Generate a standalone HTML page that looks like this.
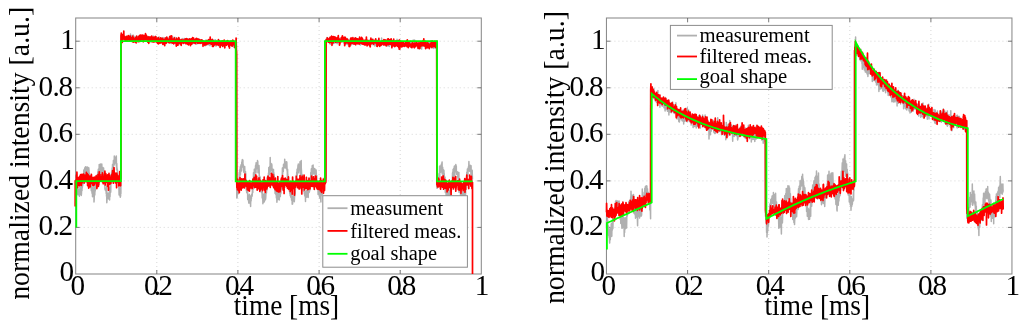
<!DOCTYPE html>
<html><head><meta charset="utf-8"><title>chart</title>
<style>
html,body{margin:0;padding:0;background:#fff;}
body{width:1024px;height:326px;overflow:hidden;font-family:"Liberation Serif",serif;}
svg{display:block;}
svg text{font-family:"Liberation Serif",serif;fill:#000;}
body{-webkit-font-smoothing:antialiased;}
svg{will-change:transform;transform:translateZ(0);}
</style></head><body>
<svg width="1024" height="326" viewBox="0 0 1024 326">
<rect width="1024" height="326" fill="#fff"/>
<g stroke="#d6d6d6" stroke-width="1" stroke-dasharray="1 3" fill="none"><line x1="156.8" y1="18.0" x2="156.8" y2="274.0"/><line x1="237.9" y1="18.0" x2="237.9" y2="274.0"/><line x1="319.1" y1="18.0" x2="319.1" y2="274.0"/><line x1="400.2" y1="18.0" x2="400.2" y2="274.0"/><line x1="75.7" y1="227.4" x2="481.3" y2="227.4"/><line x1="75.7" y1="180.9" x2="481.3" y2="180.9"/><line x1="75.7" y1="134.3" x2="481.3" y2="134.3"/><line x1="75.7" y1="87.8" x2="481.3" y2="87.8"/><line x1="75.7" y1="41.2" x2="481.3" y2="41.2"/></g>
<rect x="75.7" y="18.0" width="405.6" height="256.0" fill="none" stroke="#8a8a8a" stroke-width="1.05"/>
<g stroke="#6a6a6a" stroke-width="0.9"><line x1="156.8" y1="274.0" x2="156.8" y2="270.0"/><line x1="156.8" y1="18.0" x2="156.8" y2="22.0"/><line x1="237.9" y1="274.0" x2="237.9" y2="270.0"/><line x1="237.9" y1="18.0" x2="237.9" y2="22.0"/><line x1="319.1" y1="274.0" x2="319.1" y2="270.0"/><line x1="319.1" y1="18.0" x2="319.1" y2="22.0"/><line x1="400.2" y1="274.0" x2="400.2" y2="270.0"/><line x1="400.2" y1="18.0" x2="400.2" y2="22.0"/><line x1="75.7" y1="227.4" x2="79.7" y2="227.4"/><line x1="481.3" y1="227.4" x2="477.3" y2="227.4"/><line x1="75.7" y1="180.9" x2="79.7" y2="180.9"/><line x1="481.3" y1="180.9" x2="477.3" y2="180.9"/><line x1="75.7" y1="134.3" x2="79.7" y2="134.3"/><line x1="481.3" y1="134.3" x2="477.3" y2="134.3"/><line x1="75.7" y1="87.8" x2="79.7" y2="87.8"/><line x1="481.3" y1="87.8" x2="477.3" y2="87.8"/><line x1="75.7" y1="41.2" x2="79.7" y2="41.2"/><line x1="481.3" y1="41.2" x2="477.3" y2="41.2"/></g>
<path d="M75.7 204.2L75.9 183.7L76.0 179.0L76.2 181.9L76.3 179.8L76.5 182.9L76.6 186.6L76.8 191.1L76.9 186.3L77.1 181.3L77.2 188.4L77.4 192.9L77.5 187.0L77.7 192.7L77.8 194.7L78.0 187.3L78.1 189.9L78.3 194.3L78.4 193.7L78.6 194.5L78.8 189.7L78.9 190.8L79.1 195.3L79.2 192.6L79.4 196.3L79.5 189.9L79.7 190.5L79.8 192.6L80.0 185.2L80.1 193.5L80.3 188.5L80.4 189.1L80.6 194.2L80.7 194.4L80.9 187.5L81.0 194.0L81.2 189.3L81.3 195.4L81.5 193.1L81.7 186.6L81.8 190.6L82.0 190.5L82.1 185.4L82.3 187.6L82.4 186.8L82.6 183.3L82.7 185.3L82.9 183.5L83.0 176.8L83.2 176.9L83.3 180.8L83.5 176.2L83.6 179.3L83.8 169.9L83.9 179.7L84.1 170.7L84.2 171.6L84.4 172.0L84.6 172.3L84.7 168.1L84.9 170.2L85.0 172.1L85.2 172.4L85.3 173.4L85.5 166.7L85.6 174.3L85.8 175.3L85.9 170.7L86.1 177.4L86.2 170.6L86.4 167.3L86.5 167.1L86.7 168.1L86.8 169.5L87.0 167.4L87.1 170.4L87.3 170.7L87.5 172.0L87.6 167.1L87.8 179.3L87.9 170.5L88.1 169.4L88.2 168.9L88.4 171.7L88.5 171.5L88.7 174.9L88.8 167.8L89.0 170.4L89.1 180.5L89.3 174.8L89.4 173.0L89.6 174.9L89.7 178.1L89.9 180.2L90.0 184.9L90.2 178.7L90.4 181.2L90.5 179.5L90.7 182.8L90.8 188.0L91.0 187.7L91.1 185.3L91.3 190.7L91.4 186.0L91.6 181.9L91.7 181.4L91.9 182.1L92.0 193.3L92.2 189.4L92.3 187.2L92.5 196.7L92.6 189.7L92.8 188.2L93.0 193.8L93.1 193.6L93.3 193.1L93.4 196.1L93.6 191.8L93.7 189.7L93.9 187.1L94.0 201.9L94.2 198.6L94.3 193.3L94.5 193.1L94.6 192.9L94.8 195.1L94.9 191.5L95.1 184.3L95.2 191.3L95.4 187.2L95.5 187.2L95.7 182.8L95.9 188.1L96.0 187.0L96.2 182.6L96.3 182.5L96.5 181.4L96.6 175.2L96.8 179.7L96.9 177.7L97.1 186.9L97.2 179.4L97.4 176.1L97.5 176.1L97.7 173.8L97.8 172.2L98.0 171.4L98.1 177.4L98.3 169.2L98.4 173.2L98.6 174.7L98.8 172.0L98.9 172.0L99.1 171.6L99.2 164.4L99.4 167.0L99.5 172.0L99.7 169.0L99.8 167.5L100.0 171.9L100.1 164.2L100.3 170.4L100.4 177.1L100.6 164.0L100.7 169.2L100.9 169.4L101.0 165.3L101.2 171.9L101.3 169.7L101.5 170.6L101.7 168.5L101.8 164.1L102.0 169.9L102.1 177.6L102.3 177.7L102.4 169.1L102.6 168.0L102.7 175.4L102.9 172.9L103.0 167.5L103.2 175.6L103.3 180.5L103.5 177.4L103.6 167.9L103.8 179.8L103.9 178.6L104.1 177.5L104.2 176.9L104.4 181.2L104.6 182.8L104.7 179.6L104.9 188.4L105.0 189.1L105.2 189.6L105.3 188.1L105.5 190.5L105.6 189.8L105.8 190.9L105.9 190.6L106.1 189.1L106.2 193.6L106.4 191.1L106.5 196.3L106.7 185.9L106.8 202.8L107.0 199.9L107.1 192.8L107.3 195.7L107.5 197.2L107.6 194.6L107.8 198.5L107.9 195.9L108.1 193.4L108.2 196.6L108.4 196.6L108.5 194.4L108.7 197.4L108.8 195.7L109.0 199.2L109.1 192.4L109.3 197.6L109.4 189.3L109.6 200.1L109.7 193.2L109.9 187.5L110.0 196.8L110.2 189.5L110.4 188.0L110.5 187.1L110.7 192.3L110.8 189.7L111.0 174.4L111.1 175.3L111.3 179.9L111.4 179.0L111.6 172.0L111.7 175.5L111.9 176.0L112.0 174.4L112.2 168.0L112.3 176.4L112.5 164.6L112.6 170.3L112.8 167.9L112.9 169.9L113.1 171.6L113.3 166.9L113.4 160.5L113.6 163.4L113.7 161.3L113.9 161.5L114.0 164.0L114.2 165.0L114.3 156.1L114.5 157.5L114.6 162.9L114.8 158.7L114.9 158.3L115.1 159.7L115.2 159.7L115.4 157.5L115.5 159.4L115.7 163.2L115.8 160.4L116.0 161.0L116.2 165.1L116.3 155.9L116.5 165.4L116.6 169.7L116.8 163.6L116.9 167.1L117.1 168.3L117.2 171.0L117.4 169.7L117.5 173.4L117.7 177.4L117.8 176.5L118.0 180.0L118.1 174.9L118.3 176.2L118.4 181.4L118.6 185.7L118.7 178.6L118.9 186.8L119.1 194.9L119.2 190.3L119.4 188.4L119.5 187.7L119.7 188.7L119.8 192.7L120.0 189.7L120.1 195.6L120.3 197.2L120.4 193.2L120.6 196.3L120.7 193.4L120.9 193.4L121.0 36.6L121.2 37.4L121.3 38.5L121.5 38.2L121.7 39.4L121.8 37.9L122.0 37.7L122.1 37.8L122.3 38.9L122.4 38.0L122.6 37.1L122.7 37.8L122.9 38.2L123.0 38.7L123.2 38.7L123.3 39.0L123.5 35.5L123.6 37.9L123.8 37.9L123.9 37.9L124.1 37.1L124.2 39.1L124.4 37.4L124.6 38.0L124.7 37.2L124.9 37.9L125.0 37.4L125.2 36.8L125.3 37.8L125.5 39.3L125.6 39.5L125.8 39.2L125.9 37.8L126.1 39.9L126.2 37.9L126.4 37.4L126.5 36.8L126.7 37.8L126.8 40.5L127.0 38.7L127.1 38.2L127.3 36.9L127.5 38.0L127.6 39.5L127.8 38.5L127.9 39.0L128.1 37.0L128.2 39.3L128.4 36.6L128.5 39.1L128.7 36.6L128.8 36.2L129.0 37.5L129.1 39.7L129.3 37.5L129.4 38.4L129.6 38.1L129.7 37.6L129.9 37.3L130.0 38.4L130.2 35.8L130.4 38.2L130.5 34.1L130.7 36.5L130.8 36.5L131.0 38.0L131.1 35.7L131.3 37.6L131.4 37.0L131.6 38.2L131.7 39.3L131.9 36.6L132.0 36.6L132.2 38.7L132.3 37.3L132.5 39.9L132.6 36.9L132.8 37.6L132.9 37.3L133.1 35.0L133.3 39.2L133.4 38.5L133.6 39.6L133.7 38.6L133.9 37.6L134.0 36.2L134.2 38.3L134.3 40.8L134.5 38.8L134.6 37.6L134.8 40.8L134.9 41.2L135.1 39.8L135.2 37.9L135.4 37.1L135.5 39.2L135.7 37.9L135.8 39.9L136.0 36.7L136.2 39.4L136.3 39.5L136.5 39.0L136.6 38.5L136.8 39.9L136.9 39.0L137.1 39.9L137.2 39.4L137.4 40.1L137.5 39.0L137.7 37.6L137.8 38.4L138.0 36.5L138.1 37.0L138.3 40.4L138.4 37.6L138.6 40.5L138.7 37.1L138.9 36.6L139.1 37.9L139.2 37.8L139.4 39.6L139.5 37.4L139.7 37.6L139.8 38.2L140.0 37.7L140.1 37.0L140.3 38.0L140.4 37.9L140.6 39.3L140.7 36.9L140.9 39.6L141.0 38.0L141.2 36.8L141.3 38.9L141.5 39.3L141.6 40.2L141.8 39.6L142.0 36.6L142.1 39.7L142.3 38.4L142.4 38.7L142.6 39.3L142.7 36.4L142.9 39.3L143.0 36.3L143.2 36.5L143.3 37.6L143.5 38.6L143.6 37.6L143.8 38.2L143.9 36.8L144.1 37.6L144.2 39.3L144.4 38.6L144.5 37.9L144.7 38.6L144.9 36.8L145.0 39.4L145.2 38.6L145.3 40.5L145.5 37.0L145.6 39.5L145.8 39.3L145.9 38.0L146.1 39.6L146.2 40.7L146.4 41.4L146.5 37.5L146.7 37.4L146.8 40.6L147.0 39.8L147.1 40.9L147.3 38.7L147.4 37.5L147.6 38.7L147.8 41.3L147.9 39.0L148.1 40.3L148.2 39.3L148.4 39.3L148.5 41.5L148.7 36.6L148.8 41.2L149.0 38.3L149.1 39.7L149.3 39.2L149.4 39.2L149.6 38.6L149.7 36.7L149.9 38.1L150.0 42.3L150.2 39.0L150.3 38.3L150.5 38.2L150.7 39.1L150.8 38.4L151.0 39.8L151.1 38.3L151.3 38.6L151.4 40.3L151.6 41.1L151.7 39.2L151.9 40.5L152.0 39.4L152.2 39.1L152.3 38.7L152.5 39.1L152.6 38.2L152.8 39.7L152.9 38.6L153.1 36.0L153.3 39.6L153.4 39.9L153.6 37.9L153.7 39.7L153.9 40.2L154.0 39.9L154.2 39.8L154.3 39.2L154.5 38.4L154.6 38.9L154.8 40.6L154.9 38.9L155.1 38.8L155.2 38.2L155.4 38.9L155.5 41.2L155.7 39.3L155.8 38.5L156.0 38.6L156.2 40.4L156.3 39.7L156.5 37.0L156.6 39.8L156.8 39.3L156.9 40.3L157.1 38.9L157.2 38.9L157.4 37.7L157.5 39.2L157.7 39.4L157.8 39.4L158.0 37.8L158.1 38.4L158.3 40.7L158.4 41.4L158.6 38.3L158.7 39.5L158.9 39.1L159.1 38.4L159.2 36.9L159.4 37.7L159.5 39.6L159.7 41.3L159.8 40.9L160.0 39.0L160.1 39.2L160.3 38.4L160.4 39.7L160.6 39.2L160.7 40.4L160.9 40.5L161.0 40.3L161.2 37.8L161.3 39.2L161.5 39.0L161.6 43.1L161.8 39.6L162.0 40.5L162.1 38.5L162.3 38.3L162.4 38.7L162.6 40.1L162.7 41.2L162.9 40.0L163.0 37.6L163.2 40.6L163.3 40.4L163.5 38.9L163.6 40.2L163.8 42.3L163.9 38.5L164.1 40.5L164.2 41.3L164.4 42.0L164.5 39.2L164.7 38.0L164.9 39.3L165.0 40.9L165.2 39.6L165.3 40.9L165.5 40.9L165.6 40.0L165.8 40.8L165.9 38.8L166.1 41.4L166.2 39.7L166.4 41.8L166.5 42.4L166.7 38.7L166.8 41.1L167.0 40.4L167.1 40.2L167.3 39.8L167.4 39.5L167.6 40.7L167.8 39.7L167.9 38.9L168.1 41.9L168.2 39.5L168.4 39.4L168.5 39.9L168.7 40.5L168.8 38.1L169.0 39.3L169.1 39.8L169.3 40.1L169.4 39.4L169.6 41.6L169.7 42.0L169.9 41.2L170.0 40.0L170.2 40.9L170.3 39.7L170.5 41.3L170.7 37.9L170.8 39.3L171.0 39.7L171.1 43.6L171.3 38.3L171.4 38.2L171.6 36.6L171.7 40.6L171.9 40.9L172.0 40.6L172.2 38.2L172.3 41.1L172.5 40.4L172.6 41.3L172.8 37.1L172.9 39.8L173.1 40.8L173.2 40.1L173.4 40.5L173.6 42.4L173.7 39.3L173.9 40.1L174.0 41.1L174.2 42.0L174.3 41.0L174.5 41.0L174.6 39.9L174.8 37.2L174.9 39.5L175.1 41.4L175.2 42.5L175.4 41.6L175.5 41.3L175.7 41.9L175.8 39.7L176.0 38.6L176.1 42.6L176.3 39.3L176.5 41.0L176.6 40.3L176.8 43.7L176.9 41.4L177.1 41.7L177.2 41.5L177.4 41.9L177.5 42.8L177.7 41.1L177.8 42.3L178.0 41.5L178.1 39.8L178.3 39.1L178.4 41.2L178.6 40.9L178.7 40.2L178.9 42.8L179.0 41.7L179.2 41.1L179.4 40.8L179.5 39.7L179.7 39.3L179.8 41.8L180.0 42.0L180.1 44.6L180.3 41.4L180.4 41.8L180.6 41.4L180.7 43.1L180.9 41.6L181.0 39.5L181.2 39.9L181.3 41.5L181.5 41.1L181.6 43.4L181.8 39.8L181.9 43.0L182.1 42.4L182.3 42.4L182.4 40.0L182.6 41.4L182.7 40.5L182.9 38.5L183.0 40.1L183.2 42.3L183.3 40.6L183.5 41.5L183.6 41.3L183.8 42.3L183.9 40.0L184.1 41.1L184.2 40.6L184.4 41.8L184.5 38.6L184.7 42.2L184.9 41.5L185.0 42.9L185.2 39.4L185.3 39.2L185.5 41.0L185.6 40.2L185.8 39.8L185.9 41.4L186.1 39.1L186.2 39.7L186.4 41.1L186.5 42.4L186.7 40.3L186.8 39.7L187.0 41.4L187.1 39.7L187.3 40.4L187.4 40.7L187.6 40.8L187.8 40.8L187.9 40.8L188.1 38.8L188.2 40.4L188.4 40.6L188.5 38.9L188.7 41.8L188.8 41.3L189.0 40.0L189.1 40.6L189.3 43.6L189.4 41.1L189.6 41.8L189.7 40.4L189.9 40.6L190.0 41.1L190.2 43.9L190.3 42.9L190.5 41.2L190.7 42.1L190.8 40.1L191.0 40.4L191.1 42.4L191.3 41.8L191.4 41.8L191.6 42.4L191.7 42.9L191.9 39.4L192.0 43.4L192.2 41.8L192.3 43.0L192.5 43.7L192.6 41.0L192.8 42.7L192.9 38.8L193.1 42.3L193.2 39.9L193.4 42.7L193.6 42.6L193.7 42.1L193.9 40.3L194.0 43.5L194.2 43.1L194.3 42.5L194.5 43.1L194.6 42.0L194.8 42.6L194.9 43.3L195.1 42.3L195.2 43.4L195.4 40.8L195.5 42.3L195.7 42.0L195.8 42.4L196.0 39.8L196.1 41.8L196.3 42.5L196.5 43.5L196.6 40.1L196.8 44.3L196.9 40.9L197.1 41.2L197.2 42.6L197.4 41.6L197.5 40.5L197.7 41.2L197.8 40.2L198.0 43.2L198.1 42.3L198.3 42.2L198.4 42.1L198.6 41.5L198.7 38.8L198.9 39.3L199.0 40.7L199.2 41.7L199.4 41.7L199.5 39.4L199.7 39.8L199.8 42.2L200.0 40.6L200.1 41.9L200.3 42.5L200.4 42.2L200.6 40.6L200.7 41.3L200.9 42.9L201.0 40.3L201.2 41.8L201.3 42.5L201.5 41.6L201.6 40.8L201.8 42.9L201.9 43.3L202.1 41.9L202.3 41.9L202.4 40.1L202.6 42.3L202.7 40.8L202.9 42.4L203.0 41.5L203.2 42.4L203.3 42.6L203.5 40.7L203.6 42.8L203.8 42.0L203.9 41.5L204.1 42.2L204.2 43.4L204.4 42.0L204.5 43.6L204.7 42.6L204.8 41.1L205.0 42.8L205.2 45.8L205.3 43.6L205.5 42.7L205.6 43.1L205.8 43.5L205.9 40.0L206.1 41.4L206.2 43.0L206.4 43.9L206.5 42.2L206.7 45.1L206.8 43.6L207.0 43.7L207.1 42.6L207.3 41.9L207.4 43.0L207.6 40.9L207.7 41.9L207.9 43.9L208.1 44.1L208.2 42.0L208.4 44.1L208.5 43.4L208.7 42.5L208.8 43.1L209.0 45.0L209.1 42.3L209.3 43.1L209.4 44.4L209.6 42.8L209.7 43.7L209.9 41.2L210.0 45.7L210.2 44.2L210.3 42.3L210.5 42.8L210.6 42.0L210.8 43.4L211.0 42.6L211.1 41.6L211.3 40.9L211.4 41.9L211.6 42.5L211.7 40.8L211.9 42.7L212.0 42.6L212.2 42.3L212.3 42.3L212.5 42.6L212.6 42.5L212.8 41.5L212.9 42.5L213.1 41.5L213.2 42.0L213.4 40.9L213.6 44.1L213.7 42.7L213.9 39.8L214.0 41.5L214.2 41.5L214.3 43.7L214.5 44.0L214.6 44.6L214.8 44.2L214.9 43.8L215.1 43.2L215.2 43.7L215.4 44.7L215.5 39.8L215.7 42.4L215.8 40.6L216.0 46.2L216.1 42.7L216.3 41.8L216.5 41.2L216.6 41.1L216.8 42.9L216.9 43.9L217.1 41.7L217.2 41.8L217.4 42.2L217.5 41.4L217.7 42.9L217.8 44.1L218.0 43.8L218.1 42.3L218.3 43.3L218.4 43.6L218.6 42.0L218.7 43.3L218.9 46.0L219.0 43.8L219.2 42.1L219.4 43.0L219.5 41.0L219.7 42.0L219.8 45.4L220.0 43.2L220.1 42.6L220.3 42.4L220.4 43.0L220.6 44.4L220.7 44.7L220.9 44.4L221.0 41.4L221.2 43.1L221.3 42.7L221.5 42.8L221.6 44.9L221.8 45.0L221.9 44.7L222.1 42.8L222.3 43.1L222.4 45.1L222.6 42.5L222.7 44.0L222.9 43.7L223.0 43.9L223.2 44.6L223.3 43.6L223.5 42.8L223.6 45.8L223.8 44.3L223.9 44.8L224.1 44.5L224.2 44.4L224.4 41.8L224.5 43.5L224.7 42.3L224.8 41.8L225.0 43.7L225.2 43.4L225.3 41.7L225.5 43.3L225.6 41.5L225.8 41.5L225.9 42.3L226.1 44.8L226.2 45.3L226.4 42.3L226.5 42.3L226.7 43.7L226.8 42.4L227.0 43.3L227.1 42.3L227.3 43.0L227.4 43.5L227.6 43.1L227.7 42.4L227.9 44.5L228.1 41.6L228.2 43.7L228.4 41.5L228.5 41.6L228.7 42.2L228.8 43.1L229.0 41.8L229.1 42.8L229.3 42.6L229.4 42.6L229.6 43.1L229.7 41.5L229.9 42.6L230.0 43.7L230.2 41.5L230.3 42.4L230.5 42.6L230.6 42.2L230.8 45.0L231.0 42.1L231.1 42.6L231.3 43.5L231.4 43.8L231.6 43.7L231.7 43.3L231.9 43.4L232.0 45.0L232.2 42.9L232.3 42.4L232.5 40.7L232.6 45.7L232.8 44.2L232.9 46.1L233.1 42.9L233.2 43.2L233.4 42.6L233.5 46.9L233.7 45.6L233.9 44.2L234.0 42.5L234.2 43.8L234.3 45.1L234.5 45.2L234.6 43.3L234.8 44.4L234.9 46.1L235.1 42.7L235.2 44.5L235.4 43.5L235.5 44.4L235.7 44.4L235.8 53.3L236.0 57.2L236.1 62.7L236.3 50.8L236.4 57.3L236.6 54.5L236.8 198.1L236.9 189.5L237.1 197.4L237.2 195.0L237.4 187.3L237.5 193.6L237.7 190.1L237.8 193.8L238.0 193.7L238.1 192.4L238.3 188.3L238.4 193.6L238.6 192.1L238.7 184.6L238.9 180.6L239.0 183.6L239.2 178.7L239.3 172.2L239.5 179.8L239.7 179.6L239.8 169.7L240.0 175.2L240.1 174.3L240.3 166.8L240.4 174.9L240.6 169.9L240.7 169.8L240.9 165.9L241.0 164.8L241.2 167.2L241.3 166.1L241.5 171.1L241.6 165.6L241.8 162.0L241.9 167.1L242.1 163.9L242.2 160.2L242.4 159.6L242.6 163.6L242.7 164.5L242.9 160.1L243.0 167.0L243.2 164.8L243.3 164.9L243.5 166.4L243.6 169.2L243.8 172.3L243.9 170.0L244.1 167.6L244.2 170.7L244.4 171.7L244.5 170.3L244.7 166.4L244.8 169.7L245.0 177.4L245.2 171.4L245.3 174.6L245.5 171.4L245.6 178.3L245.8 173.8L245.9 185.4L246.1 182.3L246.2 186.2L246.4 190.6L246.5 183.1L246.7 192.6L246.8 191.0L247.0 188.0L247.1 191.0L247.3 189.7L247.4 193.7L247.6 189.8L247.7 199.5L247.9 196.4L248.1 198.6L248.2 195.4L248.4 197.8L248.5 201.1L248.7 201.2L248.8 203.1L249.0 199.1L249.1 197.5L249.3 194.3L249.4 201.9L249.6 198.1L249.7 196.3L249.9 202.2L250.0 200.4L250.2 197.8L250.3 204.1L250.5 202.2L250.6 206.4L250.8 195.8L251.0 197.7L251.1 201.0L251.3 195.2L251.4 198.8L251.6 194.4L251.7 196.8L251.9 193.9L252.0 196.4L252.2 195.5L252.3 194.1L252.5 188.5L252.6 186.6L252.8 192.6L252.9 187.3L253.1 189.4L253.2 184.7L253.4 181.5L253.5 172.8L253.7 177.1L253.9 174.2L254.0 175.5L254.2 175.1L254.3 169.2L254.5 170.5L254.6 176.3L254.8 170.7L254.9 170.7L255.1 168.9L255.2 170.9L255.4 170.7L255.5 166.1L255.7 165.1L255.8 173.1L256.0 172.3L256.1 162.7L256.3 164.2L256.4 169.2L256.6 167.6L256.8 167.6L256.9 168.3L257.1 164.4L257.2 164.2L257.4 164.4L257.5 160.4L257.7 166.8L257.8 161.5L258.0 172.7L258.1 168.3L258.3 168.1L258.4 171.5L258.6 171.7L258.7 171.2L258.9 170.4L259.0 165.5L259.2 170.2L259.3 179.7L259.5 179.1L259.7 182.6L259.8 176.2L260.0 178.6L260.1 181.5L260.3 177.6L260.4 184.5L260.6 188.5L260.7 187.1L260.9 184.9L261.0 191.9L261.2 189.7L261.3 189.2L261.5 187.4L261.6 190.2L261.8 188.6L261.9 192.5L262.1 194.2L262.2 197.9L262.4 191.6L262.6 195.8L262.7 195.3L262.9 203.7L263.0 194.0L263.2 197.6L263.3 199.1L263.5 199.7L263.6 202.3L263.8 200.0L263.9 194.5L264.1 198.0L264.2 202.0L264.4 200.2L264.5 196.3L264.7 193.4L264.8 200.6L265.0 199.6L265.1 198.6L265.3 197.9L265.5 193.8L265.6 199.3L265.8 196.8L265.9 194.1L266.1 190.2L266.2 190.8L266.4 193.1L266.5 192.6L266.7 184.8L266.8 187.8L267.0 182.3L267.1 189.9L267.3 177.3L267.4 182.2L267.6 178.5L267.7 176.6L267.9 179.8L268.0 176.6L268.2 183.2L268.4 176.1L268.5 173.1L268.7 177.5L268.8 167.6L269.0 167.6L269.1 173.9L269.3 174.6L269.4 167.8L269.6 173.5L269.7 166.8L269.9 166.2L270.0 173.7L270.2 157.5L270.3 170.3L270.5 167.1L270.6 171.1L270.8 170.3L270.9 163.2L271.1 164.0L271.3 165.0L271.4 164.7L271.6 166.1L271.7 163.9L271.9 165.3L272.0 169.9L272.2 170.1L272.3 173.1L272.5 171.4L272.6 169.1L272.8 171.0L272.9 175.9L273.1 175.2L273.2 173.7L273.4 174.8L273.5 169.6L273.7 177.6L273.8 172.5L274.0 179.5L274.2 174.5L274.3 176.8L274.5 179.5L274.6 186.4L274.8 187.1L274.9 187.2L275.1 193.4L275.2 187.9L275.4 182.6L275.5 188.5L275.7 194.2L275.8 194.3L276.0 190.0L276.1 189.2L276.3 196.2L276.4 198.0L276.6 196.9L276.8 197.9L276.9 202.3L277.1 198.6L277.2 190.8L277.4 192.3L277.5 198.3L277.7 191.1L277.8 193.4L278.0 196.6L278.1 199.4L278.3 198.8L278.4 197.8L278.6 195.4L278.7 197.8L278.9 192.8L279.0 193.8L279.2 188.1L279.3 199.9L279.5 193.7L279.7 195.6L279.8 195.6L280.0 194.6L280.1 190.5L280.3 196.6L280.4 194.7L280.6 189.3L280.7 186.8L280.9 193.2L281.0 189.4L281.2 189.8L281.3 188.3L281.5 188.0L281.6 181.1L281.8 178.4L281.9 179.1L282.1 183.5L282.2 180.0L282.4 168.0L282.6 174.5L282.7 173.2L282.9 167.5L283.0 170.8L283.2 170.8L283.3 171.4L283.5 164.4L283.6 165.5L283.8 167.1L283.9 165.9L284.1 167.7L284.2 163.4L284.4 167.1L284.5 166.7L284.7 159.3L284.8 161.7L285.0 166.2L285.1 168.0L285.3 165.8L285.5 162.9L285.6 167.3L285.8 162.1L285.9 164.4L286.1 166.1L286.2 161.8L286.4 166.6L286.5 168.9L286.7 165.8L286.8 161.9L287.0 166.9L287.1 171.2L287.3 170.6L287.4 181.8L287.6 169.2L287.7 174.1L287.9 174.8L288.0 179.1L288.2 181.0L288.4 179.4L288.5 177.0L288.7 186.1L288.8 188.6L289.0 182.7L289.1 184.8L289.3 187.6L289.4 191.3L289.6 184.7L289.7 185.6L289.9 194.1L290.0 191.7L290.2 195.8L290.3 194.0L290.5 191.5L290.6 189.2L290.8 197.3L290.9 194.6L291.1 196.8L291.3 195.4L291.4 197.1L291.6 200.2L291.7 194.5L291.9 192.5L292.0 192.5L292.2 204.3L292.3 198.8L292.5 197.7L292.6 204.0L292.8 197.2L292.9 197.1L293.1 200.1L293.2 200.7L293.4 197.2L293.5 199.2L293.7 198.4L293.8 199.5L294.0 193.9L294.2 196.5L294.3 201.8L294.5 198.7L294.6 191.3L294.8 196.2L294.9 192.2L295.1 186.4L295.2 194.0L295.4 184.4L295.5 181.9L295.7 185.4L295.8 184.4L296.0 183.1L296.1 175.8L296.3 176.4L296.4 175.6L296.6 177.1L296.7 172.2L296.9 175.0L297.1 169.2L297.2 175.4L297.4 170.6L297.5 168.8L297.7 172.0L297.8 168.4L298.0 165.3L298.1 166.3L298.3 164.1L298.4 168.6L298.6 165.2L298.7 168.4L298.9 172.9L299.0 169.3L299.2 170.2L299.3 168.2L299.5 164.2L299.6 165.0L299.8 168.1L300.0 161.8L300.1 165.7L300.3 165.1L300.4 165.2L300.6 171.1L300.7 176.5L300.9 167.5L301.0 172.9L301.2 160.4L301.3 168.9L301.5 170.9L301.6 174.0L301.8 174.1L301.9 176.8L302.1 177.4L302.2 177.6L302.4 175.3L302.5 175.2L302.7 175.0L302.9 176.2L303.0 185.3L303.2 190.8L303.3 183.0L303.5 184.2L303.6 189.2L303.8 191.4L303.9 190.8L304.1 191.8L304.2 189.0L304.4 193.9L304.5 192.7L304.7 192.0L304.8 196.1L305.0 195.7L305.1 192.5L305.3 194.1L305.5 201.4L305.6 192.9L305.8 193.6L305.9 190.9L306.1 195.9L306.2 191.1L306.4 195.9L306.5 196.9L306.7 197.2L306.8 190.3L307.0 193.6L307.1 193.7L307.3 190.3L307.4 189.9L307.6 188.9L307.7 191.9L307.9 184.4L308.0 183.5L308.2 197.6L308.4 190.4L308.5 187.7L308.7 189.3L308.8 191.0L309.0 188.7L309.1 192.5L309.3 187.9L309.4 178.8L309.6 188.6L309.7 190.9L309.9 182.5L310.0 184.3L310.2 178.5L310.3 180.4L310.5 182.8L310.6 180.8L310.8 172.4L310.9 177.0L311.1 178.3L311.3 170.4L311.4 168.8L311.6 170.8L311.7 169.8L311.9 170.3L312.0 179.2L312.2 165.8L312.3 169.5L312.5 171.8L312.6 167.5L312.8 172.4L312.9 174.3L313.1 164.9L313.2 174.1L313.4 168.0L313.5 171.8L313.7 169.0L313.8 171.6L314.0 170.8L314.2 168.5L314.3 173.8L314.5 171.3L314.6 171.0L314.8 169.0L314.9 168.8L315.1 174.4L315.2 173.6L315.4 182.9L315.5 171.3L315.7 174.0L315.8 177.6L316.0 173.5L316.1 169.9L316.3 174.7L316.4 182.8L316.6 182.3L316.7 175.5L316.9 179.0L317.1 188.6L317.2 183.0L317.4 181.1L317.5 184.4L317.7 182.6L317.8 189.9L318.0 187.0L318.1 194.4L318.3 187.3L318.4 182.6L318.6 192.6L318.7 191.0L318.9 191.0L319.0 194.9L319.2 194.8L319.3 195.1L319.5 197.0L319.6 195.4L319.8 198.0L320.0 194.9L320.1 198.5L320.3 190.5L320.4 197.1L320.6 196.3L320.7 194.7L320.9 201.9L321.0 192.6L321.2 193.4L321.3 190.9L321.5 193.0L321.6 194.0L321.8 193.6L321.9 195.6L322.1 190.0L322.2 194.7L322.4 188.8L322.5 194.4L322.7 188.7L322.9 188.2L323.0 192.5L323.2 187.1L323.3 188.7L323.5 187.1L323.6 185.6L323.8 188.9L323.9 187.3L324.1 183.5L324.2 177.9L324.4 178.5L324.5 183.1L324.7 179.1L324.8 174.2L325.0 182.8L325.1 180.8L325.3 177.7L325.4 180.3L325.6 181.1L325.8 178.2L325.9 177.7L326.1 41.8L326.2 42.3L326.4 39.3L326.5 38.7L326.7 41.6L326.8 40.5L327.0 37.5L327.1 41.3L327.3 38.8L327.4 39.7L327.6 38.4L327.7 40.3L327.9 40.1L328.0 40.9L328.2 39.4L328.3 41.1L328.5 38.5L328.7 40.2L328.8 38.9L329.0 42.0L329.1 42.4L329.3 40.7L329.4 43.3L329.6 38.3L329.7 37.9L329.9 41.6L330.0 38.6L330.2 44.3L330.3 39.9L330.5 40.8L330.6 40.6L330.8 40.1L330.9 41.5L331.1 38.2L331.2 41.6L331.4 40.5L331.6 39.2L331.7 40.1L331.9 43.2L332.0 41.4L332.2 42.8L332.3 40.5L332.5 42.0L332.6 39.3L332.8 41.5L332.9 43.8L333.1 43.4L333.2 41.2L333.4 42.1L333.5 41.5L333.7 43.3L333.8 40.8L334.0 41.1L334.1 41.8L334.3 42.6L334.5 41.6L334.6 43.1L334.8 40.7L334.9 42.0L335.1 41.0L335.2 39.4L335.4 40.2L335.5 39.7L335.7 42.2L335.8 40.3L336.0 42.4L336.1 40.7L336.3 42.0L336.4 43.0L336.6 41.8L336.7 39.9L336.9 41.1L337.1 42.3L337.2 43.7L337.4 42.8L337.5 41.7L337.7 42.0L337.8 40.4L338.0 41.4L338.1 42.1L338.3 38.1L338.4 39.7L338.6 40.5L338.7 39.3L338.9 41.6L339.0 41.2L339.2 42.7L339.3 39.0L339.5 41.9L339.6 38.4L339.8 42.0L340.0 39.1L340.1 41.8L340.3 41.2L340.4 41.4L340.6 40.8L340.7 39.5L340.9 39.0L341.0 38.7L341.2 40.4L341.3 40.5L341.5 39.1L341.6 38.5L341.8 40.8L341.9 40.7L342.1 39.7L342.2 41.1L342.4 40.9L342.5 39.8L342.7 37.0L342.9 39.0L343.0 40.4L343.2 41.5L343.3 41.9L343.5 39.7L343.6 42.6L343.8 40.2L343.9 42.9L344.1 39.7L344.2 38.6L344.4 40.7L344.5 39.0L344.7 40.9L344.8 40.8L345.0 39.5L345.1 39.1L345.3 41.8L345.4 42.3L345.6 41.0L345.8 43.0L345.9 42.1L346.1 43.9L346.2 41.7L346.4 41.8L346.5 43.0L346.7 42.7L346.8 40.6L347.0 44.1L347.1 38.6L347.3 42.2L347.4 44.5L347.6 43.4L347.7 43.9L347.9 43.8L348.0 40.5L348.2 40.0L348.3 43.7L348.5 43.1L348.7 42.6L348.8 42.0L349.0 39.5L349.1 44.3L349.3 42.4L349.4 42.1L349.6 43.1L349.7 43.4L349.9 41.6L350.0 45.2L350.2 43.0L350.3 40.6L350.5 44.0L350.6 43.4L350.8 41.3L350.9 41.7L351.1 42.3L351.2 44.9L351.4 39.7L351.6 42.8L351.7 40.7L351.9 40.5L352.0 40.1L352.2 39.9L352.3 43.1L352.5 43.0L352.6 42.5L352.8 41.8L352.9 41.0L353.1 41.6L353.2 40.0L353.4 41.4L353.5 44.2L353.7 42.9L353.8 42.0L354.0 41.8L354.1 40.2L354.3 40.3L354.5 39.8L354.6 38.0L354.8 43.8L354.9 43.4L355.1 43.1L355.2 40.6L355.4 41.9L355.5 42.5L355.7 42.9L355.8 41.3L356.0 40.2L356.1 41.5L356.3 40.8L356.4 41.1L356.6 41.5L356.7 40.2L356.9 42.1L357.0 40.5L357.2 39.5L357.4 42.0L357.5 40.6L357.7 39.0L357.8 42.7L358.0 41.5L358.1 41.4L358.3 40.7L358.4 42.1L358.6 39.5L358.7 38.8L358.9 42.6L359.0 42.3L359.2 41.8L359.3 40.2L359.5 40.6L359.6 42.6L359.8 43.0L359.9 42.2L360.1 44.1L360.3 45.1L360.4 40.7L360.6 41.2L360.7 41.1L360.9 42.0L361.0 42.9L361.2 42.2L361.3 41.3L361.5 42.3L361.6 41.8L361.8 44.0L361.9 42.4L362.1 42.3L362.2 42.5L362.4 41.3L362.5 44.2L362.7 41.3L362.8 40.5L363.0 41.6L363.2 43.5L363.3 41.7L363.5 43.1L363.6 41.4L363.8 43.2L363.9 41.3L364.1 42.5L364.2 41.7L364.4 40.8L364.5 43.2L364.7 42.9L364.8 41.4L365.0 41.9L365.1 42.1L365.3 40.0L365.4 43.1L365.6 42.8L365.8 39.5L365.9 41.1L366.1 42.6L366.2 43.0L366.4 42.3L366.5 39.9L366.7 42.8L366.8 43.4L367.0 42.4L367.1 41.5L367.3 41.1L367.4 42.0L367.6 40.8L367.7 43.1L367.9 41.4L368.0 43.0L368.2 42.8L368.3 41.2L368.5 41.2L368.7 42.1L368.8 41.4L369.0 41.9L369.1 42.5L369.3 43.3L369.4 41.9L369.6 41.6L369.7 39.9L369.9 40.0L370.0 43.6L370.2 42.4L370.3 42.1L370.5 41.4L370.6 40.4L370.8 41.0L370.9 41.3L371.1 43.4L371.2 42.3L371.4 41.9L371.6 41.7L371.7 43.0L371.9 41.7L372.0 40.6L372.2 44.1L372.3 41.6L372.5 41.5L372.6 40.7L372.8 39.0L372.9 44.8L373.1 41.5L373.2 41.0L373.4 43.0L373.5 42.0L373.7 43.1L373.8 43.0L374.0 40.9L374.1 42.5L374.3 42.1L374.5 44.7L374.6 42.0L374.8 45.9L374.9 43.5L375.1 42.4L375.2 44.9L375.4 43.0L375.5 42.8L375.7 41.7L375.8 44.6L376.0 43.1L376.1 44.6L376.3 42.7L376.4 43.0L376.6 46.3L376.7 44.6L376.9 39.9L377.0 41.6L377.2 43.0L377.4 43.4L377.5 40.8L377.7 45.6L377.8 42.6L378.0 44.8L378.1 43.5L378.3 43.6L378.4 43.1L378.6 43.4L378.7 42.3L378.9 44.7L379.0 41.6L379.2 44.0L379.3 42.5L379.5 43.4L379.6 41.3L379.8 43.7L379.9 45.2L380.1 42.9L380.3 42.5L380.4 42.5L380.6 43.9L380.7 42.4L380.9 42.1L381.0 42.9L381.2 42.5L381.3 45.6L381.5 44.3L381.6 38.0L381.8 44.0L381.9 42.7L382.1 40.4L382.2 42.3L382.4 43.9L382.5 42.2L382.7 43.6L382.8 43.8L383.0 43.3L383.2 42.2L383.3 40.2L383.5 42.2L383.6 42.5L383.8 40.7L383.9 42.4L384.1 41.9L384.2 42.5L384.4 40.1L384.5 40.7L384.7 41.0L384.8 42.9L385.0 42.6L385.1 42.2L385.3 44.0L385.4 45.2L385.6 42.4L385.7 42.0L385.9 43.6L386.1 42.1L386.2 41.1L386.4 41.3L386.5 43.2L386.7 42.3L386.8 46.3L387.0 40.5L387.1 44.4L387.3 42.5L387.4 41.7L387.6 45.0L387.7 45.7L387.9 42.1L388.0 39.0L388.2 43.0L388.3 44.2L388.5 41.8L388.6 45.9L388.8 44.2L389.0 43.9L389.1 42.4L389.3 44.8L389.4 46.5L389.6 45.3L389.7 44.9L389.9 44.1L390.0 40.2L390.2 41.7L390.3 43.5L390.5 44.1L390.6 42.7L390.8 43.2L390.9 44.4L391.1 41.7L391.2 42.7L391.4 42.7L391.5 43.7L391.7 44.3L391.9 45.6L392.0 44.9L392.2 44.5L392.3 42.9L392.5 44.0L392.6 43.6L392.8 44.9L392.9 45.4L393.1 41.9L393.2 43.1L393.4 45.1L393.5 45.0L393.7 43.0L393.8 42.7L394.0 41.4L394.1 43.9L394.3 43.4L394.4 42.0L394.6 44.3L394.8 44.8L394.9 44.4L395.1 43.6L395.2 42.5L395.4 44.2L395.5 43.8L395.7 43.4L395.8 44.5L396.0 44.2L396.1 41.6L396.3 42.7L396.4 43.3L396.6 42.3L396.7 43.3L396.9 42.9L397.0 39.3L397.2 41.7L397.4 42.8L397.5 41.4L397.7 40.9L397.8 44.4L398.0 43.9L398.1 42.6L398.3 43.0L398.4 42.6L398.6 44.0L398.7 41.6L398.9 43.8L399.0 44.1L399.2 43.0L399.3 40.0L399.5 43.6L399.6 42.2L399.8 42.4L399.9 43.6L400.1 43.5L400.3 45.0L400.4 43.0L400.6 45.3L400.7 40.7L400.9 43.1L401.0 44.9L401.2 43.3L401.3 45.5L401.5 42.2L401.6 44.8L401.8 44.3L401.9 43.4L402.1 42.9L402.2 43.2L402.4 44.3L402.5 43.8L402.7 45.8L402.8 45.8L403.0 43.2L403.2 45.0L403.3 44.5L403.5 43.7L403.6 46.4L403.8 46.0L403.9 44.4L404.1 43.4L404.2 44.5L404.4 42.7L404.5 44.7L404.7 44.6L404.8 43.3L405.0 43.7L405.1 43.7L405.3 43.7L405.4 43.5L405.6 44.4L405.7 45.5L405.9 42.5L406.1 46.2L406.2 44.9L406.4 44.7L406.5 45.7L406.7 41.6L406.8 43.9L407.0 42.8L407.1 45.4L407.3 43.4L407.4 45.9L407.6 43.4L407.7 42.2L407.9 45.7L408.0 42.9L408.2 43.9L408.3 42.4L408.5 44.4L408.6 44.0L408.8 44.0L409.0 44.7L409.1 43.6L409.3 45.4L409.4 44.7L409.6 45.7L409.7 43.1L409.9 43.1L410.0 44.6L410.2 41.0L410.3 45.0L410.5 44.5L410.6 43.1L410.8 45.3L410.9 47.1L411.1 44.0L411.2 41.5L411.4 42.3L411.5 44.2L411.7 42.8L411.9 43.7L412.0 44.4L412.2 46.5L412.3 44.6L412.5 45.7L412.6 43.9L412.8 44.8L412.9 41.8L413.1 43.8L413.2 40.1L413.4 44.3L413.5 44.3L413.7 44.3L413.8 43.0L414.0 46.6L414.1 42.2L414.3 43.1L414.4 46.8L414.6 40.1L414.8 44.6L414.9 44.8L415.1 43.8L415.2 43.2L415.4 44.7L415.5 44.1L415.7 44.5L415.8 45.5L416.0 43.6L416.1 43.1L416.3 45.2L416.4 45.3L416.6 44.1L416.7 42.8L416.9 44.4L417.0 45.2L417.2 45.2L417.3 45.3L417.5 46.1L417.7 43.2L417.8 43.3L418.0 47.5L418.1 47.2L418.3 46.2L418.4 48.6L418.6 45.6L418.7 45.5L418.9 46.0L419.0 46.5L419.2 45.7L419.3 45.8L419.5 47.6L419.6 45.9L419.8 44.2L419.9 46.3L420.1 43.8L420.2 43.6L420.4 45.6L420.6 44.9L420.7 44.3L420.9 44.5L421.0 45.4L421.2 45.8L421.3 45.6L421.5 44.2L421.6 49.1L421.8 46.2L421.9 43.6L422.1 45.1L422.2 43.8L422.4 44.4L422.5 44.0L422.7 44.3L422.8 44.3L423.0 45.3L423.1 44.4L423.3 44.2L423.5 45.4L423.6 44.2L423.8 44.9L423.9 46.1L424.1 44.5L424.2 46.1L424.4 43.0L424.5 44.0L424.7 44.6L424.8 42.7L425.0 43.7L425.1 45.0L425.3 46.1L425.4 43.8L425.6 43.2L425.7 45.8L425.9 45.3L426.0 45.7L426.2 44.2L426.4 42.1L426.5 45.0L426.7 41.8L426.8 44.3L427.0 44.5L427.1 45.0L427.3 44.2L427.4 45.3L427.6 42.4L427.7 44.1L427.9 45.1L428.0 43.8L428.2 45.3L428.3 44.8L428.5 42.0L428.6 45.2L428.8 45.1L429.0 44.6L429.1 43.8L429.3 45.9L429.4 43.8L429.6 41.9L429.7 45.7L429.9 43.9L430.0 47.0L430.2 43.7L430.3 45.0L430.5 44.7L430.6 43.7L430.8 47.3L430.9 47.5L431.1 45.1L431.2 45.5L431.4 44.6L431.5 43.0L431.7 45.3L431.9 44.6L432.0 45.7L432.2 44.8L432.3 46.3L432.5 47.4L432.6 44.8L432.8 44.6L432.9 46.2L433.1 46.0L433.2 44.3L433.4 45.7L433.5 46.6L433.7 46.8L433.8 48.4L434.0 45.4L434.1 46.4L434.3 44.5L434.4 45.2L434.6 46.6L434.8 45.7L434.9 46.5L435.1 45.4L435.2 46.2L435.4 43.6L435.5 48.0L435.7 46.3L435.8 48.2L436.0 43.5L436.1 46.9L436.3 46.8L436.4 43.9L436.6 46.0L436.7 47.3L436.9 187.1L437.0 188.3L437.2 185.1L437.3 188.1L437.5 185.2L437.7 181.8L437.8 186.8L438.0 178.3L438.1 183.4L438.3 178.4L438.4 180.4L438.6 177.3L438.7 183.1L438.9 174.9L439.0 173.6L439.2 178.2L439.3 178.6L439.5 170.6L439.6 166.3L439.8 176.6L439.9 166.0L440.1 172.6L440.2 166.2L440.4 168.0L440.6 167.3L440.7 172.2L440.9 167.1L441.0 165.9L441.2 164.8L441.3 171.3L441.5 164.1L441.6 164.5L441.8 168.5L441.9 163.3L442.1 161.9L442.2 173.9L442.4 168.0L442.5 170.8L442.7 167.2L442.8 171.0L443.0 170.5L443.1 169.6L443.3 173.5L443.5 181.2L443.6 172.0L443.8 172.3L443.9 170.2L444.1 177.0L444.2 173.4L444.4 181.3L444.5 180.9L444.7 182.9L444.8 187.4L445.0 177.1L445.1 179.7L445.3 192.3L445.4 192.5L445.6 187.6L445.7 182.3L445.9 190.2L446.0 192.0L446.2 196.7L446.4 196.8L446.5 191.0L446.7 195.0L446.8 196.0L447.0 197.2L447.1 201.1L447.3 191.1L447.4 199.0L447.6 193.7L447.7 198.5L447.9 201.6L448.0 203.8L448.2 198.2L448.3 196.7L448.5 196.2L448.6 196.1L448.8 195.6L448.9 190.5L449.1 192.1L449.3 195.4L449.4 203.1L449.6 194.4L449.7 191.1L449.9 195.2L450.0 195.2L450.2 197.9L450.3 186.8L450.5 197.6L450.6 192.2L450.8 193.2L450.9 188.3L451.1 188.0L451.2 191.0L451.4 190.1L451.5 185.3L451.7 189.3L451.8 184.8L452.0 181.1L452.2 182.3L452.3 183.8L452.5 173.1L452.6 179.1L452.8 171.9L452.9 177.0L453.1 169.2L453.2 180.5L453.4 182.7L453.5 169.8L453.7 177.3L453.8 168.3L454.0 168.3L454.1 175.4L454.3 166.3L454.4 172.6L454.6 166.8L454.7 177.8L454.9 165.9L455.1 166.3L455.2 167.5L455.4 169.5L455.5 170.1L455.7 165.1L455.8 164.6L456.0 166.1L456.1 171.4L456.3 165.9L456.4 172.1L456.6 173.1L456.7 174.4L456.9 173.5L457.0 173.6L457.2 171.7L457.3 172.1L457.5 174.8L457.7 173.1L457.8 177.5L458.0 172.3L458.1 179.3L458.3 178.5L458.4 173.7L458.6 172.8L458.7 175.4L458.9 172.4L459.0 192.3L459.2 186.2L459.3 182.0L459.5 188.7L459.6 187.6L459.8 186.1L459.9 186.7L460.1 189.1L460.2 190.5L460.4 189.3L460.6 200.7L460.7 192.9L460.9 198.0L461.0 193.9L461.2 196.5L461.3 195.1L461.5 194.3L461.6 197.7L461.8 197.2L461.9 198.6L462.1 200.4L462.2 206.0L462.4 205.0L462.5 198.5L462.7 200.2L462.8 191.8L463.0 205.1L463.1 199.2L463.3 197.6L463.5 195.3L463.6 200.2L463.8 198.5L463.9 194.7L464.1 198.4L464.2 190.5L464.4 199.7L464.5 199.2L464.7 193.2L464.8 191.5L465.0 186.7L465.1 191.5L465.3 191.7L465.4 192.3L465.6 194.9L465.7 183.9L465.9 189.9L466.0 189.0L466.2 182.4L466.4 179.8L466.5 182.9L466.7 179.1L466.8 172.3L467.0 178.0L467.1 174.0L467.3 172.3L467.4 168.9L467.6 174.6L467.7 172.9L467.9 175.9L468.0 169.6L468.2 169.7L468.3 168.2L468.5 166.7L468.6 170.6L468.8 165.9L468.9 161.5L469.1 167.0L469.3 169.1L469.4 171.1L469.6 170.3L469.7 171.3L469.9 168.2L470.0 166.7L470.2 169.4L470.3 165.3L470.5 167.3L470.6 168.8L470.8 167.0L470.9 173.4L471.1 165.8L471.2 174.7L471.4 175.3L471.5 171.7L471.7 183.3L471.8 179.8L472.0 174.9L472.2 170.2L472.3 174.2L472.5 179.3" fill="none" stroke="#b0b0b0" stroke-width="1.5" stroke-linejoin="round"/>
<path d="M75.2 206.5L75.2 204.2L75.2 180.9L76.2 179.7L76.3 183.2L76.5 175.1L76.6 180.2L76.8 178.4L76.9 172.2L77.1 179.0L77.2 184.8L77.4 187.7L77.5 185.4L77.7 178.5L77.8 184.9L78.0 182.0L78.1 181.7L78.3 177.8L78.4 180.0L78.6 180.4L78.8 182.9L78.9 182.8L79.1 185.8L79.2 182.2L79.4 176.7L79.5 182.7L79.7 181.9L79.8 185.2L80.0 178.4L80.1 183.4L80.3 178.9L80.4 175.0L80.6 182.8L80.7 174.6L80.9 178.9L81.0 182.8L81.2 174.3L81.3 185.5L81.5 177.1L81.7 179.6L81.8 179.8L82.0 178.4L82.1 183.0L82.3 179.0L82.4 181.2L82.6 174.5L82.7 174.4L82.9 180.3L83.0 175.4L83.2 181.2L83.3 179.5L83.5 176.3L83.6 174.0L83.8 178.4L83.9 178.9L84.1 183.2L84.2 175.5L84.4 177.0L84.6 178.0L84.7 179.2L84.9 177.4L85.0 175.1L85.2 175.5L85.3 178.0L85.5 178.6L85.6 176.0L85.8 180.0L85.9 181.8L86.1 181.7L86.2 179.8L86.4 172.4L86.5 175.3L86.7 180.5L86.8 175.3L87.0 173.5L87.1 173.6L87.3 180.5L87.5 176.3L87.6 185.6L87.8 180.1L87.9 176.4L88.1 174.7L88.2 178.7L88.4 181.1L88.5 177.3L88.7 188.2L88.8 182.7L89.0 178.1L89.1 179.3L89.3 187.1L89.4 181.9L89.6 176.2L89.7 187.0L89.9 182.8L90.0 178.7L90.2 186.8L90.4 176.3L90.5 182.0L90.7 182.7L90.8 178.5L91.0 178.2L91.1 179.1L91.3 183.5L91.4 174.4L91.6 183.3L91.7 181.2L91.9 182.7L92.0 181.2L92.2 182.0L92.3 178.3L92.5 182.6L92.6 177.5L92.8 185.3L93.0 183.8L93.1 177.4L93.3 183.6L93.4 185.7L93.6 184.1L93.7 182.8L93.9 183.9L94.0 183.4L94.2 184.9L94.3 184.8L94.5 184.6L94.6 178.1L94.8 177.0L94.9 180.1L95.1 178.3L95.2 181.1L95.4 177.7L95.5 181.0L95.7 182.8L95.9 177.2L96.0 179.7L96.2 175.9L96.3 182.8L96.5 178.4L96.6 181.0L96.8 185.7L96.9 188.6L97.1 180.6L97.2 181.6L97.4 181.6L97.5 178.8L97.7 178.3L97.8 180.6L98.0 174.6L98.1 176.9L98.3 177.5L98.4 186.4L98.6 178.0L98.8 184.9L98.9 181.8L99.1 179.8L99.2 171.8L99.4 178.4L99.5 181.9L99.7 175.9L99.8 179.6L100.0 174.6L100.1 177.5L100.3 180.8L100.4 180.9L100.6 180.5L100.7 176.7L100.9 179.0L101.0 177.0L101.2 177.8L101.3 178.6L101.5 178.3L101.7 181.5L101.8 178.5L102.0 174.6L102.1 177.0L102.3 176.6L102.4 172.9L102.6 182.2L102.7 177.6L102.9 178.2L103.0 180.2L103.2 183.8L103.3 181.9L103.5 179.2L103.6 181.0L103.8 183.1L103.9 176.1L104.1 180.1L104.2 181.2L104.4 174.1L104.6 179.2L104.7 179.7L104.9 171.2L105.0 176.7L105.2 179.1L105.3 184.9L105.5 181.0L105.6 178.1L105.8 173.7L105.9 180.6L106.1 180.2L106.2 178.0L106.4 178.7L106.5 179.4L106.7 182.1L106.8 177.8L107.0 177.7L107.1 180.0L107.3 179.8L107.5 174.8L107.6 186.1L107.8 186.3L107.9 178.0L108.1 182.8L108.2 175.9L108.4 184.1L108.5 190.2L108.7 181.8L108.8 184.3L109.0 173.4L109.1 181.6L109.3 180.0L109.4 175.3L109.6 179.1L109.7 177.9L109.9 184.2L110.0 177.7L110.2 178.2L110.4 180.0L110.5 181.6L110.7 177.1L110.8 183.5L111.0 181.0L111.1 179.8L111.3 179.5L111.4 175.4L111.6 178.5L111.7 176.6L111.9 174.2L112.0 180.7L112.2 181.1L112.3 177.0L112.5 177.5L112.6 170.6L112.8 172.6L112.9 178.5L113.1 176.5L113.3 183.1L113.4 183.2L113.6 175.4L113.7 175.5L113.9 176.6L114.0 167.5L114.2 172.8L114.3 175.9L114.5 179.7L114.6 178.6L114.8 177.0L114.9 179.9L115.1 181.2L115.2 173.1L115.4 177.0L115.5 182.8L115.7 180.5L115.8 179.6L116.0 177.2L116.2 178.8L116.3 180.7L116.5 177.0L116.6 187.7L116.8 173.2L116.9 174.8L117.1 174.7L117.2 181.5L117.4 180.1L117.5 178.1L117.7 180.3L117.8 179.8L118.0 177.0L118.1 181.5L118.3 177.9L118.4 182.4L118.6 176.1L118.7 177.7L118.9 185.9L119.1 182.2L119.2 180.0L119.4 182.3L119.5 182.4L119.7 171.5L119.8 175.5L120.0 182.0L120.1 180.3L120.3 181.8L120.4 182.0L120.6 185.8L120.7 175.2L120.9 179.0L121.0 34.8L121.2 37.5L121.3 33.0L121.5 34.8L121.7 35.0L121.8 40.4L122.0 34.3L122.1 38.3L122.3 42.5L122.4 35.7L122.6 36.4L122.7 38.4L122.9 38.4L123.0 37.5L123.2 38.0L123.3 37.1L123.5 38.0L123.6 36.3L123.8 31.2L123.9 39.1L124.1 37.0L124.2 36.8L124.4 36.3L124.6 37.3L124.7 37.9L124.9 37.1L125.0 38.3L125.2 40.6L125.3 37.4L125.5 38.0L125.6 37.7L125.8 38.0L125.9 40.2L126.1 37.7L126.2 38.3L126.4 36.3L126.5 39.0L126.7 41.2L126.8 39.4L127.0 37.8L127.1 40.3L127.3 37.4L127.5 38.4L127.6 37.9L127.8 37.1L127.9 38.9L128.1 37.1L128.2 35.5L128.4 38.3L128.5 39.9L128.7 38.8L128.8 36.3L129.0 36.2L129.1 39.6L129.3 38.0L129.4 36.8L129.6 37.9L129.7 38.2L129.9 40.5L130.0 38.1L130.2 40.9L130.4 36.0L130.5 37.8L130.7 38.5L130.8 38.4L131.0 37.9L131.1 39.2L131.3 38.3L131.4 37.9L131.6 40.6L131.7 38.3L131.9 41.4L132.0 39.6L132.2 38.2L132.3 39.0L132.5 39.6L132.6 41.6L132.8 36.2L132.9 42.0L133.1 37.7L133.3 41.1L133.4 42.1L133.6 39.5L133.7 38.9L133.9 39.3L134.0 38.2L134.2 40.5L134.3 40.8L134.5 40.3L134.6 41.2L134.8 40.7L134.9 41.8L135.1 40.8L135.2 40.6L135.4 39.5L135.5 42.3L135.7 38.8L135.8 37.5L136.0 39.4L136.2 42.9L136.3 38.4L136.5 38.5L136.6 36.1L136.8 41.0L136.9 38.7L137.1 38.7L137.2 41.7L137.4 40.6L137.5 40.1L137.7 39.2L137.8 38.1L138.0 38.4L138.1 40.9L138.3 40.5L138.4 40.1L138.6 36.4L138.7 41.3L138.9 41.8L139.1 37.4L139.2 40.4L139.4 38.4L139.5 40.5L139.7 36.7L139.8 35.4L140.0 39.6L140.1 41.3L140.3 38.1L140.4 36.8L140.6 35.1L140.7 35.8L140.9 38.6L141.0 36.4L141.2 39.9L141.3 37.0L141.5 36.8L141.6 35.4L141.8 35.9L142.0 36.3L142.1 35.3L142.3 37.1L142.4 35.1L142.6 37.0L142.7 35.4L142.9 40.1L143.0 35.9L143.2 35.6L143.3 41.8L143.5 35.7L143.6 36.4L143.8 35.4L143.9 36.5L144.1 37.9L144.2 37.9L144.4 40.0L144.5 39.1L144.7 35.7L144.9 37.7L145.0 38.4L145.2 37.7L145.3 39.2L145.5 33.7L145.6 38.1L145.8 36.1L145.9 37.8L146.1 38.7L146.2 40.0L146.4 35.4L146.5 36.9L146.7 36.7L146.8 36.4L147.0 37.7L147.1 38.8L147.3 38.0L147.4 38.7L147.6 37.1L147.8 42.2L147.9 38.1L148.1 40.4L148.2 37.0L148.4 38.1L148.5 39.7L148.7 37.0L148.8 43.3L149.0 39.5L149.1 37.1L149.3 39.9L149.4 40.9L149.6 39.0L149.7 38.9L149.9 37.6L150.0 37.4L150.2 39.7L150.3 37.7L150.5 37.9L150.7 40.7L150.8 38.8L151.0 37.4L151.1 36.6L151.3 37.7L151.4 37.1L151.6 36.2L151.7 41.7L151.9 39.6L152.0 37.9L152.2 37.3L152.3 38.0L152.5 38.0L152.6 40.1L152.8 41.9L152.9 40.9L153.1 37.8L153.3 37.2L153.4 38.2L153.6 39.8L153.7 39.4L153.9 38.6L154.0 42.1L154.2 40.7L154.3 39.2L154.5 39.8L154.6 39.6L154.8 37.3L154.9 38.0L155.1 36.5L155.2 40.1L155.4 39.6L155.5 40.7L155.7 36.6L155.8 40.3L156.0 41.9L156.2 40.4L156.3 39.8L156.5 39.6L156.6 40.7L156.8 40.5L156.9 38.4L157.1 39.1L157.2 41.7L157.4 42.9L157.5 43.1L157.7 38.6L157.8 38.9L158.0 40.3L158.1 39.0L158.3 44.0L158.4 37.7L158.6 42.0L158.7 39.4L158.9 42.1L159.1 42.2L159.2 41.7L159.4 39.9L159.5 39.7L159.7 40.3L159.8 43.3L160.0 41.0L160.1 41.7L160.3 40.2L160.4 38.6L160.6 43.0L160.7 37.9L160.9 41.0L161.0 42.5L161.2 40.6L161.3 42.6L161.5 41.1L161.6 41.4L161.8 40.4L162.0 39.6L162.1 38.6L162.3 39.8L162.4 40.3L162.6 38.3L162.7 40.2L162.9 44.4L163.0 43.3L163.2 42.2L163.3 39.4L163.5 40.2L163.6 43.8L163.8 39.7L163.9 41.3L164.1 41.7L164.2 40.8L164.4 41.3L164.5 42.9L164.7 45.6L164.9 42.2L165.0 42.6L165.2 40.0L165.3 38.2L165.5 43.1L165.6 41.9L165.8 40.0L165.9 39.3L166.1 39.6L166.2 43.3L166.4 37.5L166.5 39.7L166.7 41.2L166.8 37.0L167.0 37.5L167.1 40.1L167.3 38.7L167.4 40.3L167.6 40.1L167.8 41.1L167.9 39.3L168.1 42.2L168.2 42.4L168.4 41.4L168.5 41.2L168.7 39.3L168.8 41.0L169.0 39.9L169.1 39.3L169.3 42.9L169.4 38.8L169.6 37.4L169.7 36.5L169.9 40.9L170.0 40.5L170.2 39.2L170.3 36.1L170.5 38.8L170.7 41.2L170.8 38.7L171.0 42.7L171.1 39.1L171.3 39.7L171.4 41.8L171.6 35.8L171.7 41.5L171.9 39.4L172.0 39.4L172.2 41.3L172.3 41.5L172.5 42.0L172.6 43.2L172.8 40.6L172.9 39.1L173.1 39.3L173.2 42.5L173.4 43.4L173.6 39.4L173.7 44.0L173.9 40.8L174.0 40.6L174.2 41.5L174.3 37.9L174.5 42.9L174.6 40.9L174.8 40.2L174.9 41.5L175.1 39.9L175.2 40.8L175.4 40.1L175.5 43.0L175.7 41.1L175.8 42.2L176.0 43.1L176.1 40.8L176.3 46.1L176.5 40.5L176.6 38.1L176.8 41.4L176.9 39.6L177.1 43.2L177.2 41.7L177.4 40.3L177.5 39.5L177.7 45.1L177.8 43.3L178.0 45.1L178.1 43.7L178.3 38.8L178.4 40.2L178.6 39.5L178.7 37.7L178.9 37.9L179.0 42.8L179.2 38.8L179.4 40.2L179.5 39.3L179.7 40.3L179.8 42.6L180.0 39.5L180.1 43.7L180.3 41.9L180.4 40.6L180.6 42.0L180.7 41.9L180.9 44.4L181.0 41.5L181.2 45.5L181.3 43.0L181.5 42.4L181.6 41.1L181.8 41.4L181.9 39.3L182.1 40.3L182.3 40.4L182.4 42.1L182.6 41.5L182.7 41.1L182.9 41.9L183.0 41.4L183.2 43.3L183.3 43.2L183.5 41.2L183.6 40.2L183.8 39.9L183.9 42.8L184.1 41.3L184.2 40.3L184.4 43.0L184.5 42.3L184.7 41.2L184.9 40.3L185.0 40.7L185.2 41.2L185.3 38.9L185.5 40.3L185.6 41.4L185.8 40.5L185.9 43.8L186.1 39.5L186.2 43.6L186.4 39.9L186.5 41.0L186.7 38.6L186.8 42.4L187.0 41.8L187.1 39.7L187.3 40.2L187.4 44.1L187.6 39.4L187.8 42.8L187.9 41.6L188.1 43.3L188.2 43.5L188.4 43.2L188.5 44.9L188.7 43.4L188.8 39.6L189.0 43.7L189.1 40.0L189.3 40.3L189.4 41.7L189.6 42.4L189.7 38.8L189.9 42.7L190.0 41.2L190.2 42.5L190.3 39.4L190.5 45.6L190.7 43.0L190.8 43.3L191.0 40.7L191.1 42.7L191.3 38.9L191.4 39.7L191.6 42.6L191.7 44.1L191.9 40.7L192.0 43.5L192.2 43.0L192.3 39.2L192.5 38.3L192.6 37.7L192.8 42.4L192.9 41.3L193.1 42.6L193.2 42.7L193.4 42.3L193.6 38.0L193.7 39.0L193.9 40.3L194.0 42.8L194.2 41.0L194.3 39.7L194.5 41.1L194.6 42.1L194.8 41.9L194.9 42.0L195.1 42.3L195.2 42.0L195.4 43.6L195.5 40.5L195.7 42.7L195.8 39.4L196.0 38.5L196.1 38.8L196.3 41.2L196.5 40.3L196.6 38.3L196.8 41.5L196.9 42.0L197.1 40.2L197.2 42.1L197.4 39.8L197.5 43.1L197.7 39.1L197.8 43.0L198.0 40.6L198.1 39.0L198.3 39.7L198.4 41.9L198.6 41.2L198.7 39.6L198.9 39.9L199.0 43.4L199.2 41.7L199.4 41.6L199.5 39.6L199.7 42.9L199.8 41.9L200.0 40.4L200.1 41.6L200.3 42.1L200.4 42.3L200.6 40.3L200.7 40.4L200.9 43.4L201.0 43.2L201.2 41.5L201.3 42.8L201.5 42.3L201.6 39.9L201.8 42.2L201.9 41.3L202.1 40.4L202.3 42.4L202.4 42.1L202.6 41.5L202.7 40.6L202.9 42.8L203.0 46.3L203.2 43.7L203.3 43.5L203.5 43.3L203.6 44.1L203.8 42.3L203.9 42.7L204.1 41.8L204.2 43.6L204.4 42.9L204.5 42.7L204.7 42.0L204.8 45.3L205.0 44.9L205.2 42.3L205.3 42.4L205.5 44.2L205.6 42.9L205.8 42.9L205.9 43.4L206.1 42.9L206.2 42.6L206.4 44.5L206.5 40.7L206.7 43.7L206.8 44.5L207.0 42.4L207.1 43.4L207.3 42.3L207.4 43.5L207.6 40.7L207.7 42.5L207.9 42.5L208.1 42.8L208.2 43.7L208.4 43.5L208.5 39.7L208.7 39.8L208.8 43.4L209.0 40.7L209.1 41.3L209.3 40.1L209.4 43.1L209.6 40.1L209.7 40.7L209.9 41.0L210.0 41.9L210.2 37.0L210.3 43.0L210.5 43.7L210.6 40.6L210.8 41.5L211.0 41.3L211.1 41.5L211.3 44.1L211.4 43.5L211.6 41.3L211.7 39.9L211.9 42.1L212.0 42.2L212.2 39.4L212.3 42.5L212.5 46.4L212.6 42.5L212.8 43.0L212.9 43.5L213.1 40.7L213.2 41.8L213.4 46.5L213.6 44.5L213.7 44.5L213.9 41.9L214.0 41.8L214.2 43.1L214.3 42.3L214.5 44.6L214.6 42.7L214.8 43.6L214.9 45.0L215.1 42.6L215.2 43.8L215.4 42.5L215.5 43.3L215.7 43.3L215.8 43.1L216.0 43.9L216.1 41.5L216.3 43.9L216.5 42.1L216.6 43.2L216.8 44.9L216.9 43.4L217.1 44.5L217.2 42.6L217.4 44.5L217.5 43.9L217.7 44.5L217.8 42.1L218.0 43.8L218.1 43.8L218.3 45.2L218.4 39.7L218.6 40.9L218.7 40.3L218.9 41.0L219.0 40.4L219.2 42.7L219.4 42.1L219.5 41.4L219.7 41.1L219.8 42.3L220.0 43.3L220.1 47.5L220.3 42.7L220.4 44.2L220.6 44.7L220.7 45.4L220.9 43.9L221.0 42.4L221.2 42.6L221.3 44.8L221.5 44.0L221.6 41.7L221.8 43.7L221.9 43.1L222.1 40.9L222.3 41.5L222.4 44.7L222.6 46.5L222.7 43.6L222.9 42.8L223.0 41.1L223.2 42.0L223.3 42.7L223.5 43.4L223.6 43.9L223.8 44.1L223.9 45.3L224.1 44.1L224.2 40.1L224.4 43.9L224.5 44.3L224.7 47.2L224.8 47.8L225.0 43.3L225.2 43.8L225.3 42.8L225.5 42.8L225.6 43.9L225.8 43.2L225.9 43.6L226.1 43.0L226.2 41.5L226.4 45.3L226.5 41.8L226.7 43.3L226.8 43.6L227.0 41.1L227.1 43.3L227.3 41.4L227.4 43.7L227.6 44.2L227.7 40.5L227.9 41.9L228.1 42.0L228.2 44.9L228.4 42.1L228.5 42.5L228.7 45.0L228.8 46.5L229.0 44.0L229.1 42.1L229.3 44.7L229.4 48.1L229.6 45.4L229.7 45.7L229.9 45.5L230.0 43.8L230.2 42.2L230.3 44.9L230.5 42.0L230.6 43.5L230.8 44.0L231.0 41.1L231.1 45.0L231.3 42.8L231.4 45.1L231.6 44.9L231.7 44.5L231.9 44.8L232.0 46.2L232.2 45.4L232.3 45.9L232.5 43.5L232.6 43.5L232.8 40.1L232.9 44.6L233.1 43.9L233.2 41.2L233.4 44.5L233.5 43.9L233.7 41.2L233.9 44.6L234.0 44.5L234.2 43.1L234.3 42.4L234.5 44.2L234.6 43.5L234.8 47.6L234.9 46.6L235.1 44.1L235.2 46.5L235.4 45.6L235.5 43.0L235.7 45.1L235.8 41.4L236.0 45.4L236.1 38.1L236.3 45.7L236.4 51.9L236.6 51.4L236.8 184.3L236.9 187.6L237.1 184.2L237.2 187.0L237.4 183.6L237.5 189.7L237.7 186.9L237.8 179.4L238.0 185.2L238.1 186.7L238.3 183.6L238.4 186.9L238.6 190.6L238.7 188.7L238.9 190.7L239.0 185.9L239.2 185.1L239.3 192.7L239.5 185.6L239.7 182.5L239.8 189.1L240.0 177.7L240.1 185.1L240.3 180.5L240.4 188.0L240.6 185.7L240.7 182.8L240.9 183.7L241.0 186.0L241.2 190.2L241.3 179.1L241.5 183.5L241.6 178.8L241.8 181.1L241.9 184.0L242.1 182.3L242.2 182.6L242.4 188.0L242.6 179.0L242.7 181.5L242.9 182.1L243.0 179.8L243.2 184.0L243.3 185.2L243.5 183.2L243.6 178.9L243.8 187.4L243.9 179.5L244.1 181.0L244.2 180.7L244.4 183.0L244.5 187.9L244.7 181.2L244.8 182.0L245.0 174.0L245.2 184.2L245.3 179.8L245.5 184.9L245.6 182.4L245.8 180.0L245.9 182.6L246.1 186.1L246.2 180.7L246.4 185.4L246.5 181.6L246.7 185.5L246.8 181.8L247.0 186.2L247.1 185.3L247.3 189.8L247.4 187.8L247.6 185.4L247.7 185.9L247.9 183.3L248.1 183.5L248.2 187.0L248.4 181.8L248.5 189.8L248.7 190.5L248.8 187.6L249.0 188.5L249.1 188.1L249.3 185.9L249.4 191.2L249.6 181.0L249.7 180.5L249.9 186.4L250.0 188.6L250.2 186.3L250.3 186.9L250.5 182.8L250.6 184.6L250.8 186.8L251.0 184.2L251.1 184.7L251.3 186.9L251.4 185.4L251.6 183.6L251.7 183.0L251.9 184.9L252.0 188.7L252.2 182.0L252.3 188.4L252.5 183.6L252.6 186.1L252.8 185.5L252.9 179.0L253.1 185.4L253.2 185.8L253.4 180.2L253.5 185.5L253.7 184.0L253.9 182.6L254.0 180.9L254.2 177.4L254.3 181.8L254.5 187.6L254.6 180.5L254.8 180.4L254.9 187.5L255.1 184.5L255.2 181.4L255.4 183.3L255.5 186.7L255.7 186.7L255.8 174.9L256.0 187.2L256.1 184.8L256.3 181.5L256.4 184.2L256.6 176.2L256.8 183.3L256.9 178.5L257.1 187.0L257.2 190.1L257.4 183.4L257.5 182.8L257.7 184.6L257.8 185.9L258.0 181.1L258.1 184.2L258.3 188.7L258.4 182.3L258.6 186.4L258.7 187.4L258.9 179.2L259.0 177.9L259.2 184.6L259.3 186.5L259.5 184.1L259.7 180.5L259.8 191.3L260.0 188.3L260.1 190.5L260.3 180.4L260.4 185.4L260.6 188.4L260.7 181.1L260.9 182.6L261.0 188.4L261.2 184.2L261.3 182.8L261.5 189.0L261.6 184.1L261.8 187.6L261.9 183.8L262.1 187.4L262.2 187.4L262.4 183.8L262.6 190.7L262.7 188.0L262.9 185.2L263.0 179.9L263.2 187.3L263.3 184.3L263.5 184.0L263.6 186.5L263.8 185.1L263.9 183.2L264.1 184.7L264.2 177.1L264.4 187.2L264.5 190.0L264.7 184.0L264.8 190.6L265.0 183.0L265.1 186.6L265.3 192.5L265.5 185.6L265.6 180.7L265.8 188.4L265.9 187.0L266.1 186.0L266.2 181.5L266.4 187.7L266.5 187.2L266.7 189.0L266.8 186.7L267.0 185.3L267.1 187.9L267.3 181.0L267.4 180.8L267.6 180.6L267.7 177.8L267.9 180.8L268.0 176.2L268.2 181.3L268.4 182.3L268.5 186.1L268.7 178.3L268.8 185.1L269.0 181.2L269.1 185.0L269.3 185.1L269.4 177.7L269.6 184.0L269.7 178.0L269.9 183.7L270.0 180.4L270.2 187.2L270.3 187.3L270.5 177.9L270.6 181.0L270.8 185.1L270.9 185.3L271.1 183.7L271.3 178.8L271.4 173.4L271.6 181.0L271.7 184.2L271.9 181.4L272.0 176.9L272.2 183.3L272.3 183.3L272.5 181.3L272.6 180.8L272.8 174.4L272.9 185.7L273.1 183.4L273.2 180.2L273.4 180.4L273.5 176.4L273.7 187.7L273.8 187.2L274.0 181.5L274.2 183.7L274.3 188.1L274.5 179.6L274.6 185.2L274.8 183.8L274.9 185.8L275.1 189.7L275.2 183.2L275.4 178.0L275.5 186.4L275.7 184.7L275.8 183.2L276.0 189.3L276.1 185.9L276.3 182.5L276.4 190.8L276.6 187.7L276.8 182.2L276.9 190.5L277.1 191.1L277.2 188.5L277.4 185.5L277.5 183.6L277.7 188.4L277.8 176.5L278.0 188.9L278.1 191.8L278.3 186.5L278.4 183.4L278.6 188.4L278.7 186.7L278.9 188.1L279.0 191.9L279.2 186.7L279.3 191.5L279.5 186.7L279.7 186.6L279.8 182.7L280.0 191.8L280.1 187.0L280.3 190.2L280.4 182.7L280.6 188.1L280.7 187.2L280.9 184.6L281.0 184.1L281.2 179.1L281.3 184.7L281.5 178.1L281.6 181.5L281.8 181.2L281.9 183.3L282.1 186.1L282.2 177.3L282.4 183.5L282.6 175.6L282.7 182.5L282.9 184.6L283.0 188.9L283.2 190.2L283.3 187.0L283.5 187.3L283.6 179.6L283.8 185.9L283.9 178.5L284.1 193.4L284.2 181.2L284.4 183.6L284.5 187.4L284.7 183.9L284.8 181.9L285.0 185.4L285.1 184.8L285.3 178.0L285.5 181.3L285.6 182.4L285.8 184.7L285.9 183.7L286.1 179.3L286.2 182.7L286.4 182.5L286.5 183.0L286.7 186.5L286.8 179.5L287.0 186.7L287.1 183.6L287.3 179.9L287.4 187.9L287.6 180.0L287.7 183.1L287.9 181.8L288.0 188.5L288.2 186.9L288.4 176.9L288.5 181.8L288.7 189.3L288.8 183.2L289.0 185.9L289.1 181.8L289.3 185.5L289.4 188.3L289.6 188.9L289.7 188.8L289.9 186.8L290.0 184.2L290.2 185.2L290.3 191.6L290.5 183.1L290.6 181.4L290.8 189.9L290.9 187.5L291.1 184.5L291.3 189.3L291.4 181.9L291.6 184.9L291.7 188.7L291.9 185.4L292.0 186.2L292.2 191.4L292.3 194.1L292.5 184.3L292.6 177.0L292.8 183.7L292.9 180.5L293.1 184.2L293.2 185.5L293.4 182.4L293.5 188.2L293.7 184.0L293.8 185.3L294.0 185.9L294.2 189.1L294.3 183.2L294.5 195.1L294.6 183.7L294.8 186.9L294.9 182.2L295.1 186.8L295.2 187.3L295.4 185.6L295.5 186.3L295.7 182.3L295.8 185.8L296.0 184.5L296.1 180.4L296.3 183.5L296.4 176.3L296.6 184.2L296.7 178.1L296.9 184.3L297.1 182.9L297.2 184.4L297.4 187.6L297.5 181.6L297.7 186.1L297.8 186.1L298.0 186.0L298.1 179.4L298.3 180.3L298.4 187.8L298.6 182.9L298.7 184.9L298.9 181.9L299.0 185.3L299.2 189.1L299.3 183.5L299.5 182.5L299.6 178.8L299.8 188.7L300.0 175.7L300.1 179.3L300.3 183.7L300.4 187.0L300.6 178.7L300.7 181.1L300.9 180.1L301.0 186.9L301.2 184.3L301.3 180.6L301.5 184.7L301.6 177.4L301.8 194.0L301.9 180.9L302.1 183.3L302.2 176.0L302.4 177.4L302.5 179.0L302.7 177.8L302.9 187.3L303.0 182.6L303.2 180.3L303.3 181.0L303.5 178.5L303.6 186.3L303.8 180.8L303.9 179.8L304.1 175.2L304.2 178.1L304.4 190.0L304.5 182.7L304.7 187.2L304.8 185.7L305.0 182.3L305.1 188.7L305.3 184.7L305.5 183.0L305.6 182.0L305.8 183.8L305.9 187.8L306.1 184.7L306.2 186.3L306.4 177.3L306.5 187.0L306.7 188.5L306.8 184.5L307.0 181.9L307.1 186.6L307.3 180.9L307.4 187.9L307.6 183.0L307.7 189.6L307.9 187.7L308.0 184.9L308.2 189.4L308.4 180.3L308.5 182.0L308.7 187.6L308.8 184.7L309.0 178.2L309.1 185.7L309.3 188.0L309.4 188.1L309.6 183.3L309.7 187.6L309.9 183.4L310.0 189.1L310.2 180.8L310.3 182.6L310.5 180.8L310.6 182.6L310.8 183.3L310.9 183.2L311.1 183.7L311.3 186.0L311.4 184.6L311.6 176.1L311.7 186.3L311.9 183.8L312.0 182.6L312.2 184.6L312.3 185.3L312.5 183.8L312.6 183.5L312.8 186.0L312.9 186.5L313.1 185.0L313.2 184.1L313.4 177.3L313.5 176.8L313.7 185.9L313.8 183.1L314.0 179.8L314.2 187.1L314.3 189.4L314.5 179.0L314.6 187.0L314.8 179.8L314.9 179.3L315.1 180.5L315.2 179.7L315.4 185.3L315.5 176.1L315.7 179.0L315.8 180.9L316.0 186.5L316.1 176.3L316.3 186.8L316.4 182.3L316.6 180.9L316.7 187.5L316.9 182.1L317.1 185.5L317.2 189.1L317.4 185.1L317.5 186.6L317.7 186.4L317.8 185.0L318.0 181.9L318.1 184.1L318.3 186.6L318.4 186.2L318.6 184.7L318.7 189.4L318.9 186.2L319.0 189.2L319.2 188.4L319.3 181.2L319.5 184.0L319.6 181.3L319.8 184.5L320.0 186.9L320.1 184.5L320.3 190.8L320.4 183.4L320.6 178.0L320.7 186.2L320.9 180.9L321.0 184.0L321.2 184.7L321.3 182.7L321.5 180.7L321.6 192.3L321.8 183.8L321.9 188.7L322.1 184.2L322.2 187.1L322.4 186.3L322.5 186.4L322.7 184.4L322.9 184.9L323.0 187.1L323.2 187.9L323.3 179.0L323.5 193.2L323.6 183.8L323.8 191.1L323.9 189.2L324.1 188.0L324.2 188.9L324.4 187.7L324.5 190.6L324.7 181.7L324.8 184.3L325.0 179.8L325.1 179.7L325.3 183.6L325.4 180.6L325.6 180.7L325.8 182.5L325.9 177.7L326.1 40.1L326.2 39.7L326.4 42.1L326.5 41.8L326.7 40.5L326.8 41.0L327.0 40.6L327.1 40.8L327.3 37.8L327.4 39.8L327.6 40.6L327.7 40.3L327.9 39.7L328.0 40.3L328.2 41.5L328.3 41.9L328.5 42.2L328.7 40.2L328.8 39.1L329.0 40.7L329.1 38.7L329.3 41.1L329.4 40.5L329.6 40.1L329.7 42.6L329.9 39.7L330.0 37.4L330.2 38.6L330.3 41.3L330.5 37.4L330.6 42.5L330.8 41.3L330.9 41.0L331.1 40.3L331.2 42.0L331.4 37.3L331.6 36.2L331.7 40.1L331.9 37.9L332.0 45.3L332.2 38.1L332.3 41.1L332.5 36.8L332.6 41.0L332.8 42.8L332.9 41.5L333.1 41.5L333.2 40.3L333.4 42.7L333.5 36.5L333.7 38.1L333.8 39.2L334.0 39.8L334.1 37.0L334.3 38.0L334.5 40.6L334.6 40.1L334.8 39.6L334.9 36.8L335.1 41.0L335.2 39.0L335.4 37.6L335.5 42.3L335.7 42.0L335.8 39.3L336.0 38.8L336.1 39.5L336.3 39.4L336.4 39.3L336.6 39.6L336.7 42.0L336.9 38.9L337.1 37.6L337.2 38.1L337.4 39.5L337.5 42.0L337.7 39.1L337.8 38.4L338.0 40.6L338.1 40.8L338.3 35.6L338.4 41.7L338.6 38.6L338.7 39.5L338.9 38.4L339.0 41.2L339.2 42.2L339.3 39.6L339.5 45.1L339.6 42.4L339.8 44.0L340.0 42.9L340.1 41.1L340.3 40.0L340.4 40.8L340.6 40.5L340.7 40.9L340.9 40.6L341.0 39.0L341.2 41.2L341.3 37.7L341.5 40.7L341.6 38.7L341.8 41.8L341.9 40.8L342.1 39.5L342.2 38.3L342.4 35.8L342.5 38.6L342.7 38.4L342.9 37.2L343.0 41.0L343.2 40.2L343.3 39.6L343.5 38.7L343.6 38.0L343.8 40.8L343.9 39.3L344.1 37.6L344.2 40.8L344.4 40.7L344.5 40.0L344.7 45.7L344.8 43.1L345.0 37.2L345.1 41.1L345.3 42.7L345.4 43.8L345.6 41.1L345.8 40.2L345.9 38.4L346.1 42.8L346.2 42.3L346.4 41.9L346.5 42.6L346.7 40.1L346.8 42.5L347.0 42.5L347.1 42.1L347.3 41.6L347.4 39.1L347.6 42.9L347.7 42.8L347.9 40.9L348.0 43.1L348.2 40.3L348.3 40.6L348.5 41.4L348.7 43.0L348.8 44.1L349.0 42.0L349.1 46.6L349.3 42.9L349.4 41.1L349.6 44.1L349.7 40.9L349.9 46.4L350.0 41.8L350.2 40.3L350.3 43.4L350.5 44.5L350.6 38.7L350.8 40.1L350.9 43.5L351.1 37.9L351.2 39.3L351.4 41.2L351.6 40.1L351.7 42.0L351.9 39.3L352.0 40.8L352.2 39.3L352.3 43.6L352.5 42.1L352.6 41.8L352.8 40.7L352.9 37.5L353.1 41.3L353.2 41.6L353.4 41.0L353.5 39.3L353.7 41.5L353.8 41.6L354.0 39.7L354.1 44.2L354.3 43.0L354.5 41.2L354.6 38.9L354.8 39.5L354.9 39.5L355.1 39.8L355.2 40.8L355.4 40.9L355.5 37.9L355.7 44.8L355.8 41.1L356.0 40.2L356.1 41.4L356.3 40.1L356.4 39.9L356.6 42.0L356.7 38.5L356.9 42.5L357.0 41.4L357.2 43.0L357.4 43.7L357.5 43.0L357.7 39.0L357.8 43.8L358.0 39.0L358.1 41.2L358.3 43.6L358.4 42.3L358.6 42.9L358.7 41.6L358.9 43.2L359.0 40.3L359.2 44.2L359.3 43.5L359.5 41.0L359.6 37.2L359.8 42.0L359.9 41.8L360.1 40.8L360.3 42.8L360.4 40.3L360.6 39.1L360.7 40.1L360.9 41.7L361.0 40.9L361.2 39.0L361.3 43.4L361.5 37.4L361.6 41.6L361.8 42.7L361.9 38.6L362.1 41.1L362.2 44.0L362.4 38.3L362.5 43.3L362.7 41.1L362.8 39.7L363.0 42.8L363.2 40.9L363.3 44.5L363.5 40.3L363.6 44.1L363.8 41.8L363.9 41.5L364.1 42.5L364.2 40.6L364.4 42.1L364.5 41.4L364.7 43.6L364.8 40.3L365.0 45.2L365.1 42.9L365.3 42.8L365.4 43.9L365.6 41.7L365.8 44.5L365.9 41.8L366.1 42.1L366.2 42.9L366.4 37.1L366.5 41.7L366.7 40.9L366.8 43.7L367.0 45.0L367.1 46.0L367.3 42.5L367.4 45.5L367.6 43.1L367.7 42.0L367.9 40.3L368.0 40.9L368.2 43.3L368.3 41.9L368.5 44.6L368.7 42.4L368.8 41.7L369.0 43.3L369.1 43.2L369.3 42.1L369.4 42.7L369.6 42.8L369.7 43.4L369.9 46.3L370.0 41.2L370.2 46.9L370.3 45.1L370.5 42.4L370.6 40.7L370.8 40.4L370.9 38.2L371.1 43.9L371.2 39.4L371.4 40.8L371.6 41.6L371.7 39.4L371.9 42.0L372.0 43.4L372.2 41.9L372.3 41.6L372.5 41.7L372.6 41.6L372.8 39.7L372.9 40.9L373.1 43.1L373.2 43.2L373.4 41.1L373.5 42.0L373.7 44.3L373.8 42.0L374.0 42.1L374.1 41.9L374.3 42.4L374.5 42.5L374.6 40.7L374.8 41.2L374.9 41.9L375.1 41.9L375.2 42.1L375.4 42.3L375.5 40.4L375.7 38.8L375.8 41.3L376.0 42.4L376.1 43.4L376.3 41.7L376.4 40.8L376.6 42.7L376.7 42.8L376.9 43.5L377.0 46.3L377.2 43.2L377.4 41.0L377.5 46.3L377.7 41.5L377.8 41.8L378.0 44.6L378.1 42.9L378.3 41.4L378.4 45.0L378.6 42.6L378.7 42.9L378.9 38.4L379.0 44.5L379.2 42.6L379.3 41.6L379.5 44.9L379.6 41.5L379.8 46.5L379.9 44.1L380.1 45.0L380.3 44.8L380.4 41.8L380.6 42.4L380.7 44.0L380.9 45.1L381.0 44.1L381.2 43.0L381.3 43.7L381.5 44.9L381.6 42.7L381.8 43.2L381.9 42.7L382.1 42.1L382.2 40.9L382.4 43.2L382.5 42.2L382.7 43.8L382.8 42.9L383.0 41.7L383.2 44.3L383.3 43.2L383.5 43.4L383.6 44.9L383.8 43.6L383.9 39.7L384.1 44.9L384.2 43.3L384.4 43.3L384.5 43.7L384.7 43.6L384.8 42.0L385.0 41.0L385.1 39.8L385.3 44.6L385.4 41.1L385.6 42.9L385.7 40.2L385.9 43.9L386.1 40.4L386.2 45.8L386.4 43.0L386.5 42.5L386.7 41.0L386.8 43.9L387.0 43.1L387.1 41.6L387.3 42.9L387.4 40.8L387.6 39.0L387.7 43.9L387.9 41.6L388.0 45.0L388.2 42.9L388.3 41.1L388.5 38.9L388.6 44.4L388.8 42.3L389.0 42.4L389.1 40.1L389.3 42.6L389.4 44.2L389.6 39.9L389.7 43.4L389.9 42.1L390.0 42.8L390.2 40.6L390.3 44.5L390.5 41.7L390.6 39.6L390.8 42.6L390.9 39.6L391.1 38.8L391.2 42.2L391.4 43.0L391.5 41.5L391.7 40.8L391.9 47.8L392.0 40.6L392.2 42.9L392.3 42.3L392.5 44.3L392.6 43.6L392.8 45.8L392.9 44.2L393.1 44.3L393.2 42.9L393.4 43.5L393.5 43.6L393.7 39.0L393.8 41.9L394.0 46.0L394.1 42.0L394.3 42.1L394.4 46.6L394.6 42.1L394.8 41.5L394.9 43.2L395.1 45.3L395.2 46.3L395.4 43.4L395.5 41.9L395.7 42.9L395.8 44.8L396.0 42.3L396.1 40.9L396.3 42.5L396.4 45.6L396.6 42.8L396.7 42.7L396.9 44.3L397.0 43.3L397.2 42.8L397.4 43.6L397.5 43.9L397.7 43.4L397.8 46.5L398.0 40.7L398.1 42.2L398.3 43.1L398.4 41.7L398.6 43.5L398.7 46.2L398.9 47.9L399.0 44.7L399.2 49.2L399.3 40.6L399.5 40.0L399.6 42.6L399.8 49.2L399.9 43.9L400.1 47.2L400.3 45.1L400.4 43.1L400.6 44.8L400.7 43.4L400.9 44.8L401.0 41.6L401.2 43.4L401.3 46.4L401.5 46.8L401.6 44.7L401.8 44.1L401.9 43.9L402.1 42.5L402.2 43.7L402.4 46.6L402.5 41.5L402.7 43.9L402.8 44.4L403.0 44.8L403.2 42.4L403.3 43.2L403.5 46.0L403.6 45.9L403.8 44.3L403.9 44.8L404.1 44.4L404.2 46.1L404.4 43.9L404.5 46.4L404.7 45.3L404.8 44.0L405.0 43.5L405.1 45.0L405.3 42.8L405.4 45.8L405.6 42.6L405.7 44.1L405.9 44.1L406.1 44.8L406.2 44.9L406.4 45.1L406.5 44.0L406.7 44.2L406.8 40.8L407.0 46.7L407.1 45.2L407.3 39.8L407.4 45.6L407.6 43.2L407.7 45.0L407.9 43.4L408.0 45.5L408.2 44.6L408.3 47.6L408.5 46.3L408.6 44.2L408.8 44.5L409.0 42.0L409.1 46.4L409.3 43.5L409.4 45.2L409.6 44.3L409.7 43.1L409.9 45.2L410.0 45.7L410.2 45.7L410.3 45.1L410.5 45.2L410.6 45.5L410.8 45.6L410.9 44.7L411.1 47.1L411.2 44.9L411.4 44.1L411.5 44.7L411.7 47.2L411.9 47.7L412.0 44.2L412.2 45.3L412.3 42.8L412.5 45.2L412.6 45.4L412.8 45.4L412.9 43.5L413.1 46.6L413.2 43.6L413.4 45.2L413.5 44.5L413.7 43.6L413.8 44.9L414.0 43.5L414.1 44.0L414.3 47.8L414.4 43.2L414.6 44.2L414.8 43.6L414.9 44.0L415.1 45.2L415.2 45.8L415.4 46.7L415.5 44.5L415.7 46.7L415.8 43.0L416.0 45.8L416.1 45.3L416.3 42.0L416.4 45.0L416.6 45.7L416.7 44.4L416.9 42.8L417.0 43.3L417.2 45.5L417.3 44.7L417.5 43.6L417.7 44.4L417.8 44.7L418.0 47.5L418.1 48.3L418.3 45.8L418.4 43.1L418.6 48.0L418.7 43.1L418.9 45.6L419.0 45.6L419.2 43.2L419.3 46.4L419.5 45.5L419.6 48.7L419.8 47.8L419.9 48.4L420.1 43.3L420.2 45.7L420.4 41.8L420.6 46.3L420.7 46.1L420.9 42.1L421.0 43.0L421.2 43.8L421.3 43.3L421.5 42.8L421.6 44.0L421.8 45.6L421.9 45.0L422.1 44.6L422.2 44.7L422.4 42.7L422.5 45.6L422.7 45.1L422.8 44.6L423.0 45.2L423.1 40.7L423.3 44.8L423.5 42.4L423.6 43.7L423.8 38.8L423.9 42.9L424.1 45.9L424.2 45.3L424.4 44.2L424.5 42.7L424.7 46.0L424.8 45.4L425.0 45.3L425.1 41.4L425.3 43.3L425.4 43.2L425.6 48.7L425.7 45.4L425.9 43.0L426.0 45.9L426.2 47.1L426.4 43.9L426.5 44.1L426.7 44.0L426.8 43.8L427.0 42.7L427.1 47.8L427.3 45.3L427.4 46.5L427.6 43.5L427.7 45.4L427.9 47.6L428.0 43.0L428.2 45.2L428.3 43.5L428.5 47.3L428.6 44.5L428.8 44.5L429.0 47.2L429.1 46.6L429.3 48.6L429.4 45.7L429.6 47.4L429.7 44.9L429.9 45.2L430.0 45.4L430.2 43.9L430.3 43.9L430.5 43.4L430.6 45.1L430.8 44.0L430.9 44.5L431.1 46.3L431.2 41.3L431.4 45.9L431.5 46.7L431.7 44.7L431.9 47.6L432.0 44.9L432.2 46.0L432.3 41.2L432.5 44.4L432.6 45.8L432.8 44.7L432.9 45.5L433.1 44.6L433.2 43.3L433.4 41.8L433.5 44.6L433.7 46.6L433.8 44.2L434.0 44.2L434.1 43.8L434.3 45.3L434.4 42.6L434.6 43.9L434.8 41.3L434.9 44.4L435.1 45.5L435.2 44.1L435.4 47.2L435.5 44.0L435.7 45.5L435.8 47.3L436.0 41.8L436.1 45.2L436.3 47.3L436.4 45.9L436.6 41.4L436.7 47.0L436.9 184.7L437.0 184.9L437.2 180.7L437.3 180.2L437.5 186.6L437.7 184.9L437.8 181.3L438.0 187.2L438.1 186.0L438.3 178.5L438.4 178.2L438.6 184.0L438.7 183.3L438.9 185.8L439.0 179.2L439.2 184.5L439.3 184.4L439.5 184.7L439.6 181.8L439.8 185.0L439.9 186.4L440.1 186.8L440.2 182.8L440.4 187.7L440.6 189.2L440.7 184.3L440.9 183.7L441.0 183.8L441.2 185.3L441.3 183.5L441.5 177.1L441.6 183.2L441.8 179.9L441.9 182.2L442.1 181.6L442.2 181.4L442.4 187.1L442.5 183.3L442.7 180.8L442.8 180.9L443.0 185.9L443.1 175.8L443.3 176.9L443.5 183.4L443.6 189.2L443.8 185.3L443.9 180.3L444.1 184.3L444.2 186.3L444.4 179.3L444.5 181.2L444.7 183.8L444.8 187.9L445.0 182.1L445.1 185.6L445.3 188.4L445.4 182.8L445.6 183.1L445.7 180.2L445.9 181.7L446.0 183.7L446.2 181.9L446.4 188.2L446.5 181.2L446.7 184.3L446.8 186.3L447.0 189.4L447.1 191.9L447.3 190.7L447.4 188.7L447.6 185.8L447.7 184.1L447.9 187.2L448.0 183.6L448.2 190.1L448.3 186.3L448.5 188.3L448.6 182.6L448.8 187.8L448.9 185.4L449.1 180.9L449.3 180.1L449.4 187.5L449.6 185.5L449.7 183.9L449.9 182.0L450.0 181.9L450.2 187.3L450.3 182.3L450.5 183.1L450.6 182.4L450.8 186.7L450.9 189.1L451.1 194.8L451.2 184.9L451.4 187.5L451.5 181.9L451.7 187.8L451.8 183.8L452.0 183.1L452.2 180.7L452.3 184.2L452.5 181.6L452.6 180.2L452.8 186.0L452.9 177.4L453.1 185.5L453.2 187.6L453.4 181.7L453.5 188.9L453.7 185.1L453.8 182.8L454.0 187.4L454.1 178.1L454.3 183.5L454.4 179.9L454.6 185.0L454.7 180.0L454.9 186.6L455.1 179.5L455.2 183.7L455.4 181.4L455.5 185.1L455.7 176.5L455.8 191.2L456.0 182.4L456.1 182.2L456.3 187.9L456.4 182.3L456.6 181.6L456.7 183.7L456.9 185.1L457.0 182.7L457.2 184.7L457.3 183.3L457.5 183.5L457.7 181.6L457.8 180.9L458.0 183.3L458.1 180.9L458.3 189.7L458.4 184.8L458.6 185.4L458.7 184.3L458.9 185.9L459.0 184.3L459.2 186.7L459.3 190.2L459.5 185.9L459.6 179.2L459.8 185.4L459.9 187.2L460.1 189.1L460.2 184.8L460.4 181.6L460.6 189.0L460.7 183.8L460.9 184.6L461.0 193.3L461.2 187.0L461.3 188.4L461.5 187.0L461.6 183.2L461.8 184.2L461.9 184.6L462.1 186.5L462.2 184.3L462.4 184.0L462.5 186.7L462.7 189.0L462.8 186.8L463.0 184.2L463.1 190.6L463.3 186.1L463.5 187.9L463.6 188.4L463.8 182.1L463.9 186.3L464.1 187.2L464.2 187.3L464.4 189.2L464.5 181.9L464.7 179.5L464.8 178.5L465.0 192.2L465.1 185.6L465.3 183.2L465.4 183.7L465.6 189.6L465.7 182.1L465.9 180.9L466.0 184.5L466.2 182.3L466.4 182.5L466.5 180.3L466.7 176.1L466.8 175.1L467.0 181.3L467.1 184.9L467.3 179.1L467.4 182.4L467.6 184.1L467.7 183.1L467.9 182.4L468.0 182.2L468.2 182.0L468.3 184.6L468.5 182.3L468.6 188.0L468.8 188.5L468.9 180.3L469.1 179.2L469.3 182.9L469.4 180.3L469.6 178.7L469.7 175.1L469.9 183.8L470.0 181.1L470.2 183.6L470.3 182.2L470.5 181.7L470.6 178.7L470.8 185.1L470.9 186.2L471.1 181.0L471.2 184.5L471.4 176.4L471.5 182.4L471.7 182.2L471.8 185.7L472.0 188.6L472.2 183.8L472.3 182.5L472.5 182.6L472.5 274.0" fill="none" stroke="#ff0000" stroke-width="1.7" stroke-linejoin="round"/>
<path d="M76.3 227.4L76.3 181.1L120.9 181.1L120.9 41.2L235.7 41.2L235.7 181.3L324.9 181.3L324.9 41.2L437.1 41.2L437.1 181.3L472.5 181.3" fill="none" stroke="#00ff00" stroke-width="1.8" stroke-linejoin="miter"/>
<text transform="translate(0 294.9) scale(1 1.04)" x="143.9 153.8 158.3" y="0" font-size="29.2">0.2</text>
<text transform="translate(0 294.9) scale(1 1.04)" x="225.0 234.9 239.4" y="0" font-size="29.2">0.4</text>
<text transform="translate(0 294.9) scale(1 1.04)" x="306.2 316.1 320.6" y="0" font-size="29.2">0.6</text>
<text transform="translate(0 294.9) scale(1 1.04)" x="387.3 397.2 401.7" y="0" font-size="29.2">0.8</text>
<text transform="translate(0 294.9) scale(1 1.04)" x="70.6" y="0" font-size="29.2">0</text>
<text transform="translate(0 294.9) scale(1 1.04)" x="474.7" y="0" font-size="29.2">1</text>
<text transform="translate(0 281.3) scale(1 0.985)" x="59.6" y="0" font-size="29.2">0</text>
<text transform="translate(0 235.3) scale(1 0.985)" x="38.6 52.6 58.4" y="0" font-size="29.2">0.2</text>
<text transform="translate(0 188.8) scale(1 0.985)" x="38.6 52.6 58.4" y="0" font-size="29.2">0.4</text>
<text transform="translate(0 142.2) scale(1 0.985)" x="38.6 52.6 58.4" y="0" font-size="29.2">0.6</text>
<text transform="translate(0 95.7) scale(1 0.985)" x="38.6 52.6 58.4" y="0" font-size="29.2">0.8</text>
<text transform="translate(0 49.1) scale(1 0.985)" x="60.3" y="0" font-size="29.2">1</text>
<text transform="translate(0 314.8) scale(1 1.055)" x="233.7" y="0" font-size="27.5" textLength="105.5" lengthAdjust="spacingAndGlyphs">time [ms]</text>
<text transform="translate(28.5,299.8) rotate(-90) scale(1 1.055)" font-size="27.8" textLength="293" lengthAdjust="spacing">normalized intensity [a.u.]</text>
<rect x="322.8" y="195.7" width="144.6" height="71.5" fill="#fff" stroke="#8c8c8c" stroke-width="1"/>
<line x1="327.5" y1="208.2" x2="347.5" y2="208.2" stroke="#b0b0b0" stroke-width="1.8"/>
<text transform="translate(0 214.5) scale(1 1.055)" x="350.2" y="0" font-size="20.45">measument</text>
<line x1="327.5" y1="230.9" x2="347.5" y2="230.9" stroke="#ff0000" stroke-width="1.8"/>
<text transform="translate(0 238.2) scale(1 1.055)" x="350.2" y="0" font-size="20.45">filtered meas.</text>
<line x1="327.5" y1="253.8" x2="347.5" y2="253.8" stroke="#00ff00" stroke-width="1.8"/>
<text transform="translate(0 260.2) scale(1 1.055)" x="350.2" y="0" font-size="20.45">goal shape</text>
<g stroke="#d6d6d6" stroke-width="1" stroke-dasharray="1 3" fill="none"><line x1="687.6" y1="18.0" x2="687.6" y2="274.0"/><line x1="768.7" y1="18.0" x2="768.7" y2="274.0"/><line x1="849.8" y1="18.0" x2="849.8" y2="274.0"/><line x1="930.9" y1="18.0" x2="930.9" y2="274.0"/><line x1="606.45" y1="227.4" x2="1012.0" y2="227.4"/><line x1="606.45" y1="180.9" x2="1012.0" y2="180.9"/><line x1="606.45" y1="134.3" x2="1012.0" y2="134.3"/><line x1="606.45" y1="87.8" x2="1012.0" y2="87.8"/><line x1="606.45" y1="41.2" x2="1012.0" y2="41.2"/></g>
<rect x="606.45" y="18.0" width="405.5" height="256.0" fill="none" stroke="#8a8a8a" stroke-width="1.05"/>
<g stroke="#6a6a6a" stroke-width="0.9"><line x1="687.6" y1="274.0" x2="687.6" y2="270.0"/><line x1="687.6" y1="18.0" x2="687.6" y2="22.0"/><line x1="768.7" y1="274.0" x2="768.7" y2="270.0"/><line x1="768.7" y1="18.0" x2="768.7" y2="22.0"/><line x1="849.8" y1="274.0" x2="849.8" y2="270.0"/><line x1="849.8" y1="18.0" x2="849.8" y2="22.0"/><line x1="930.9" y1="274.0" x2="930.9" y2="270.0"/><line x1="930.9" y1="18.0" x2="930.9" y2="22.0"/><line x1="606.45" y1="227.4" x2="610.45" y2="227.4"/><line x1="1012.0" y1="227.4" x2="1008.0" y2="227.4"/><line x1="606.45" y1="180.9" x2="610.45" y2="180.9"/><line x1="1012.0" y1="180.9" x2="1008.0" y2="180.9"/><line x1="606.45" y1="134.3" x2="610.45" y2="134.3"/><line x1="1012.0" y1="134.3" x2="1008.0" y2="134.3"/><line x1="606.45" y1="87.8" x2="610.45" y2="87.8"/><line x1="1012.0" y1="87.8" x2="1008.0" y2="87.8"/><line x1="606.45" y1="41.2" x2="610.45" y2="41.2"/><line x1="1012.0" y1="41.2" x2="1008.0" y2="41.2"/></g>
<path d="M606.5 228.2L606.6 220.9L606.8 226.3L606.9 221.8L607.1 227.0L607.2 214.6L607.4 221.8L607.5 227.9L607.7 220.1L607.8 226.7L608.0 234.1L608.1 234.1L608.3 235.5L608.4 225.7L608.6 232.1L608.7 234.1L608.9 228.7L609.0 231.0L609.2 238.1L609.4 230.2L609.5 240.1L609.7 243.1L609.8 229.8L610.0 236.8L610.1 231.7L610.3 239.7L610.4 233.0L610.6 227.6L610.7 229.0L610.9 236.8L611.0 233.9L611.2 224.0L611.3 228.7L611.5 231.5L611.6 223.2L611.8 236.2L611.9 229.4L612.1 222.9L612.3 222.6L612.4 229.9L612.6 222.0L612.7 223.5L612.9 228.5L613.0 224.2L613.2 217.1L613.3 221.3L613.5 220.0L613.6 220.3L613.8 217.1L613.9 219.7L614.1 212.0L614.2 213.0L614.4 209.8L614.5 213.2L614.7 216.3L614.8 207.4L615.0 211.0L615.2 206.1L615.3 210.1L615.5 204.7L615.6 201.3L615.8 204.4L615.9 207.9L616.1 200.6L616.2 202.3L616.4 205.8L616.5 204.4L616.7 211.4L616.8 210.6L617.0 203.3L617.1 209.9L617.3 210.4L617.4 201.9L617.6 200.9L617.7 203.8L617.9 211.1L618.1 205.8L618.2 205.5L618.4 209.6L618.5 204.2L618.7 206.4L618.8 201.8L619.0 206.0L619.1 200.9L619.3 210.4L619.4 206.5L619.6 205.7L619.7 204.0L619.9 210.4L620.0 211.3L620.2 219.4L620.3 209.0L620.5 207.5L620.6 206.6L620.8 223.6L621.0 214.9L621.1 216.5L621.3 213.7L621.4 214.6L621.6 218.4L621.7 223.0L621.9 228.3L622.0 215.9L622.2 225.5L622.3 228.1L622.5 224.1L622.6 215.3L622.8 213.9L622.9 216.7L623.1 219.5L623.2 226.7L623.4 227.5L623.5 225.6L623.7 227.0L623.9 219.1L624.0 217.7L624.2 236.4L624.3 225.7L624.5 225.5L624.6 232.4L624.8 223.9L624.9 228.3L625.1 222.6L625.2 228.9L625.4 217.9L625.5 228.6L625.7 226.0L625.8 227.0L626.0 217.8L626.1 220.0L626.3 218.6L626.4 218.8L626.6 227.9L626.8 217.5L626.9 210.3L627.1 211.9L627.2 216.1L627.4 215.3L627.5 212.7L627.7 207.0L627.8 211.9L628.0 212.6L628.1 209.2L628.3 206.4L628.4 207.1L628.6 213.2L628.7 210.8L628.9 201.5L629.0 209.9L629.2 202.2L629.3 205.4L629.5 202.6L629.7 200.7L629.8 201.1L630.0 207.3L630.1 202.7L630.3 199.6L630.4 200.7L630.6 201.6L630.7 196.8L630.9 199.3L631.0 191.2L631.2 196.7L631.3 203.6L631.5 199.3L631.6 200.5L631.8 207.2L631.9 200.1L632.1 201.2L632.2 195.2L632.4 196.3L632.6 196.6L632.7 196.3L632.9 203.9L633.0 197.8L633.2 201.3L633.3 210.3L633.5 194.6L633.6 200.5L633.8 196.1L633.9 204.1L634.1 213.5L634.2 210.5L634.4 204.5L634.5 201.3L634.7 202.9L634.8 201.6L635.0 212.2L635.1 214.9L635.3 207.8L635.5 218.2L635.6 209.8L635.8 212.0L635.9 213.7L636.1 208.6L636.2 213.8L636.4 212.2L636.5 213.5L636.7 216.9L636.8 215.4L637.0 213.7L637.1 217.5L637.3 207.3L637.4 219.7L637.6 225.8L637.7 219.2L637.9 214.0L638.0 216.8L638.2 208.5L638.4 213.7L638.5 213.7L638.7 216.3L638.8 215.7L639.0 215.5L639.1 215.6L639.3 215.6L639.4 215.3L639.6 218.1L639.7 211.6L639.9 214.0L640.0 212.6L640.2 213.3L640.3 212.9L640.5 208.1L640.6 213.3L640.8 208.0L640.9 212.0L641.1 216.2L641.3 205.8L641.4 210.3L641.6 215.3L641.7 204.2L641.9 205.1L642.0 201.7L642.2 206.7L642.3 189.0L642.5 202.1L642.6 197.3L642.8 200.7L642.9 199.5L643.1 200.4L643.2 199.4L643.4 196.7L643.5 197.2L643.7 204.1L643.8 195.8L644.0 197.5L644.2 192.3L644.3 199.9L644.5 199.5L644.6 201.3L644.8 188.3L644.9 197.7L645.1 198.3L645.2 192.3L645.4 186.5L645.5 194.3L645.7 190.4L645.8 194.4L646.0 186.5L646.1 193.2L646.3 185.7L646.4 194.0L646.6 188.3L646.7 187.0L646.9 186.0L647.1 195.3L647.2 196.9L647.4 196.5L647.5 188.7L647.7 196.4L647.8 200.8L648.0 196.5L648.1 198.3L648.3 201.9L648.4 192.5L648.6 195.7L648.7 196.2L648.9 195.7L649.0 202.4L649.2 203.8L649.3 196.7L649.5 205.0L649.6 199.3L649.8 209.9L650.0 199.6L650.1 202.7L650.3 207.0L650.4 212.0L650.6 218.7L650.7 104.7L650.9 108.1L651.0 106.0L651.2 110.4L651.3 103.9L651.5 108.5L651.6 105.2L651.8 96.6L651.9 88.8L652.1 90.6L652.2 86.7L652.4 97.5L652.5 90.8L652.7 90.7L652.9 94.1L653.0 93.0L653.2 91.4L653.3 96.7L653.5 95.2L653.6 91.9L653.8 98.6L653.9 88.6L654.1 96.3L654.2 95.9L654.4 98.9L654.5 92.6L654.7 98.7L654.8 95.2L655.0 97.6L655.1 97.8L655.3 101.0L655.4 100.4L655.6 101.0L655.8 99.2L655.9 98.7L656.1 101.3L656.2 99.7L656.4 101.6L656.5 102.5L656.7 95.9L656.8 99.9L657.0 98.7L657.1 94.1L657.3 96.6L657.4 100.8L657.6 94.9L657.7 96.9L657.9 90.4L658.0 98.1L658.2 99.6L658.3 99.7L658.5 98.7L658.7 101.4L658.8 99.4L659.0 102.3L659.1 102.4L659.3 99.8L659.4 102.6L659.6 100.2L659.7 100.4L659.9 107.3L660.0 104.0L660.2 98.1L660.3 101.8L660.5 99.1L660.6 102.5L660.8 101.8L660.9 102.7L661.1 102.7L661.2 104.2L661.4 99.3L661.6 104.9L661.7 101.6L661.9 102.6L662.0 99.4L662.2 106.3L662.3 99.9L662.5 102.9L662.6 103.1L662.8 102.4L662.9 103.7L663.1 100.5L663.2 99.6L663.4 101.7L663.5 99.5L663.7 101.3L663.8 100.2L664.0 107.8L664.1 105.7L664.3 104.1L664.5 103.7L664.6 105.7L664.8 102.9L664.9 104.8L665.1 111.0L665.2 105.4L665.4 97.6L665.5 108.5L665.7 107.4L665.8 109.1L666.0 105.2L666.1 102.1L666.3 100.5L666.4 106.8L666.6 107.7L666.7 108.3L666.9 109.7L667.0 105.0L667.2 108.8L667.4 108.2L667.5 111.3L667.7 102.0L667.8 104.3L668.0 100.3L668.1 105.7L668.3 105.0L668.4 107.4L668.6 109.3L668.7 107.5L668.9 114.9L669.0 108.3L669.2 110.6L669.3 107.9L669.5 107.3L669.6 111.9L669.8 108.0L669.9 108.1L670.1 111.5L670.3 106.8L670.4 112.3L670.6 109.8L670.7 108.1L670.9 112.3L671.0 107.3L671.2 112.8L671.3 108.8L671.5 109.1L671.6 108.6L671.8 105.0L671.9 110.7L672.1 111.5L672.2 102.7L672.4 107.6L672.5 109.5L672.7 102.1L672.8 106.7L673.0 105.3L673.2 104.1L673.3 107.1L673.5 111.4L673.6 112.8L673.8 106.3L673.9 108.7L674.1 110.8L674.2 111.4L674.4 113.5L674.5 111.6L674.7 107.8L674.8 109.2L675.0 106.4L675.1 113.2L675.3 108.2L675.4 105.3L675.6 111.6L675.7 107.4L675.9 102.8L676.1 114.0L676.2 112.4L676.4 109.6L676.5 110.1L676.7 110.1L676.8 112.1L677.0 115.1L677.1 119.1L677.3 109.4L677.4 116.2L677.6 115.6L677.7 115.9L677.9 115.4L678.0 111.5L678.2 111.5L678.3 114.9L678.5 113.8L678.6 113.6L678.8 121.6L679.0 110.6L679.1 110.1L679.3 119.2L679.4 122.1L679.6 111.8L679.7 112.5L679.9 113.7L680.0 117.7L680.2 110.6L680.3 116.6L680.5 113.5L680.6 114.0L680.8 116.3L680.9 112.8L681.1 119.7L681.2 112.6L681.4 115.0L681.5 117.5L681.7 114.6L681.9 116.5L682.0 116.4L682.2 118.2L682.3 121.0L682.5 112.4L682.6 115.0L682.8 110.3L682.9 117.9L683.1 114.2L683.2 112.4L683.4 116.3L683.5 117.2L683.7 124.0L683.8 117.2L684.0 110.2L684.1 119.0L684.3 121.6L684.4 117.2L684.6 119.4L684.8 114.1L684.9 115.6L685.1 111.0L685.2 119.9L685.4 111.0L685.5 120.7L685.7 120.6L685.8 112.0L686.0 116.6L686.1 112.4L686.3 114.4L686.4 121.5L686.6 119.5L686.7 117.0L686.9 113.3L687.0 117.2L687.2 115.6L687.3 107.7L687.5 114.5L687.7 115.2L687.8 111.7L688.0 120.9L688.1 115.6L688.3 112.9L688.4 114.9L688.6 119.5L688.7 110.1L688.9 118.5L689.0 117.5L689.2 118.7L689.3 115.9L689.5 112.1L689.6 120.6L689.8 117.9L689.9 121.6L690.1 118.4L690.2 122.0L690.4 119.0L690.6 115.2L690.7 123.3L690.9 116.5L691.0 119.3L691.2 125.1L691.3 117.2L691.5 115.8L691.6 119.6L691.8 116.5L691.9 115.8L692.1 119.0L692.2 120.9L692.4 120.2L692.5 115.7L692.7 117.8L692.8 118.5L693.0 119.1L693.1 127.6L693.3 122.3L693.5 118.9L693.6 118.3L693.8 117.3L693.9 124.7L694.1 124.6L694.2 121.3L694.4 124.6L694.5 126.5L694.7 125.0L694.8 122.8L695.0 119.7L695.1 121.1L695.3 124.8L695.4 125.6L695.6 125.9L695.7 122.3L695.9 121.2L696.0 119.4L696.2 128.0L696.4 123.5L696.5 125.5L696.7 119.5L696.8 123.7L697.0 122.0L697.1 122.0L697.3 124.5L697.4 122.6L697.6 126.4L697.7 123.7L697.9 123.1L698.0 121.3L698.2 119.6L698.3 122.5L698.5 121.7L698.6 116.0L698.8 126.0L698.9 121.6L699.1 120.1L699.3 115.2L699.4 123.3L699.6 123.1L699.7 122.6L699.9 125.0L700.0 122.8L700.2 119.4L700.3 122.8L700.5 128.0L700.6 117.6L700.8 123.2L700.9 119.7L701.1 121.8L701.2 117.6L701.4 121.2L701.5 120.5L701.7 121.5L701.8 118.4L702.0 124.3L702.2 122.0L702.3 119.0L702.5 122.2L702.6 115.0L702.8 122.1L702.9 122.4L703.1 121.3L703.2 118.1L703.4 122.9L703.5 121.3L703.7 119.5L703.8 120.5L704.0 124.9L704.1 126.1L704.3 123.2L704.4 120.9L704.6 126.3L704.7 121.6L704.9 125.2L705.1 114.9L705.2 124.9L705.4 126.3L705.5 123.3L705.7 125.4L705.8 125.8L706.0 129.0L706.1 125.2L706.3 119.8L706.4 125.8L706.6 129.8L706.7 125.4L706.9 128.1L707.0 128.3L707.2 128.4L707.3 125.9L707.5 127.0L707.6 125.6L707.8 124.8L708.0 121.1L708.1 121.3L708.3 128.5L708.4 127.7L708.6 129.4L708.7 125.5L708.9 126.0L709.0 138.9L709.2 130.9L709.3 131.6L709.5 127.4L709.6 132.1L709.8 124.9L709.9 131.5L710.1 128.8L710.2 132.2L710.4 134.8L710.5 127.9L710.7 120.8L710.9 120.8L711.0 129.4L711.2 131.3L711.3 129.1L711.5 128.6L711.6 125.7L711.8 123.3L711.9 126.3L712.1 124.8L712.2 128.6L712.4 128.5L712.5 124.6L712.7 123.9L712.8 126.1L713.0 126.5L713.1 126.5L713.3 128.2L713.5 120.5L713.6 126.6L713.8 132.1L713.9 124.2L714.1 125.7L714.2 125.5L714.4 124.8L714.5 133.2L714.7 128.6L714.8 128.0L715.0 122.0L715.1 123.8L715.3 128.4L715.4 133.3L715.6 127.8L715.7 125.8L715.9 123.0L716.0 124.9L716.2 122.7L716.4 123.9L716.5 128.3L716.7 125.4L716.8 126.1L717.0 127.3L717.1 125.9L717.3 125.1L717.4 128.3L717.6 127.0L717.7 117.7L717.9 123.6L718.0 131.2L718.2 129.1L718.3 125.1L718.5 129.1L718.6 131.9L718.8 126.1L718.9 130.1L719.1 124.5L719.3 130.6L719.4 131.3L719.6 126.0L719.7 128.5L719.9 130.7L720.0 127.0L720.2 128.0L720.3 127.2L720.5 123.1L720.6 131.6L720.8 127.2L720.9 124.8L721.1 131.9L721.2 127.6L721.4 128.9L721.5 134.8L721.7 134.8L721.8 126.4L722.0 127.3L722.2 130.3L722.3 131.7L722.5 132.3L722.6 128.3L722.8 133.4L722.9 125.7L723.1 125.9L723.2 131.7L723.4 133.2L723.5 126.3L723.7 124.5L723.8 129.8L724.0 132.1L724.1 122.1L724.3 130.1L724.4 135.2L724.6 129.6L724.7 133.3L724.9 133.5L725.1 135.2L725.2 129.9L725.4 130.1L725.5 127.7L725.7 130.2L725.8 139.7L726.0 129.0L726.1 136.1L726.3 122.6L726.4 133.1L726.6 133.1L726.7 131.5L726.9 134.5L727.0 134.9L727.2 126.4L727.3 128.7L727.5 133.7L727.6 130.3L727.8 131.5L728.0 135.9L728.1 125.1L728.3 124.2L728.4 129.4L728.6 133.9L728.7 125.8L728.9 125.3L729.0 133.7L729.2 127.2L729.3 129.6L729.5 126.6L729.6 128.1L729.8 120.5L729.9 126.8L730.1 128.2L730.2 131.5L730.4 131.5L730.5 124.6L730.7 130.0L730.9 130.7L731.0 128.0L731.2 129.1L731.3 127.5L731.5 129.6L731.6 124.9L731.8 132.2L731.9 128.8L732.1 127.4L732.2 132.5L732.4 127.2L732.5 133.6L732.7 141.3L732.8 126.5L733.0 130.2L733.1 126.3L733.3 132.1L733.4 132.1L733.6 135.8L733.8 128.1L733.9 127.4L734.1 129.2L734.2 136.5L734.4 126.1L734.5 131.5L734.7 134.2L734.8 134.5L735.0 133.3L735.1 129.6L735.3 135.0L735.4 125.3L735.6 135.4L735.7 131.6L735.9 134.9L736.0 134.0L736.2 133.3L736.3 130.4L736.5 133.5L736.7 131.2L736.8 134.9L737.0 132.7L737.1 136.4L737.3 136.1L737.4 136.2L737.6 139.9L737.7 133.2L737.9 139.2L738.0 136.2L738.2 132.1L738.3 134.4L738.5 130.6L738.6 131.7L738.8 129.6L738.9 136.5L739.1 128.3L739.2 133.6L739.4 133.4L739.6 132.4L739.7 132.7L739.9 129.5L740.0 135.2L740.2 130.2L740.3 134.3L740.5 130.2L740.6 126.8L740.8 128.3L740.9 126.1L741.1 127.8L741.2 131.9L741.4 131.4L741.5 131.7L741.7 127.5L741.8 131.6L742.0 131.2L742.1 126.4L742.3 132.5L742.5 132.4L742.6 129.7L742.8 134.2L742.9 132.4L743.1 133.7L743.2 135.7L743.4 133.8L743.5 136.7L743.7 127.0L743.8 130.6L744.0 133.1L744.1 129.5L744.3 130.0L744.4 134.6L744.6 133.0L744.7 133.8L744.9 132.2L745.0 134.0L745.2 130.6L745.4 138.4L745.5 138.5L745.7 133.1L745.8 128.0L746.0 131.8L746.1 130.8L746.3 130.5L746.4 132.8L746.6 130.6L746.7 134.3L746.9 130.0L747.0 133.6L747.2 128.8L747.3 136.3L747.5 131.6L747.6 135.8L747.8 132.0L747.9 131.9L748.1 135.1L748.3 132.4L748.4 125.3L748.6 135.6L748.7 128.8L748.9 137.6L749.0 133.9L749.2 133.3L749.3 128.0L749.5 138.7L749.6 138.5L749.8 133.1L749.9 131.8L750.1 134.4L750.2 135.0L750.4 136.9L750.5 132.7L750.7 137.1L750.8 132.7L751.0 133.8L751.2 135.1L751.3 142.0L751.5 136.3L751.6 137.2L751.8 129.2L751.9 136.8L752.1 139.2L752.2 131.6L752.4 129.4L752.5 133.0L752.7 136.9L752.8 139.5L753.0 137.2L753.1 138.8L753.3 137.1L753.4 133.6L753.6 139.3L753.7 134.9L753.9 132.1L754.1 132.9L754.2 133.9L754.4 137.5L754.5 135.7L754.7 140.0L754.8 141.4L755.0 136.5L755.1 134.4L755.3 134.8L755.4 139.1L755.6 137.4L755.7 138.1L755.9 127.0L756.0 131.2L756.2 138.9L756.3 132.3L756.5 137.1L756.6 132.2L756.8 138.4L757.0 135.0L757.1 136.7L757.3 133.8L757.4 133.3L757.6 125.8L757.7 132.9L757.9 134.6L758.0 134.4L758.2 134.2L758.3 135.1L758.5 134.5L758.6 136.5L758.8 131.3L758.9 137.7L759.1 129.3L759.2 129.1L759.4 131.3L759.5 128.5L759.7 135.5L759.9 133.8L760.0 131.3L760.2 132.3L760.3 127.2L760.5 130.8L760.6 135.0L760.8 131.5L760.9 135.2L761.1 136.1L761.2 136.8L761.4 138.6L761.5 130.7L761.7 140.1L761.8 133.3L762.0 134.1L762.1 134.0L762.3 134.9L762.4 133.5L762.6 135.4L762.8 137.8L762.9 133.7L763.1 132.8L763.2 143.3L763.4 140.7L763.5 137.5L763.7 135.6L763.8 138.2L764.0 129.3L764.1 135.1L764.3 131.3L764.4 134.2L764.6 140.9L764.7 140.3L764.9 137.6L765.0 135.5L765.2 132.7L765.3 134.7L765.5 216.2L765.7 215.8L765.8 215.1L766.0 218.1L766.1 223.0L766.3 218.6L766.4 216.9L766.6 232.4L766.7 231.8L766.9 229.0L767.0 236.9L767.2 228.8L767.3 232.6L767.5 232.4L767.6 222.9L767.8 230.7L767.9 222.1L768.1 227.2L768.2 218.5L768.4 225.7L768.6 222.6L768.7 216.7L768.9 219.0L769.0 217.0L769.2 214.8L769.3 217.2L769.5 215.7L769.6 211.4L769.8 213.3L769.9 204.0L770.1 205.0L770.2 214.6L770.4 207.2L770.5 210.0L770.7 212.2L770.8 199.6L771.0 205.4L771.1 204.9L771.3 199.4L771.5 200.0L771.6 198.5L771.8 202.2L771.9 199.3L772.1 196.0L772.2 196.7L772.4 201.6L772.5 196.7L772.7 203.4L772.8 200.8L773.0 195.5L773.1 199.5L773.3 203.3L773.4 192.5L773.6 197.1L773.7 195.9L773.9 206.7L774.0 204.4L774.2 203.4L774.4 203.3L774.5 195.5L774.7 201.4L774.8 194.4L775.0 204.0L775.1 202.2L775.3 206.8L775.4 207.3L775.6 193.2L775.7 199.1L775.9 207.3L776.0 207.8L776.2 201.9L776.3 204.2L776.5 202.0L776.6 212.4L776.8 213.8L776.9 214.0L777.1 215.2L777.3 213.8L777.4 213.5L777.6 216.8L777.7 217.4L777.9 210.6L778.0 215.4L778.2 218.6L778.3 218.2L778.5 218.8L778.6 218.3L778.8 228.2L778.9 218.0L779.1 224.9L779.2 219.8L779.4 222.0L779.5 216.1L779.7 227.5L779.8 219.5L780.0 214.0L780.2 223.7L780.3 224.2L780.5 217.8L780.6 226.5L780.8 226.6L780.9 217.6L781.1 217.7L781.2 227.4L781.4 233.9L781.5 222.4L781.7 221.3L781.8 223.2L782.0 214.5L782.1 213.9L782.3 214.5L782.4 222.9L782.6 217.2L782.7 210.5L782.9 209.1L783.1 211.8L783.2 211.7L783.4 204.1L783.5 208.1L783.7 201.2L783.8 207.9L784.0 210.6L784.1 207.4L784.3 202.2L784.4 206.1L784.6 203.1L784.7 195.7L784.9 205.9L785.0 200.3L785.2 202.1L785.3 205.8L785.5 200.5L785.6 195.0L785.8 193.5L786.0 196.7L786.1 199.4L786.3 188.5L786.4 198.9L786.6 194.7L786.7 199.2L786.9 200.0L787.0 192.0L787.2 192.6L787.3 188.8L787.5 196.2L787.6 196.1L787.8 191.9L787.9 185.8L788.1 186.5L788.2 198.2L788.4 192.8L788.5 187.7L788.7 189.6L788.9 197.5L789.0 186.0L789.2 195.9L789.3 194.6L789.5 193.3L789.6 188.0L789.8 196.1L789.9 193.0L790.1 200.7L790.2 193.6L790.4 193.9L790.5 207.9L790.7 198.5L790.8 206.0L791.0 202.2L791.1 211.2L791.3 205.2L791.4 203.2L791.6 205.7L791.8 207.8L791.9 210.0L792.1 208.6L792.2 214.3L792.4 214.7L792.5 204.0L792.7 216.7L792.8 219.5L793.0 212.9L793.1 212.6L793.3 214.2L793.4 212.1L793.6 213.3L793.7 211.3L793.9 222.5L794.0 213.2L794.2 216.3L794.3 216.5L794.5 224.6L794.7 219.8L794.8 215.0L795.0 212.2L795.1 218.3L795.3 218.1L795.4 214.4L795.6 216.0L795.7 212.4L795.9 212.9L796.0 212.9L796.2 212.1L796.3 207.8L796.5 215.2L796.6 216.8L796.8 212.5L796.9 200.1L797.1 205.8L797.2 200.4L797.4 198.5L797.6 199.0L797.7 205.5L797.9 204.7L798.0 205.3L798.2 209.4L798.3 195.3L798.5 189.2L798.6 188.5L798.8 192.0L798.9 189.2L799.1 190.0L799.2 186.3L799.4 189.8L799.5 195.0L799.7 190.6L799.8 189.4L800.0 185.9L800.1 180.7L800.3 181.8L800.5 189.2L800.6 181.4L800.8 185.9L800.9 184.2L801.1 183.6L801.2 182.3L801.4 185.9L801.5 179.6L801.7 182.5L801.8 176.6L802.0 180.9L802.1 185.4L802.3 179.7L802.4 184.9L802.6 174.2L802.7 185.6L802.9 178.0L803.0 193.2L803.2 179.7L803.4 187.4L803.5 181.3L803.7 187.4L803.8 187.1L804.0 185.7L804.1 193.5L804.3 188.7L804.4 192.7L804.6 191.9L804.7 192.1L804.9 187.8L805.0 191.6L805.2 197.8L805.3 200.0L805.5 198.0L805.6 201.7L805.8 201.7L805.9 200.4L806.1 201.9L806.3 204.3L806.4 199.3L806.6 211.5L806.7 206.4L806.9 206.8L807.0 206.5L807.2 204.3L807.3 216.3L807.5 206.9L807.6 211.8L807.8 214.9L807.9 212.8L808.1 212.7L808.2 208.4L808.4 215.6L808.5 219.1L808.7 219.5L808.8 218.5L809.0 212.4L809.2 210.7L809.3 211.0L809.5 209.7L809.6 219.3L809.8 212.7L809.9 210.6L810.1 207.8L810.2 211.9L810.4 210.3L810.5 199.1L810.7 216.2L810.8 202.7L811.0 205.1L811.1 204.1L811.3 200.9L811.4 194.1L811.6 200.1L811.7 206.2L811.9 194.7L812.1 197.4L812.2 196.3L812.4 196.6L812.5 188.5L812.7 185.0L812.8 189.5L813.0 196.5L813.1 196.9L813.3 191.0L813.4 190.2L813.6 191.1L813.7 186.4L813.9 181.6L814.0 180.8L814.2 183.5L814.3 188.1L814.5 189.0L814.6 182.8L814.8 187.5L815.0 177.5L815.1 184.0L815.3 178.1L815.4 179.4L815.6 176.2L815.7 184.0L815.9 183.4L816.0 176.4L816.2 177.7L816.3 181.2L816.5 171.0L816.6 176.6L816.8 180.2L816.9 188.2L817.1 189.2L817.2 190.3L817.4 176.4L817.5 178.3L817.7 199.1L817.9 183.4L818.0 184.8L818.2 182.1L818.3 180.7L818.5 173.1L818.6 184.6L818.8 183.6L818.9 185.4L819.1 184.2L819.2 196.7L819.4 189.9L819.5 196.4L819.7 189.6L819.8 195.2L820.0 198.1L820.1 189.8L820.3 197.2L820.5 196.6L820.6 197.9L820.8 197.0L820.9 194.6L821.1 199.5L821.2 201.0L821.4 201.2L821.5 204.7L821.7 200.1L821.8 192.1L822.0 200.1L822.1 199.6L822.3 195.3L822.4 201.4L822.6 201.8L822.7 196.3L822.9 203.1L823.0 201.0L823.2 203.1L823.4 197.7L823.5 203.6L823.7 203.1L823.8 198.4L824.0 198.2L824.1 197.6L824.3 193.8L824.4 201.4L824.6 198.6L824.7 206.5L824.9 200.1L825.0 197.9L825.2 198.4L825.3 196.0L825.5 195.2L825.6 196.2L825.8 197.3L825.9 190.0L826.1 195.1L826.3 194.4L826.4 190.3L826.6 192.8L826.7 188.3L826.9 192.1L827.0 184.8L827.2 189.4L827.3 183.4L827.5 187.5L827.6 175.3L827.8 184.6L827.9 176.4L828.1 182.7L828.2 183.6L828.4 174.4L828.5 174.5L828.7 180.6L828.8 182.1L829.0 171.3L829.2 180.5L829.3 180.2L829.5 188.6L829.6 175.8L829.8 175.3L829.9 180.7L830.1 181.1L830.2 186.2L830.4 176.6L830.5 185.5L830.7 184.9L830.8 181.2L831.0 173.5L831.1 181.9L831.3 178.6L831.4 173.1L831.6 175.0L831.7 178.0L831.9 185.7L832.1 179.6L832.2 174.8L832.4 173.3L832.5 182.6L832.7 180.2L832.8 172.8L833.0 178.4L833.1 183.5L833.3 183.2L833.4 183.1L833.6 186.8L833.7 189.1L833.9 190.0L834.0 192.4L834.2 195.6L834.3 190.1L834.5 183.5L834.6 193.1L834.8 189.4L835.0 194.9L835.1 198.7L835.3 195.5L835.4 195.5L835.6 200.0L835.7 196.6L835.9 203.8L836.0 204.6L836.2 204.7L836.3 197.0L836.5 202.0L836.6 202.3L836.8 194.6L836.9 209.5L837.1 210.9L837.2 194.9L837.4 204.4L837.5 202.6L837.7 199.0L837.9 199.1L838.0 200.4L838.2 194.4L838.3 205.2L838.5 196.8L838.6 191.9L838.8 199.5L838.9 201.0L839.1 184.8L839.2 197.6L839.4 194.9L839.5 190.5L839.7 186.4L839.8 186.4L840.0 195.8L840.1 189.5L840.3 189.7L840.4 185.3L840.6 185.2L840.8 190.0L840.9 179.9L841.1 185.9L841.2 177.4L841.4 171.3L841.5 179.7L841.7 179.5L841.8 173.8L842.0 174.5L842.1 168.0L842.3 162.8L842.4 178.6L842.6 180.3L842.7 170.3L842.9 174.9L843.0 159.0L843.2 176.2L843.3 160.7L843.5 164.5L843.7 165.0L843.8 171.7L844.0 170.1L844.1 161.8L844.3 160.0L844.4 158.3L844.6 156.5L844.7 163.4L844.9 154.7L845.0 164.6L845.2 165.9L845.3 176.3L845.5 166.5L845.6 160.8L845.8 169.8L845.9 166.5L846.1 167.7L846.2 166.7L846.4 165.7L846.6 163.9L846.7 174.4L846.9 177.6L847.0 175.1L847.2 169.2L847.3 170.8L847.5 187.7L847.6 172.9L847.8 176.7L847.9 186.6L848.1 182.7L848.2 194.9L848.4 182.0L848.5 184.8L848.7 181.6L848.8 183.0L849.0 187.4L849.1 186.3L849.3 202.0L849.5 194.6L849.6 198.2L849.8 194.2L849.9 195.5L850.1 200.5L850.2 204.6L850.4 197.1L850.5 204.9L850.7 205.9L850.8 201.5L851.0 210.2L851.1 207.1L851.3 196.6L851.4 206.9L851.6 200.3L851.7 206.4L851.9 204.3L852.0 201.5L852.2 204.6L852.4 203.8L852.5 200.1L852.7 198.7L852.8 198.7L853.0 200.0L853.1 201.1L853.3 196.9L853.4 192.2L853.6 200.3L853.7 189.2L853.9 191.3L854.0 183.8L854.2 187.7L854.3 182.6L854.5 178.3L854.6 56.7L854.8 46.3L854.9 60.3L855.1 44.5L855.3 46.3L855.4 49.4L855.6 37.0L855.7 51.4L855.9 49.1L856.0 54.8L856.2 50.5L856.3 53.5L856.5 51.1L856.6 55.2L856.8 47.8L856.9 52.4L857.1 53.9L857.2 47.7L857.4 52.4L857.5 46.3L857.7 45.7L857.8 54.0L858.0 52.2L858.2 53.2L858.3 55.1L858.5 54.4L858.6 55.1L858.8 56.7L858.9 56.2L859.1 50.7L859.2 53.9L859.4 56.1L859.5 55.8L859.7 52.7L859.8 59.7L860.0 57.4L860.1 52.3L860.3 54.6L860.4 59.8L860.6 53.5L860.7 60.0L860.9 60.7L861.1 49.6L861.2 57.3L861.4 57.3L861.5 54.6L861.7 61.3L861.8 58.9L862.0 64.0L862.1 59.4L862.3 69.2L862.4 57.4L862.6 65.1L862.7 55.1L862.9 66.3L863.0 67.3L863.2 59.5L863.3 64.7L863.5 66.1L863.6 64.1L863.8 67.6L864.0 63.6L864.1 68.1L864.3 69.9L864.4 62.3L864.6 58.5L864.7 68.2L864.9 65.2L865.0 64.9L865.2 62.0L865.3 72.1L865.5 64.8L865.6 66.8L865.8 66.4L865.9 65.7L866.1 68.1L866.2 68.4L866.4 69.9L866.5 72.6L866.7 68.6L866.9 73.3L867.0 70.7L867.2 68.0L867.3 74.3L867.5 72.8L867.6 65.4L867.8 69.7L867.9 76.4L868.1 69.4L868.2 71.5L868.4 67.4L868.5 70.0L868.7 73.1L868.8 69.9L869.0 71.0L869.1 72.3L869.3 73.6L869.4 68.2L869.6 72.5L869.8 72.1L869.9 73.6L870.1 72.3L870.2 73.2L870.4 71.9L870.5 74.1L870.7 72.6L870.8 70.9L871.0 65.9L871.1 73.0L871.3 72.1L871.4 70.3L871.6 70.2L871.7 73.6L871.9 74.4L872.0 70.4L872.2 67.3L872.3 81.4L872.5 69.5L872.7 77.9L872.8 74.7L873.0 73.0L873.1 74.5L873.3 70.0L873.4 76.4L873.6 75.3L873.7 80.4L873.9 74.3L874.0 71.7L874.2 80.4L874.3 74.0L874.5 75.5L874.6 76.4L874.8 79.3L874.9 75.3L875.1 72.9L875.2 77.1L875.4 79.3L875.6 81.6L875.7 82.1L875.9 78.0L876.0 79.6L876.2 78.8L876.3 79.1L876.5 85.1L876.6 76.9L876.8 81.5L876.9 80.3L877.1 78.4L877.2 80.4L877.4 81.8L877.5 77.3L877.7 83.5L877.8 84.8L878.0 81.7L878.1 83.1L878.3 85.0L878.5 78.9L878.6 83.7L878.8 87.3L878.9 91.5L879.1 86.6L879.2 88.9L879.4 89.1L879.5 81.1L879.7 86.4L879.8 85.3L880.0 88.3L880.1 88.9L880.3 87.2L880.4 87.1L880.6 85.0L880.7 80.4L880.9 88.4L881.0 88.6L881.2 84.6L881.4 81.5L881.5 85.7L881.7 84.8L881.8 86.1L882.0 86.2L882.1 87.7L882.3 88.2L882.4 88.4L882.6 83.3L882.7 91.1L882.9 85.6L883.0 84.1L883.2 87.4L883.3 85.1L883.5 91.2L883.6 87.1L883.8 85.4L883.9 82.7L884.1 85.5L884.3 84.7L884.4 87.5L884.6 85.6L884.7 89.8L884.9 90.1L885.0 88.9L885.2 86.8L885.3 88.2L885.5 83.0L885.6 92.8L885.8 85.7L885.9 89.7L886.1 90.5L886.2 86.3L886.4 85.7L886.5 87.3L886.7 84.5L886.8 89.5L887.0 89.6L887.2 83.0L887.3 88.5L887.5 89.2L887.6 86.7L887.8 87.5L887.9 93.1L888.1 93.3L888.2 95.5L888.4 92.9L888.5 90.4L888.7 87.3L888.8 88.3L889.0 91.8L889.1 90.0L889.3 94.6L889.4 86.4L889.6 91.6L889.7 94.0L889.9 92.9L890.1 94.6L890.2 90.8L890.4 90.9L890.5 94.0L890.7 92.7L890.8 97.1L891.0 92.7L891.1 95.7L891.3 96.7L891.4 88.7L891.6 96.9L891.7 97.9L891.9 101.7L892.0 98.8L892.2 96.4L892.3 99.6L892.5 97.8L892.6 93.7L892.8 90.8L893.0 100.4L893.1 93.9L893.3 93.3L893.4 102.1L893.6 96.0L893.7 96.2L893.9 97.8L894.0 95.5L894.2 97.7L894.3 97.9L894.5 98.9L894.6 97.3L894.8 100.8L894.9 101.9L895.1 95.8L895.2 98.5L895.4 90.5L895.5 92.5L895.7 98.4L895.9 100.7L896.0 98.3L896.2 98.6L896.3 98.7L896.5 100.4L896.6 92.0L896.8 95.0L896.9 93.8L897.1 106.1L897.2 95.5L897.4 101.4L897.5 94.9L897.7 99.5L897.8 99.5L898.0 98.4L898.1 90.3L898.3 103.2L898.4 99.1L898.6 99.2L898.8 95.0L898.9 93.2L899.1 95.9L899.2 97.3L899.4 99.4L899.5 96.7L899.7 100.1L899.8 99.9L900.0 92.8L900.1 99.7L900.3 94.1L900.4 98.1L900.6 104.1L900.7 95.9L900.9 99.9L901.0 98.2L901.2 95.2L901.3 96.3L901.5 101.0L901.7 95.7L901.8 95.6L902.0 101.7L902.1 100.5L902.3 101.6L902.4 102.6L902.6 98.9L902.7 103.3L902.9 103.7L903.0 95.8L903.2 102.0L903.3 101.1L903.5 99.8L903.6 108.7L903.8 104.7L903.9 99.7L904.1 106.8L904.2 104.3L904.4 102.6L904.6 103.9L904.7 100.5L904.9 101.6L905.0 98.0L905.2 102.7L905.3 101.5L905.5 108.7L905.6 105.6L905.8 98.0L905.9 105.7L906.1 106.7L906.2 98.0L906.4 104.6L906.5 106.3L906.7 101.8L906.8 109.9L907.0 106.6L907.1 107.8L907.3 102.9L907.5 106.4L907.6 105.1L907.8 105.9L907.9 108.1L908.1 103.2L908.2 105.1L908.4 98.8L908.5 106.0L908.7 106.8L908.8 105.8L909.0 109.3L909.1 110.9L909.3 103.8L909.4 107.4L909.6 105.9L909.7 105.0L909.9 106.6L910.0 113.1L910.2 107.1L910.4 103.6L910.5 104.4L910.7 108.1L910.8 104.6L911.0 110.2L911.1 102.5L911.3 112.3L911.4 110.4L911.6 108.2L911.7 100.5L911.9 104.2L912.0 108.2L912.2 110.3L912.3 106.8L912.5 99.7L912.6 106.7L912.8 100.2L912.9 106.8L913.1 103.6L913.3 111.0L913.4 106.7L913.6 103.9L913.7 103.0L913.9 103.0L914.0 99.2L914.2 105.2L914.3 104.0L914.5 108.0L914.6 109.1L914.8 106.0L914.9 107.3L915.1 108.2L915.2 105.7L915.4 108.5L915.5 105.1L915.7 105.8L915.8 108.4L916.0 103.1L916.2 109.4L916.3 105.0L916.5 107.7L916.6 107.5L916.8 104.1L916.9 107.5L917.1 106.0L917.2 107.7L917.4 111.9L917.5 109.0L917.7 108.7L917.8 104.3L918.0 106.9L918.1 106.7L918.3 111.4L918.4 113.4L918.6 116.0L918.7 105.6L918.9 108.8L919.1 110.3L919.2 109.6L919.4 107.7L919.5 109.3L919.7 104.9L919.8 110.0L920.0 113.2L920.1 111.9L920.3 109.8L920.4 106.8L920.6 117.2L920.7 112.6L920.9 109.9L921.0 109.0L921.2 113.0L921.3 107.8L921.5 113.7L921.6 108.3L921.8 111.9L922.0 103.8L922.1 116.7L922.3 114.9L922.4 116.1L922.6 113.3L922.7 107.1L922.9 115.6L923.0 103.1L923.2 109.7L923.3 108.8L923.5 118.0L923.6 113.6L923.8 108.1L923.9 109.8L924.1 114.7L924.2 113.4L924.4 115.1L924.5 110.1L924.7 114.0L924.9 114.4L925.0 109.6L925.2 112.4L925.3 111.7L925.5 116.0L925.6 110.7L925.8 108.1L925.9 113.9L926.1 115.8L926.2 109.6L926.4 111.6L926.5 113.9L926.7 111.1L926.8 109.4L927.0 113.6L927.1 108.1L927.3 119.2L927.5 109.6L927.6 112.4L927.8 110.3L927.9 109.0L928.1 116.2L928.2 109.2L928.4 115.4L928.5 112.9L928.7 104.2L928.8 110.7L929.0 118.9L929.1 109.3L929.3 116.0L929.4 114.4L929.6 110.0L929.7 115.0L929.9 113.1L930.0 111.6L930.2 114.3L930.4 112.1L930.5 113.7L930.7 111.7L930.8 110.6L931.0 115.6L931.1 115.8L931.3 109.4L931.4 110.1L931.6 114.9L931.7 113.8L931.9 113.9L932.0 115.0L932.2 113.2L932.3 115.4L932.5 116.9L932.6 113.6L932.8 116.6L932.9 114.6L933.1 114.3L933.3 118.1L933.4 116.2L933.6 118.1L933.7 120.4L933.9 116.8L934.0 109.5L934.2 113.9L934.3 112.7L934.5 112.1L934.6 121.1L934.8 123.0L934.9 113.7L935.1 116.1L935.2 110.1L935.4 115.7L935.5 117.3L935.7 116.3L935.8 123.6L936.0 116.4L936.2 122.5L936.3 119.2L936.5 120.3L936.6 115.6L936.8 120.0L936.9 113.6L937.1 118.0L937.2 118.6L937.4 111.1L937.5 118.5L937.7 118.7L937.8 115.0L938.0 118.1L938.1 117.9L938.3 115.0L938.4 117.5L938.6 115.6L938.7 117.7L938.9 117.4L939.1 121.5L939.2 121.0L939.4 115.4L939.5 121.2L939.7 116.4L939.8 117.0L940.0 113.4L940.1 114.2L940.3 115.7L940.4 113.7L940.6 117.2L940.7 115.3L940.9 116.6L941.0 116.1L941.2 113.3L941.3 122.3L941.5 117.9L941.6 117.7L941.8 118.8L942.0 116.8L942.1 111.2L942.3 118.2L942.4 113.3L942.6 114.5L942.7 117.0L942.9 116.9L943.0 114.6L943.2 121.0L943.3 109.0L943.5 116.9L943.6 118.6L943.8 116.4L943.9 119.8L944.1 119.7L944.2 117.6L944.4 116.9L944.5 123.1L944.7 110.9L944.9 112.1L945.0 116.2L945.2 114.2L945.3 117.3L945.5 114.4L945.6 119.7L945.8 117.7L945.9 118.2L946.1 112.7L946.2 123.3L946.4 116.2L946.5 118.9L946.7 113.3L946.8 125.0L947.0 114.9L947.1 121.4L947.3 111.1L947.4 126.3L947.6 115.0L947.8 119.9L947.9 125.1L948.1 123.4L948.2 118.8L948.4 121.4L948.5 116.2L948.7 121.7L948.8 121.5L949.0 114.8L949.1 123.5L949.3 121.1L949.4 120.1L949.6 123.8L949.7 123.4L949.9 124.7L950.0 123.6L950.2 116.8L950.3 127.1L950.5 121.3L950.7 127.8L950.8 110.7L951.0 120.0L951.1 123.1L951.3 121.3L951.4 119.6L951.6 122.4L951.7 121.8L951.9 130.8L952.0 119.5L952.2 116.3L952.3 119.7L952.5 119.6L952.6 123.4L952.8 119.8L952.9 117.0L953.1 120.1L953.2 124.1L953.4 123.5L953.6 121.5L953.7 127.7L953.9 119.3L954.0 117.2L954.2 122.2L954.3 120.8L954.5 120.3L954.6 122.0L954.8 116.2L954.9 124.9L955.1 120.6L955.2 120.0L955.4 120.3L955.5 123.3L955.7 123.7L955.8 118.7L956.0 118.9L956.1 118.4L956.3 122.6L956.5 123.0L956.6 115.6L956.8 122.8L956.9 127.4L957.1 121.6L957.2 128.0L957.4 120.4L957.5 115.3L957.7 122.6L957.8 121.1L958.0 118.0L958.1 122.7L958.3 124.3L958.4 124.9L958.6 124.6L958.7 120.9L958.9 125.9L959.0 116.6L959.2 121.2L959.4 116.6L959.5 124.5L959.7 123.3L959.8 121.3L960.0 119.0L960.1 120.8L960.3 120.4L960.4 119.2L960.6 119.5L960.7 121.8L960.9 120.9L961.0 122.5L961.2 123.7L961.3 126.2L961.5 127.2L961.6 119.0L961.8 121.2L961.9 123.8L962.1 119.8L962.3 124.1L962.4 119.9L962.6 123.3L962.7 124.3L962.9 125.0L963.0 129.0L963.2 128.8L963.3 124.4L963.5 125.2L963.6 123.8L963.8 127.5L963.9 128.7L964.1 126.7L964.2 124.5L964.4 128.4L964.5 125.5L964.7 128.1L964.8 124.3L965.0 125.4L965.2 129.9L965.3 129.0L965.5 126.0L965.6 129.4L965.8 127.4L965.9 127.2L966.1 127.6L966.2 132.1L966.4 125.3L966.5 121.2L966.7 127.4L966.8 218.2L967.0 213.2L967.1 214.2L967.3 212.5L967.4 209.0L967.6 221.1L967.7 210.9L967.9 214.6L968.1 219.7L968.2 208.5L968.4 207.3L968.5 207.9L968.7 211.1L968.8 209.6L969.0 209.1L969.1 204.0L969.3 203.5L969.4 199.2L969.6 200.7L969.7 197.2L969.9 204.2L970.0 207.3L970.2 203.8L970.3 192.4L970.5 197.9L970.6 204.5L970.8 197.9L971.0 202.4L971.1 197.5L971.3 201.2L971.4 195.8L971.6 194.6L971.7 196.0L971.9 196.4L972.0 196.3L972.2 195.0L972.3 184.1L972.5 195.7L972.6 205.3L972.8 203.7L972.9 202.1L973.1 203.9L973.2 193.2L973.4 198.1L973.5 203.0L973.7 192.1L973.9 191.1L974.0 201.9L974.2 202.1L974.3 200.7L974.5 199.8L974.6 194.0L974.8 200.2L974.9 203.8L975.1 205.5L975.2 203.7L975.4 208.7L975.5 213.6L975.7 206.3L975.8 202.1L976.0 212.2L976.1 206.1L976.3 206.3L976.4 220.4L976.6 214.4L976.8 220.7L976.9 214.1L977.1 219.0L977.2 217.9L977.4 211.0L977.5 222.0L977.7 223.1L977.8 219.1L978.0 220.5L978.1 227.9L978.3 222.5L978.4 221.6L978.6 229.9L978.7 225.5L978.9 235.5L979.0 218.3L979.2 222.4L979.3 217.1L979.5 218.3L979.7 227.2L979.8 212.0L980.0 218.7L980.1 222.8L980.3 220.3L980.4 217.4L980.6 217.7L980.7 218.5L980.9 213.6L981.0 214.5L981.2 212.8L981.3 216.2L981.5 210.7L981.6 220.3L981.8 209.2L981.9 212.9L982.1 212.3L982.2 212.0L982.4 205.4L982.6 204.5L982.7 206.3L982.9 209.1L983.0 212.1L983.2 198.0L983.3 203.2L983.5 198.8L983.6 193.2L983.8 207.4L983.9 197.2L984.1 200.4L984.2 201.3L984.4 194.5L984.5 196.1L984.7 193.3L984.8 202.7L985.0 201.4L985.1 198.4L985.3 194.8L985.5 191.5L985.6 197.5L985.8 195.4L985.9 197.9L986.1 189.0L986.2 192.3L986.4 191.3L986.5 190.4L986.7 198.0L986.8 197.3L987.0 198.7L987.1 194.1L987.3 188.4L987.4 194.7L987.6 195.0L987.7 186.4L987.9 197.4L988.0 192.5L988.2 192.2L988.4 192.4L988.5 197.8L988.7 200.9L988.8 199.2L989.0 198.7L989.1 208.5L989.3 195.2L989.4 194.0L989.6 194.6L989.7 196.3L989.9 199.9L990.0 201.9L990.2 204.5L990.3 208.6L990.5 201.9L990.6 216.0L990.8 205.6L990.9 200.1L991.1 207.7L991.3 221.4L991.4 208.4L991.6 213.3L991.7 209.0L991.9 207.7L992.0 209.7L992.2 213.4L992.3 211.8L992.5 218.3L992.6 214.8L992.8 211.0L992.9 211.7L993.1 209.2L993.2 210.7L993.4 210.4L993.5 211.9L993.7 223.8L993.8 203.0L994.0 210.8L994.2 215.2L994.3 217.1L994.5 203.9L994.6 211.7L994.8 206.7L994.9 205.1L995.1 211.7L995.2 205.1L995.4 207.2L995.5 202.8L995.7 200.5L995.8 208.3L996.0 196.6L996.1 197.8L996.3 206.3L996.4 194.0L996.6 199.9L996.7 204.6L996.9 204.0L997.1 196.8L997.2 194.4L997.4 205.3L997.5 192.8L997.7 195.4L997.8 193.9L998.0 191.2L998.1 193.5L998.3 192.2L998.4 194.8L998.6 187.5L998.7 190.3L998.9 193.1L999.0 189.4L999.2 193.2L999.3 187.1L999.5 186.0L999.6 189.7L999.8 197.4L1000.0 188.2L1000.1 183.9L1000.3 176.6L1000.4 180.9L1000.6 192.9L1000.7 191.7L1000.9 188.5L1001.0 184.8L1001.2 184.1L1001.3 185.9L1001.5 186.3L1001.6 193.3L1001.8 184.2L1001.9 189.4L1002.1 193.0L1002.2 194.3L1002.4 190.2L1002.5 187.3L1002.7 192.7L1002.9 184.0L1003.0 188.8L1003.2 191.9" fill="none" stroke="#b0b0b0" stroke-width="1.5" stroke-linejoin="round"/>
<path d="M606.5 212.3L606.6 203.3L606.8 210.4L606.9 216.0L607.1 214.4L607.2 213.9L607.4 214.4L607.5 212.3L607.7 213.6L607.8 216.5L608.0 210.5L608.1 212.8L608.3 214.3L608.4 212.1L608.6 213.8L608.7 215.4L608.9 213.0L609.0 217.5L609.2 210.6L609.4 215.9L609.5 212.8L609.7 215.9L609.8 208.8L610.0 213.8L610.1 212.3L610.3 213.3L610.4 213.2L610.6 211.6L610.7 207.6L610.9 212.0L611.0 215.8L611.2 217.1L611.3 212.2L611.5 204.7L611.6 211.5L611.8 209.6L611.9 212.6L612.1 211.5L612.3 217.8L612.4 212.1L612.6 208.2L612.7 210.3L612.9 215.5L613.0 209.3L613.2 210.0L613.3 209.8L613.5 216.3L613.6 213.7L613.8 209.6L613.9 214.1L614.1 212.1L614.2 211.6L614.4 220.9L614.5 216.2L614.7 210.4L614.8 213.7L615.0 208.9L615.2 216.9L615.3 203.5L615.5 208.1L615.6 208.4L615.8 213.0L615.9 211.2L616.1 215.3L616.2 208.5L616.4 206.4L616.5 212.3L616.7 202.6L616.8 212.6L617.0 210.5L617.1 207.7L617.3 209.5L617.4 212.8L617.6 211.8L617.7 207.9L617.9 209.2L618.1 210.9L618.2 209.2L618.4 210.2L618.5 213.2L618.7 208.2L618.8 206.8L619.0 215.5L619.1 203.7L619.3 212.5L619.4 213.6L619.6 204.6L619.7 212.2L619.9 211.6L620.0 215.6L620.2 213.9L620.3 208.0L620.5 211.2L620.6 213.3L620.8 216.0L621.0 213.4L621.1 213.5L621.3 205.2L621.4 212.1L621.6 209.6L621.7 211.2L621.9 203.9L622.0 212.3L622.2 215.8L622.3 212.6L622.5 208.6L622.6 215.2L622.8 209.9L622.9 202.2L623.1 203.5L623.2 211.7L623.4 207.9L623.5 214.5L623.7 208.4L623.9 210.4L624.0 210.9L624.2 210.4L624.3 204.8L624.5 205.2L624.6 210.5L624.8 205.5L624.9 206.9L625.1 209.6L625.2 206.1L625.4 209.1L625.5 211.6L625.7 210.3L625.8 207.6L626.0 202.7L626.1 208.8L626.3 210.7L626.4 208.9L626.6 210.8L626.8 213.4L626.9 205.4L627.1 204.5L627.2 210.4L627.4 209.4L627.5 205.9L627.7 209.4L627.8 205.4L628.0 211.0L628.1 205.0L628.3 210.0L628.4 205.0L628.6 206.3L628.7 207.1L628.9 207.2L629.0 207.9L629.2 204.0L629.3 208.2L629.5 202.5L629.7 211.0L629.8 207.3L630.0 206.5L630.1 206.6L630.3 200.3L630.4 204.8L630.6 201.7L630.7 203.9L630.9 201.3L631.0 209.0L631.2 208.9L631.3 201.5L631.5 207.3L631.6 206.9L631.8 206.5L631.9 205.0L632.1 201.8L632.2 210.5L632.4 207.5L632.6 200.1L632.7 208.3L632.9 206.7L633.0 203.2L633.2 211.6L633.3 202.7L633.5 209.4L633.6 196.5L633.8 202.5L633.9 204.8L634.1 207.1L634.2 206.8L634.4 205.0L634.5 205.9L634.7 204.6L634.8 204.9L635.0 202.8L635.1 199.9L635.3 202.7L635.5 206.8L635.6 208.9L635.8 199.9L635.9 205.8L636.1 206.5L636.2 207.9L636.4 207.6L636.5 202.1L636.7 203.9L636.8 207.9L637.0 202.9L637.1 208.5L637.3 199.5L637.4 210.4L637.6 202.8L637.7 197.7L637.9 205.9L638.0 208.9L638.2 205.1L638.4 205.9L638.5 200.5L638.7 204.1L638.8 200.9L639.0 208.2L639.1 203.3L639.3 205.5L639.4 204.9L639.6 195.7L639.7 209.9L639.9 207.9L640.0 206.7L640.2 201.3L640.3 201.8L640.5 208.6L640.6 200.1L640.8 202.4L640.9 207.1L641.1 204.6L641.3 197.8L641.4 204.6L641.6 201.7L641.7 205.2L641.9 211.2L642.0 205.2L642.2 208.7L642.3 198.1L642.5 204.0L642.6 206.5L642.8 203.4L642.9 197.8L643.1 198.8L643.2 202.2L643.4 200.5L643.5 205.5L643.7 206.5L643.8 201.2L644.0 197.5L644.2 196.4L644.3 202.0L644.5 197.4L644.6 200.6L644.8 198.8L644.9 201.6L645.1 201.7L645.2 200.0L645.4 207.5L645.5 205.9L645.7 200.3L645.8 199.4L646.0 200.1L646.1 202.5L646.3 195.0L646.4 201.0L646.6 198.3L646.7 198.9L646.9 193.3L647.1 194.5L647.2 198.5L647.4 198.5L647.5 196.8L647.7 197.5L647.8 196.2L648.0 198.6L648.1 194.3L648.3 202.6L648.4 196.3L648.6 198.6L648.7 198.1L648.9 198.7L649.0 193.7L649.2 198.1L649.3 200.6L649.5 198.0L649.6 199.7L649.8 201.5L650.0 201.9L650.1 194.2L650.3 203.0L650.4 196.9L650.6 193.6L650.7 90.3L650.9 83.8L651.0 90.7L651.2 87.4L651.3 93.2L651.5 91.1L651.6 93.8L651.8 90.6L651.9 91.8L652.1 90.5L652.2 87.2L652.4 90.8L652.5 91.4L652.7 96.9L652.9 93.5L653.0 89.4L653.2 94.0L653.3 89.9L653.5 94.8L653.6 95.1L653.8 91.2L653.9 96.0L654.1 93.0L654.2 97.5L654.4 94.6L654.5 92.1L654.7 97.4L654.8 94.3L655.0 95.9L655.1 97.0L655.3 93.5L655.4 95.1L655.6 100.3L655.8 96.3L655.9 96.2L656.1 98.0L656.2 98.8L656.4 95.2L656.5 98.4L656.7 92.3L656.8 95.5L657.0 94.0L657.1 100.0L657.3 100.3L657.4 94.4L657.6 97.2L657.7 105.4L657.9 97.1L658.0 95.9L658.2 101.0L658.3 99.3L658.5 94.8L658.7 94.9L658.8 97.7L659.0 102.5L659.1 99.2L659.3 101.7L659.4 102.4L659.6 102.9L659.7 101.1L659.9 95.0L660.0 102.0L660.2 101.6L660.3 99.8L660.5 98.1L660.6 98.7L660.8 102.9L660.9 100.0L661.1 99.6L661.2 98.1L661.4 100.5L661.6 100.2L661.7 100.2L661.9 100.2L662.0 103.6L662.2 104.6L662.3 100.3L662.5 98.4L662.6 100.8L662.8 98.5L662.9 102.2L663.1 101.8L663.2 102.6L663.4 102.1L663.5 97.1L663.7 99.3L663.8 103.3L664.0 102.2L664.1 101.6L664.3 99.6L664.5 98.6L664.6 99.3L664.8 101.8L664.9 101.2L665.1 105.1L665.2 104.3L665.4 103.9L665.5 100.1L665.7 98.3L665.8 98.6L666.0 100.8L666.1 104.2L666.3 104.9L666.4 101.5L666.6 102.6L666.7 102.7L666.9 103.7L667.0 103.3L667.2 101.1L667.4 103.3L667.5 100.5L667.7 108.8L667.8 106.2L668.0 102.8L668.1 104.2L668.3 105.4L668.4 104.3L668.6 106.1L668.7 100.2L668.9 101.9L669.0 103.8L669.2 106.8L669.3 104.6L669.5 106.0L669.6 108.3L669.8 103.0L669.9 108.6L670.1 106.3L670.3 104.5L670.4 106.3L670.6 108.8L670.7 104.0L670.9 108.2L671.0 106.5L671.2 107.9L671.3 108.7L671.5 111.7L671.6 109.0L671.8 103.3L671.9 109.3L672.1 102.5L672.2 103.9L672.4 108.4L672.5 110.3L672.7 106.7L672.8 104.7L673.0 107.2L673.2 110.1L673.3 108.5L673.5 109.8L673.6 107.7L673.8 107.4L673.9 108.9L674.1 112.0L674.2 110.1L674.4 111.1L674.5 112.5L674.7 110.7L674.8 106.4L675.0 108.0L675.1 111.3L675.3 104.8L675.4 106.1L675.6 106.1L675.7 110.9L675.9 110.3L676.1 111.9L676.2 117.0L676.4 117.8L676.5 106.5L676.7 116.0L676.8 108.3L677.0 113.2L677.1 114.0L677.3 109.9L677.4 111.7L677.6 109.6L677.7 115.6L677.9 110.5L678.0 109.6L678.2 112.0L678.3 113.5L678.5 111.4L678.6 114.8L678.8 109.5L679.0 110.4L679.1 112.5L679.3 114.3L679.4 111.2L679.6 110.3L679.7 110.8L679.9 115.0L680.0 114.4L680.2 117.0L680.3 111.1L680.5 111.4L680.6 107.9L680.8 115.7L680.9 112.1L681.1 118.0L681.2 111.3L681.4 111.7L681.5 112.4L681.7 112.2L681.9 111.4L682.0 115.0L682.2 114.2L682.3 114.3L682.5 117.2L682.6 113.1L682.8 113.3L682.9 113.5L683.1 116.6L683.2 116.4L683.4 118.0L683.5 111.3L683.7 116.1L683.8 114.8L684.0 117.2L684.1 112.5L684.3 114.6L684.4 112.2L684.6 109.1L684.8 113.1L684.9 113.5L685.1 112.9L685.2 113.6L685.4 112.6L685.5 114.3L685.7 108.7L685.8 118.8L686.0 113.6L686.1 111.2L686.3 112.8L686.4 115.2L686.6 120.4L686.7 120.0L686.9 121.0L687.0 116.9L687.2 113.9L687.3 118.0L687.5 113.6L687.7 112.8L687.8 117.0L688.0 116.0L688.1 119.2L688.3 111.2L688.4 119.1L688.6 118.2L688.7 119.3L688.9 114.2L689.0 116.7L689.2 113.7L689.3 117.8L689.5 119.4L689.6 118.8L689.8 112.7L689.9 117.3L690.1 112.1L690.2 120.5L690.4 121.5L690.6 119.8L690.7 120.5L690.9 118.8L691.0 118.8L691.2 118.8L691.3 122.6L691.5 116.9L691.6 116.1L691.8 120.4L691.9 122.9L692.1 117.0L692.2 114.0L692.4 117.4L692.5 117.0L692.7 121.6L692.8 115.9L693.0 118.2L693.1 114.6L693.3 119.1L693.5 119.1L693.6 115.4L693.8 119.0L693.9 124.3L694.1 116.1L694.2 114.9L694.4 118.2L694.5 116.9L694.7 120.0L694.8 117.9L695.0 114.2L695.1 124.1L695.3 119.1L695.4 120.0L695.6 122.2L695.7 115.8L695.9 120.2L696.0 118.1L696.2 114.5L696.4 119.4L696.5 118.0L696.7 121.4L696.8 121.1L697.0 122.9L697.1 118.1L697.3 120.6L697.4 119.3L697.6 117.5L697.7 117.2L697.9 119.7L698.0 121.8L698.2 125.5L698.3 117.5L698.5 126.7L698.6 122.7L698.8 125.7L698.9 128.0L699.1 123.6L699.3 121.8L699.4 125.0L699.6 118.1L699.7 115.3L699.9 117.4L700.0 121.8L700.2 119.4L700.3 116.9L700.5 119.7L700.6 123.4L700.8 118.8L700.9 120.9L701.1 120.3L701.2 124.0L701.4 122.4L701.5 122.5L701.7 124.2L701.8 119.8L702.0 120.1L702.2 124.3L702.3 117.4L702.5 118.9L702.6 116.7L702.8 125.7L702.9 126.6L703.1 122.7L703.2 121.1L703.4 121.2L703.5 122.2L703.7 118.3L703.8 120.5L704.0 121.0L704.1 122.7L704.3 124.6L704.4 125.2L704.6 121.1L704.7 125.1L704.9 121.6L705.1 127.4L705.2 124.8L705.4 122.0L705.5 116.9L705.7 122.7L705.8 122.2L706.0 126.1L706.1 127.0L706.3 123.0L706.4 124.0L706.6 118.2L706.7 130.2L706.9 129.4L707.0 117.0L707.2 126.4L707.3 122.9L707.5 120.2L707.6 129.6L707.8 122.7L708.0 126.6L708.1 125.9L708.3 122.4L708.4 122.6L708.6 128.0L708.7 128.2L708.9 127.2L709.0 122.5L709.2 125.4L709.3 124.8L709.5 123.4L709.6 125.5L709.8 125.7L709.9 124.9L710.1 127.3L710.2 125.4L710.4 124.3L710.5 127.3L710.7 122.9L710.9 119.4L711.0 123.9L711.2 127.8L711.3 127.4L711.5 128.1L711.6 124.2L711.8 126.1L711.9 119.8L712.1 124.0L712.2 121.9L712.4 126.5L712.5 128.6L712.7 127.4L712.8 126.8L713.0 126.9L713.1 124.9L713.3 128.2L713.5 125.0L713.6 123.5L713.8 127.2L713.9 127.2L714.1 121.8L714.2 124.3L714.4 123.2L714.5 130.2L714.7 123.0L714.8 125.8L715.0 127.8L715.1 121.0L715.3 118.1L715.4 129.5L715.6 126.7L715.7 125.1L715.9 129.5L716.0 131.5L716.2 125.7L716.4 124.0L716.5 124.5L716.7 130.3L716.8 128.7L717.0 127.7L717.1 128.1L717.3 132.6L717.4 121.3L717.6 124.9L717.7 128.3L717.9 130.1L718.0 126.8L718.2 130.2L718.3 125.5L718.5 130.5L718.6 123.4L718.8 122.7L718.9 128.1L719.1 125.0L719.3 128.3L719.4 130.7L719.6 119.8L719.7 124.8L719.9 126.7L720.0 124.8L720.2 127.5L720.3 126.8L720.5 125.9L720.6 127.0L720.8 127.1L720.9 129.6L721.1 126.4L721.2 122.9L721.4 125.4L721.5 130.5L721.7 125.8L721.8 128.3L722.0 125.5L722.2 134.2L722.3 128.2L722.5 128.4L722.6 127.9L722.8 128.2L722.9 126.0L723.1 126.3L723.2 130.0L723.4 128.8L723.5 115.3L723.7 126.5L723.8 131.2L724.0 129.6L724.1 128.7L724.3 126.9L724.4 132.4L724.6 134.4L724.7 132.1L724.9 128.4L725.1 134.1L725.2 127.8L725.4 127.3L725.5 131.9L725.7 128.9L725.8 128.4L726.0 127.5L726.1 132.1L726.3 128.1L726.4 132.4L726.6 128.4L726.7 127.0L726.9 137.7L727.0 130.5L727.2 132.8L727.3 133.2L727.5 128.3L727.6 128.5L727.8 128.2L728.0 129.3L728.1 132.1L728.3 132.7L728.4 128.1L728.6 130.0L728.7 126.6L728.9 126.6L729.0 131.5L729.2 128.6L729.3 124.1L729.5 125.1L729.6 127.9L729.8 134.9L729.9 124.9L730.1 128.3L730.2 131.5L730.4 122.5L730.5 130.8L730.7 128.8L730.9 132.1L731.0 128.8L731.2 131.5L731.3 131.9L731.5 127.8L731.6 130.8L731.8 129.3L731.9 133.3L732.1 130.4L732.2 130.4L732.4 132.5L732.5 128.4L732.7 128.7L732.8 129.4L733.0 128.0L733.1 128.7L733.3 126.4L733.4 130.9L733.6 132.5L733.8 125.6L733.9 126.1L734.1 128.2L734.2 126.1L734.4 131.7L734.5 127.8L734.7 134.2L734.8 129.3L735.0 128.5L735.1 131.9L735.3 128.5L735.4 131.6L735.6 127.2L735.7 132.8L735.9 126.1L736.0 129.8L736.2 130.0L736.3 132.3L736.5 134.4L736.7 131.3L736.8 132.2L737.0 133.3L737.1 126.7L737.3 124.5L737.4 131.2L737.6 129.3L737.7 132.2L737.9 129.1L738.0 129.4L738.2 130.8L738.3 132.6L738.5 130.7L738.6 132.9L738.8 132.6L738.9 132.2L739.1 132.7L739.2 129.7L739.4 131.6L739.6 130.2L739.7 134.5L739.9 128.7L740.0 136.3L740.2 132.6L740.3 128.0L740.5 130.6L740.6 133.8L740.8 135.7L740.9 130.4L741.1 130.0L741.2 133.8L741.4 129.8L741.5 126.6L741.7 128.6L741.8 132.2L742.0 126.5L742.1 122.9L742.3 127.9L742.5 130.8L742.6 130.1L742.8 131.7L742.9 131.6L743.1 134.6L743.2 135.5L743.4 133.1L743.5 129.2L743.7 125.1L743.8 128.1L744.0 131.2L744.1 132.3L744.3 129.6L744.4 136.0L744.6 136.6L744.7 133.3L744.9 131.9L745.0 133.4L745.2 134.8L745.4 135.8L745.5 132.0L745.7 129.3L745.8 133.5L746.0 132.6L746.1 130.7L746.3 137.4L746.4 128.8L746.6 135.8L746.7 132.9L746.9 138.6L747.0 131.6L747.2 131.2L747.3 141.3L747.5 132.4L747.6 128.4L747.8 136.4L747.9 131.6L748.1 134.5L748.3 132.8L748.4 131.4L748.6 127.3L748.7 131.4L748.9 133.0L749.0 132.4L749.2 137.0L749.3 129.7L749.5 137.6L749.6 135.0L749.8 134.5L749.9 132.3L750.1 134.8L750.2 124.9L750.4 132.2L750.5 127.6L750.7 134.8L750.8 130.4L751.0 128.1L751.2 134.2L751.3 131.6L751.5 130.5L751.6 127.0L751.8 133.6L751.9 133.0L752.1 135.8L752.2 135.5L752.4 132.2L752.5 131.2L752.7 134.9L752.8 127.0L753.0 126.9L753.1 133.5L753.3 134.7L753.4 125.5L753.6 129.4L753.7 131.5L753.9 130.7L754.1 130.5L754.2 132.0L754.4 130.5L754.5 133.3L754.7 128.7L754.8 132.7L755.0 127.7L755.1 132.8L755.3 129.2L755.4 130.9L755.6 133.4L755.7 131.5L755.9 133.3L756.0 133.4L756.2 130.1L756.3 128.4L756.5 135.9L756.6 131.1L756.8 135.7L757.0 125.3L757.1 132.9L757.3 131.7L757.4 131.9L757.6 131.9L757.7 137.5L757.9 132.8L758.0 129.6L758.2 133.0L758.3 134.9L758.5 126.7L758.6 129.9L758.8 133.4L758.9 131.6L759.1 130.2L759.2 137.2L759.4 131.5L759.5 129.9L759.7 127.6L759.9 128.5L760.0 135.3L760.2 135.4L760.3 133.3L760.5 133.2L760.6 131.7L760.8 137.0L760.9 134.0L761.1 132.9L761.2 133.5L761.4 126.0L761.5 130.9L761.7 133.0L761.8 130.6L762.0 131.4L762.1 133.2L762.3 133.2L762.4 138.9L762.6 128.1L762.8 135.6L762.9 135.1L763.1 132.2L763.2 128.5L763.4 132.9L763.5 135.5L763.7 132.5L763.8 135.8L764.0 135.5L764.1 131.3L764.3 135.9L764.4 131.4L764.6 130.6L764.7 133.3L764.9 135.0L765.0 131.7L765.2 136.9L765.3 132.3L765.5 210.2L765.7 212.7L765.8 212.6L766.0 215.5L766.1 216.3L766.3 212.4L766.4 216.3L766.6 223.8L766.7 220.5L766.9 218.5L767.0 214.6L767.2 218.3L767.3 220.5L767.5 216.6L767.6 217.9L767.8 215.4L767.9 219.6L768.1 218.0L768.2 214.9L768.4 217.0L768.6 222.3L768.7 220.5L768.9 213.6L769.0 216.6L769.2 213.7L769.3 217.3L769.5 216.6L769.6 210.5L769.8 210.3L769.9 215.9L770.1 213.2L770.2 211.3L770.4 212.6L770.5 207.8L770.7 205.9L770.8 212.8L771.0 214.8L771.1 212.4L771.3 212.4L771.5 211.6L771.6 209.3L771.8 212.2L771.9 211.5L772.1 213.3L772.2 212.5L772.4 208.9L772.5 207.7L772.7 213.6L772.8 205.8L773.0 210.8L773.1 209.0L773.3 212.0L773.4 211.7L773.6 211.9L773.7 210.3L773.9 212.6L774.0 210.2L774.2 210.3L774.4 213.3L774.5 211.9L774.7 213.4L774.8 209.3L775.0 208.6L775.1 207.4L775.3 211.9L775.4 209.8L775.6 209.2L775.7 207.8L775.9 209.8L776.0 215.1L776.2 208.9L776.3 205.2L776.5 209.3L776.6 210.2L776.8 215.1L776.9 218.5L777.1 211.3L777.3 213.1L777.4 208.1L777.6 207.8L777.7 207.4L777.9 214.0L778.0 211.5L778.2 214.4L778.3 212.8L778.5 206.8L778.6 216.5L778.8 207.4L778.9 204.8L779.1 207.2L779.2 204.9L779.4 211.7L779.5 210.2L779.7 208.1L779.8 214.1L780.0 210.3L780.2 214.8L780.3 213.8L780.5 213.2L780.6 211.1L780.8 213.3L780.9 211.3L781.1 212.9L781.2 213.5L781.4 207.8L781.5 210.5L781.7 209.1L781.8 211.8L782.0 200.7L782.1 211.4L782.3 209.9L782.4 209.0L782.6 199.0L782.7 205.3L782.9 208.6L783.1 205.7L783.2 213.1L783.4 204.6L783.5 208.2L783.7 201.5L783.8 207.7L784.0 211.3L784.1 207.7L784.3 209.4L784.4 212.3L784.6 200.8L784.7 207.8L784.9 207.1L785.0 203.1L785.2 208.4L785.3 207.4L785.5 202.5L785.6 210.0L785.8 208.2L786.0 207.8L786.1 210.4L786.3 207.1L786.4 201.1L786.6 213.4L786.7 205.1L786.9 203.7L787.0 203.0L787.2 208.9L787.3 209.4L787.5 204.8L787.6 205.3L787.8 209.7L787.9 204.6L788.1 212.2L788.2 202.4L788.4 205.6L788.5 204.5L788.7 206.7L788.9 206.1L789.0 209.5L789.2 198.8L789.3 208.0L789.5 204.9L789.6 207.3L789.8 206.7L789.9 202.4L790.1 204.4L790.2 206.9L790.4 207.7L790.5 209.9L790.7 205.9L790.8 216.5L791.0 206.3L791.1 207.1L791.3 210.2L791.4 203.5L791.6 210.1L791.8 205.5L791.9 209.3L792.1 206.0L792.2 203.4L792.4 211.2L792.5 211.7L792.7 205.6L792.8 209.1L793.0 204.4L793.1 204.9L793.3 211.6L793.4 196.5L793.6 207.8L793.7 207.5L793.9 213.1L794.0 206.1L794.2 203.2L794.3 205.0L794.5 205.1L794.7 212.9L794.8 199.9L795.0 210.2L795.1 209.7L795.3 198.4L795.4 204.7L795.6 208.5L795.7 208.3L795.9 199.6L796.0 202.5L796.2 199.9L796.3 208.1L796.5 206.7L796.6 207.1L796.8 202.4L796.9 200.8L797.1 199.4L797.2 203.7L797.4 206.0L797.6 206.9L797.7 197.0L797.9 206.9L798.0 207.0L798.2 204.7L798.3 194.1L798.5 205.7L798.6 207.3L798.8 197.6L798.9 205.3L799.1 198.5L799.2 199.8L799.4 204.3L799.5 199.5L799.7 197.0L799.8 200.8L800.0 206.5L800.1 194.7L800.3 200.4L800.5 204.3L800.6 197.5L800.8 200.4L800.9 202.2L801.1 201.8L801.2 198.6L801.4 200.3L801.5 201.7L801.7 196.9L801.8 199.3L802.0 195.4L802.1 205.7L802.3 201.5L802.4 203.9L802.6 191.6L802.7 199.0L802.9 197.7L803.0 195.9L803.2 205.2L803.4 196.7L803.5 194.6L803.7 203.2L803.8 201.2L804.0 200.7L804.1 194.5L804.3 198.3L804.4 197.7L804.6 199.4L804.7 194.8L804.9 202.6L805.0 201.7L805.2 199.2L805.3 200.3L805.5 195.9L805.6 205.5L805.8 202.2L805.9 194.7L806.1 199.8L806.3 202.7L806.4 199.4L806.6 199.1L806.7 195.8L806.9 202.1L807.0 198.6L807.2 202.8L807.3 201.8L807.5 200.4L807.6 204.9L807.8 198.3L807.9 203.3L808.1 201.3L808.2 198.4L808.4 198.6L808.5 192.6L808.7 197.2L808.8 201.6L809.0 196.0L809.2 202.5L809.3 199.5L809.5 193.8L809.6 202.5L809.8 194.8L809.9 201.3L810.1 197.4L810.2 197.3L810.4 197.7L810.5 195.1L810.7 195.9L810.8 197.1L811.0 195.3L811.1 193.4L811.3 196.6L811.4 196.0L811.6 200.7L811.7 190.1L811.9 196.3L812.1 197.1L812.2 202.1L812.4 199.1L812.5 193.1L812.7 194.1L812.8 194.9L813.0 199.3L813.1 201.1L813.3 197.4L813.4 198.0L813.6 192.5L813.7 191.5L813.9 198.2L814.0 193.7L814.2 201.9L814.3 190.0L814.5 195.7L814.6 191.2L814.8 187.3L815.0 189.0L815.1 195.8L815.3 189.8L815.4 191.7L815.6 186.4L815.7 191.6L815.9 187.9L816.0 197.6L816.2 193.1L816.3 184.6L816.5 187.7L816.6 194.8L816.8 189.3L816.9 187.0L817.1 185.2L817.2 198.3L817.4 192.4L817.5 193.7L817.7 196.3L817.9 189.5L818.0 191.3L818.2 194.9L818.3 188.6L818.5 197.8L818.6 188.5L818.8 194.5L818.9 192.5L819.1 196.8L819.2 191.3L819.4 194.1L819.5 192.7L819.7 198.5L819.8 194.7L820.0 190.0L820.1 196.6L820.3 189.2L820.5 188.3L820.6 194.0L820.8 194.1L820.9 200.3L821.1 194.6L821.2 192.9L821.4 196.9L821.5 196.3L821.7 190.0L821.8 197.8L822.0 196.2L822.1 195.2L822.3 199.2L822.4 199.2L822.6 193.1L822.7 194.6L822.9 196.2L823.0 200.6L823.2 184.7L823.4 195.1L823.5 184.4L823.7 197.8L823.8 194.4L824.0 195.9L824.1 190.2L824.3 191.0L824.4 193.8L824.6 193.7L824.7 194.1L824.9 191.6L825.0 192.2L825.2 192.5L825.3 188.7L825.5 191.0L825.6 188.0L825.8 190.8L825.9 190.8L826.1 190.4L826.3 193.9L826.4 197.6L826.6 197.9L826.7 192.0L826.9 186.8L827.0 192.2L827.2 191.5L827.3 194.0L827.5 192.8L827.6 188.4L827.8 194.3L827.9 186.9L828.1 190.7L828.2 181.3L828.4 189.4L828.5 187.0L828.7 192.9L828.8 187.4L829.0 182.3L829.2 187.5L829.3 188.9L829.5 191.3L829.6 196.3L829.8 192.9L829.9 190.4L830.1 190.9L830.2 187.7L830.4 190.3L830.5 187.8L830.7 195.0L830.8 193.6L831.0 192.0L831.1 186.2L831.3 197.0L831.4 189.7L831.6 191.1L831.7 192.4L831.9 192.9L832.1 189.3L832.2 187.9L832.4 186.7L832.5 193.3L832.7 186.9L832.8 186.0L833.0 188.9L833.1 193.8L833.3 186.5L833.4 185.7L833.6 193.4L833.7 188.7L833.9 195.8L834.0 183.9L834.2 190.5L834.3 196.5L834.5 193.5L834.6 193.1L834.8 192.7L835.0 189.0L835.1 184.9L835.3 192.4L835.4 188.2L835.6 186.7L835.7 185.5L835.9 189.6L836.0 191.9L836.2 194.3L836.3 188.4L836.5 191.3L836.6 186.4L836.8 187.4L836.9 192.8L837.1 187.4L837.2 185.8L837.4 192.1L837.5 189.7L837.7 191.5L837.9 188.4L838.0 188.3L838.2 187.4L838.3 185.0L838.5 186.5L838.6 189.8L838.8 189.6L838.9 190.0L839.1 188.0L839.2 176.9L839.4 189.8L839.5 190.2L839.7 187.8L839.8 185.6L840.0 181.5L840.1 189.7L840.3 193.3L840.4 185.6L840.6 186.1L840.8 184.0L840.9 184.8L841.1 180.8L841.2 185.6L841.4 186.7L841.5 182.9L841.7 185.9L841.8 181.5L842.0 184.6L842.1 181.1L842.3 187.3L842.4 184.7L842.6 186.8L842.7 181.4L842.9 171.3L843.0 179.9L843.2 181.5L843.3 181.8L843.5 190.6L843.7 183.0L843.8 177.7L844.0 184.8L844.1 182.7L844.3 188.7L844.4 181.5L844.6 186.9L844.7 181.3L844.9 182.3L845.0 183.1L845.2 183.9L845.3 179.1L845.5 186.7L845.6 185.5L845.8 181.4L845.9 181.3L846.1 181.6L846.2 178.6L846.4 186.8L846.6 181.3L846.7 191.6L846.9 185.0L847.0 174.3L847.2 190.8L847.3 182.1L847.5 180.8L847.6 187.9L847.8 179.2L847.9 179.0L848.1 192.9L848.2 188.2L848.4 182.3L848.5 184.9L848.7 183.5L848.8 189.2L849.0 192.7L849.1 190.8L849.3 183.4L849.5 183.7L849.6 184.7L849.8 177.9L849.9 191.4L850.1 185.9L850.2 192.6L850.4 186.0L850.5 186.0L850.7 183.8L850.8 187.2L851.0 194.0L851.1 186.2L851.3 185.8L851.4 188.3L851.6 188.2L851.7 179.8L851.9 183.7L852.0 188.7L852.2 182.7L852.4 188.1L852.5 188.2L852.7 188.2L852.8 184.7L853.0 183.7L853.1 189.3L853.3 186.3L853.4 186.9L853.6 181.4L853.7 186.6L853.9 184.3L854.0 181.9L854.2 185.2L854.3 186.5L854.5 184.4L854.6 50.3L854.8 51.0L854.9 47.3L855.1 48.7L855.3 48.0L855.4 41.5L855.6 47.6L855.7 49.4L855.9 50.1L856.0 51.5L856.2 49.3L856.3 53.5L856.5 49.8L856.6 50.4L856.8 47.9L856.9 50.5L857.1 46.3L857.2 52.9L857.4 49.8L857.5 52.7L857.7 53.4L857.8 49.5L858.0 50.3L858.2 50.9L858.3 47.7L858.5 56.3L858.6 50.9L858.8 49.9L858.9 54.0L859.1 52.6L859.2 51.5L859.4 55.5L859.5 52.6L859.7 49.2L859.8 51.0L860.0 50.5L860.1 56.8L860.3 51.1L860.4 59.0L860.6 56.6L860.7 56.2L860.9 54.5L861.1 54.6L861.2 57.8L861.4 54.3L861.5 58.9L861.7 58.7L861.8 54.6L862.0 54.4L862.1 57.2L862.3 58.6L862.4 52.4L862.6 54.4L862.7 58.8L862.9 55.1L863.0 54.0L863.2 55.0L863.3 56.6L863.5 60.6L863.6 59.5L863.8 59.5L864.0 59.5L864.1 58.6L864.3 59.6L864.4 59.3L864.6 61.1L864.7 57.8L864.9 62.0L865.0 61.9L865.2 64.5L865.3 59.1L865.5 61.5L865.6 65.5L865.8 58.0L865.9 61.7L866.1 61.9L866.2 61.5L866.4 59.0L866.5 66.5L866.7 65.2L866.9 63.7L867.0 65.8L867.2 64.0L867.3 62.2L867.5 53.2L867.6 63.4L867.8 69.7L867.9 65.7L868.1 63.8L868.2 67.5L868.4 65.9L868.5 61.7L868.7 69.0L868.8 66.7L869.0 65.5L869.1 66.7L869.3 67.3L869.4 68.8L869.6 64.7L869.8 66.4L869.9 65.4L870.1 66.7L870.2 69.2L870.4 68.2L870.5 70.3L870.7 67.4L870.8 74.0L871.0 69.1L871.1 66.0L871.3 66.4L871.4 64.1L871.6 69.9L871.7 70.2L871.9 72.4L872.0 71.1L872.2 75.9L872.3 73.7L872.5 72.6L872.7 71.1L872.8 72.1L873.0 74.1L873.1 74.5L873.3 74.5L873.4 71.1L873.6 74.8L873.7 73.0L873.9 71.0L874.0 69.1L874.2 75.4L874.3 75.2L874.5 75.1L874.6 73.1L874.8 79.6L874.9 72.4L875.1 71.9L875.2 75.0L875.4 78.3L875.6 75.7L875.7 72.0L875.9 71.3L876.0 76.6L876.2 71.5L876.3 72.3L876.5 75.4L876.6 75.2L876.8 75.5L876.9 74.6L877.1 73.3L877.2 76.0L877.4 79.0L877.5 76.6L877.7 72.9L877.8 80.6L878.0 82.1L878.1 75.3L878.3 76.3L878.5 73.5L878.6 81.3L878.8 76.8L878.9 82.0L879.1 72.7L879.2 76.0L879.4 78.9L879.5 76.1L879.7 80.7L879.8 77.3L880.0 72.9L880.1 76.9L880.3 81.9L880.4 79.9L880.6 85.9L880.7 78.5L880.9 81.9L881.0 82.3L881.2 81.4L881.4 78.0L881.5 86.7L881.7 80.7L881.8 84.3L882.0 82.9L882.1 78.4L882.3 80.2L882.4 83.8L882.6 77.2L882.7 78.3L882.9 83.1L883.0 80.4L883.2 81.8L883.3 83.6L883.5 80.8L883.6 80.5L883.8 82.4L883.9 82.4L884.1 81.5L884.3 82.8L884.4 79.6L884.6 85.3L884.7 80.8L884.9 86.7L885.0 79.8L885.2 85.8L885.3 83.8L885.5 84.6L885.6 81.3L885.8 85.1L885.9 84.1L886.1 82.9L886.2 88.4L886.4 83.5L886.5 80.2L886.7 86.2L886.8 84.0L887.0 88.0L887.2 88.6L887.3 86.8L887.5 81.9L887.6 86.3L887.8 90.4L887.9 86.1L888.1 84.2L888.2 91.2L888.4 84.9L888.5 85.3L888.7 88.0L888.8 89.8L889.0 84.1L889.1 84.7L889.3 84.7L889.4 91.9L889.6 89.0L889.7 86.9L889.9 91.6L890.1 85.8L890.2 95.3L890.4 87.2L890.5 91.0L890.7 91.2L890.8 88.0L891.0 91.6L891.1 93.7L891.3 89.0L891.4 89.1L891.6 94.5L891.7 88.6L891.9 83.3L892.0 89.0L892.2 93.4L892.3 90.3L892.5 91.5L892.6 91.0L892.8 92.0L893.0 97.3L893.1 87.5L893.3 89.5L893.4 86.8L893.6 90.4L893.7 90.7L893.9 91.3L894.0 92.0L894.2 93.4L894.3 89.9L894.5 96.7L894.6 92.2L894.8 94.5L894.9 92.0L895.1 94.7L895.2 93.6L895.4 92.8L895.5 94.6L895.7 87.8L895.9 95.9L896.0 93.8L896.2 96.3L896.3 91.5L896.5 98.7L896.6 98.7L896.8 94.4L896.9 95.2L897.1 96.1L897.2 92.2L897.4 99.0L897.5 100.8L897.7 96.7L897.8 98.0L898.0 94.1L898.1 91.1L898.3 95.3L898.4 94.3L898.6 96.5L898.8 92.1L898.9 94.6L899.1 92.2L899.2 102.3L899.4 95.8L899.5 95.9L899.7 93.1L899.8 97.3L900.0 98.7L900.1 96.9L900.3 95.2L900.4 92.8L900.6 102.6L900.7 96.0L900.9 93.0L901.0 97.8L901.2 96.2L901.3 98.5L901.5 95.9L901.7 98.8L901.8 99.6L902.0 100.4L902.1 99.3L902.3 99.2L902.4 100.6L902.6 100.8L902.7 102.1L902.9 99.4L903.0 99.1L903.2 100.4L903.3 98.9L903.5 103.0L903.6 96.8L903.8 102.8L903.9 98.6L904.1 101.7L904.2 99.0L904.4 97.3L904.6 93.3L904.7 100.8L904.9 100.0L905.0 101.1L905.2 99.0L905.3 100.4L905.5 96.8L905.6 100.5L905.8 97.5L905.9 97.0L906.1 103.1L906.2 99.2L906.4 99.1L906.5 100.2L906.7 99.7L906.8 99.8L907.0 107.5L907.1 101.0L907.3 98.5L907.5 101.1L907.6 101.8L907.8 102.5L907.9 101.7L908.1 98.7L908.2 98.6L908.4 96.6L908.5 104.9L908.7 102.7L908.8 105.1L909.0 104.6L909.1 104.8L909.3 103.9L909.4 97.7L909.6 102.4L909.7 103.5L909.9 104.3L910.0 105.6L910.2 102.0L910.4 108.4L910.5 105.3L910.7 104.0L910.8 101.4L911.0 103.1L911.1 103.5L911.3 104.2L911.4 101.7L911.6 100.5L911.7 103.7L911.9 105.0L912.0 110.9L912.2 103.9L912.3 105.0L912.5 99.8L912.6 105.2L912.8 109.6L912.9 106.4L913.1 100.6L913.3 106.1L913.4 103.1L913.6 100.9L913.7 103.5L913.9 101.8L914.0 104.5L914.2 107.1L914.3 105.7L914.5 107.4L914.6 104.6L914.8 105.9L914.9 105.7L915.1 107.9L915.2 107.7L915.4 104.6L915.5 105.6L915.7 100.6L915.8 103.0L916.0 106.3L916.2 104.4L916.3 107.1L916.5 107.5L916.6 104.1L916.8 113.2L916.9 108.7L917.1 108.7L917.2 107.3L917.4 110.7L917.5 114.3L917.7 107.4L917.8 109.4L918.0 108.9L918.1 107.8L918.3 107.2L918.4 107.8L918.6 109.2L918.7 109.3L918.9 101.4L919.1 113.0L919.2 108.4L919.4 106.7L919.5 106.6L919.7 108.5L919.8 108.3L920.0 108.0L920.1 107.5L920.3 107.8L920.4 106.7L920.6 108.9L920.7 112.9L920.9 112.1L921.0 107.9L921.2 111.9L921.3 111.4L921.5 112.4L921.6 112.5L921.8 108.2L922.0 104.0L922.1 109.5L922.3 107.3L922.4 105.3L922.6 110.7L922.7 107.7L922.9 114.1L923.0 109.7L923.2 110.1L923.3 108.5L923.5 110.0L923.6 109.6L923.8 106.2L923.9 107.0L924.1 107.1L924.2 117.9L924.4 111.3L924.5 111.1L924.7 116.4L924.9 108.5L925.0 112.3L925.2 106.1L925.3 110.4L925.5 108.8L925.6 111.4L925.8 110.9L925.9 108.8L926.1 112.6L926.2 114.4L926.4 110.8L926.5 109.9L926.7 113.7L926.8 110.6L927.0 110.8L927.1 110.9L927.3 114.6L927.5 108.7L927.6 113.5L927.8 111.1L927.9 112.4L928.1 105.1L928.2 110.0L928.4 109.1L928.5 106.7L928.7 113.1L928.8 108.9L929.0 115.0L929.1 114.1L929.3 107.5L929.4 112.6L929.6 113.0L929.7 109.4L929.9 108.8L930.0 114.8L930.2 111.6L930.4 111.3L930.5 115.6L930.7 111.4L930.8 113.4L931.0 112.3L931.1 110.8L931.3 108.9L931.4 112.3L931.6 109.9L931.7 108.8L931.9 107.7L932.0 112.3L932.2 115.4L932.3 112.7L932.5 115.9L932.6 119.5L932.8 112.8L932.9 113.9L933.1 117.5L933.3 115.5L933.4 113.9L933.6 112.9L933.7 113.4L933.9 117.4L934.0 114.0L934.2 113.7L934.3 118.1L934.5 113.3L934.6 119.9L934.8 115.4L934.9 114.6L935.1 113.9L935.2 113.7L935.4 113.6L935.5 114.1L935.7 118.7L935.8 118.1L936.0 120.5L936.2 117.3L936.3 115.2L936.5 118.8L936.6 113.0L936.8 115.0L936.9 114.8L937.1 124.3L937.2 113.6L937.4 113.5L937.5 118.4L937.7 115.8L937.8 117.8L938.0 114.7L938.1 118.9L938.3 116.1L938.4 116.4L938.6 120.6L938.7 115.3L938.9 116.0L939.1 118.4L939.2 121.2L939.4 117.6L939.5 119.9L939.7 117.1L939.8 115.4L940.0 121.1L940.1 118.6L940.3 110.8L940.4 114.6L940.6 117.9L940.7 118.3L940.9 114.3L941.0 116.6L941.2 117.4L941.3 117.6L941.5 118.8L941.6 118.1L941.8 116.6L942.0 117.4L942.1 114.7L942.3 118.7L942.4 113.3L942.6 115.4L942.7 116.4L942.9 119.5L943.0 112.8L943.2 118.1L943.3 118.3L943.5 109.5L943.6 121.1L943.8 119.6L943.9 116.0L944.1 117.6L944.2 114.6L944.4 114.5L944.5 115.4L944.7 114.1L944.9 118.1L945.0 119.2L945.2 116.0L945.3 115.7L945.5 119.5L945.6 113.7L945.8 115.6L945.9 123.9L946.1 119.0L946.2 120.4L946.4 113.1L946.5 120.2L946.7 119.3L946.8 120.0L947.0 123.3L947.1 121.2L947.3 116.7L947.4 115.4L947.6 121.1L947.8 116.7L947.9 123.5L948.1 116.2L948.2 118.6L948.4 121.1L948.5 117.0L948.7 121.1L948.8 116.6L949.0 119.6L949.1 121.4L949.3 123.8L949.4 122.8L949.6 117.0L949.7 121.4L949.9 121.1L950.0 119.5L950.2 117.5L950.3 119.3L950.5 124.5L950.7 124.8L950.8 120.1L951.0 118.0L951.1 122.6L951.3 118.2L951.4 130.0L951.6 125.0L951.7 125.0L951.9 116.6L952.0 118.8L952.2 119.2L952.3 122.1L952.5 118.8L952.6 118.3L952.8 117.5L952.9 117.7L953.1 126.8L953.2 122.2L953.4 118.0L953.6 122.9L953.7 115.3L953.9 120.7L954.0 120.2L954.2 122.9L954.3 118.8L954.5 113.6L954.6 120.4L954.8 122.3L954.9 123.7L955.1 124.5L955.2 118.4L955.4 119.8L955.5 123.0L955.7 117.5L955.8 121.3L956.0 122.9L956.1 123.1L956.3 119.9L956.5 121.3L956.6 118.6L956.8 119.4L956.9 118.8L957.1 118.6L957.2 117.6L957.4 118.6L957.5 123.2L957.7 124.4L957.8 122.3L958.0 117.4L958.1 121.2L958.3 124.9L958.4 120.3L958.6 118.9L958.7 125.0L958.9 127.2L959.0 120.4L959.2 120.8L959.4 121.5L959.5 121.0L959.7 118.3L959.8 120.6L960.0 122.7L960.1 124.8L960.3 121.2L960.4 123.7L960.6 120.6L960.7 122.9L960.9 118.7L961.0 127.3L961.2 123.8L961.3 120.2L961.5 122.4L961.6 126.1L961.8 123.2L961.9 122.2L962.1 122.1L962.3 126.0L962.4 122.2L962.6 122.2L962.7 119.6L962.9 125.0L963.0 121.5L963.2 129.1L963.3 116.6L963.5 123.3L963.6 114.7L963.8 120.5L963.9 122.0L964.1 127.0L964.2 122.4L964.4 124.3L964.5 122.7L964.7 120.4L964.8 115.7L965.0 124.2L965.2 118.6L965.3 117.4L965.5 118.8L965.6 131.6L965.8 120.9L965.9 127.0L966.1 124.7L966.2 122.8L966.4 126.4L966.5 124.6L966.7 120.6L966.8 208.7L967.0 211.4L967.1 213.4L967.3 207.5L967.4 207.6L967.6 211.1L967.7 208.9L967.9 222.1L968.1 222.5L968.2 220.3L968.4 220.8L968.5 221.2L968.7 218.4L968.8 223.0L969.0 220.6L969.1 219.5L969.3 220.1L969.4 213.0L969.6 220.2L969.7 221.3L969.9 220.5L970.0 211.4L970.2 215.1L970.3 217.8L970.5 220.7L970.6 211.7L970.8 212.0L971.0 213.7L971.1 221.2L971.3 215.8L971.4 215.2L971.6 220.3L971.7 212.7L971.9 216.6L972.0 218.6L972.2 216.9L972.3 216.9L972.5 219.3L972.6 217.8L972.8 220.2L972.9 218.3L973.1 218.9L973.2 214.4L973.4 216.0L973.5 216.3L973.7 210.3L973.9 218.1L974.0 212.2L974.2 215.2L974.3 218.1L974.5 220.5L974.6 221.6L974.8 213.5L974.9 220.4L975.1 212.7L975.2 217.7L975.4 220.5L975.5 217.3L975.7 215.3L975.8 222.4L976.0 220.0L976.1 215.0L976.3 217.1L976.4 218.1L976.6 223.4L976.8 217.4L976.9 219.3L977.1 216.5L977.2 217.1L977.4 216.5L977.5 219.9L977.7 219.1L977.8 215.8L978.0 225.3L978.1 216.8L978.3 214.4L978.4 220.0L978.6 217.8L978.7 219.7L978.9 215.1L979.0 214.1L979.2 220.5L979.3 221.6L979.5 220.7L979.7 219.9L979.8 213.0L980.0 215.0L980.1 223.1L980.3 215.5L980.4 220.3L980.6 212.4L980.7 210.5L980.9 218.3L981.0 212.9L981.2 210.4L981.3 219.1L981.5 216.9L981.6 218.0L981.8 216.5L981.9 214.0L982.1 208.7L982.2 208.4L982.4 209.8L982.6 214.7L982.7 212.9L982.9 220.5L983.0 209.4L983.2 213.1L983.3 208.3L983.5 206.9L983.6 208.6L983.8 212.9L983.9 207.6L984.1 215.5L984.2 206.8L984.4 208.2L984.5 209.8L984.7 207.6L984.8 208.4L985.0 211.8L985.1 211.5L985.3 204.1L985.5 210.6L985.6 206.2L985.8 211.8L985.9 211.5L986.1 203.1L986.2 209.2L986.4 210.2L986.5 224.9L986.7 208.7L986.8 206.3L987.0 206.6L987.1 210.1L987.3 204.8L987.4 203.3L987.6 208.4L987.7 212.0L987.9 212.7L988.0 206.5L988.2 211.5L988.4 205.0L988.5 217.8L988.7 209.1L988.8 205.4L989.0 210.9L989.1 205.6L989.3 213.3L989.4 204.4L989.6 204.4L989.7 208.4L989.9 209.5L990.0 207.2L990.2 211.7L990.3 214.1L990.5 204.8L990.6 207.5L990.8 207.3L990.9 206.4L991.1 212.4L991.3 207.1L991.4 212.4L991.6 211.9L991.7 210.5L991.9 207.6L992.0 208.0L992.2 210.5L992.3 210.3L992.5 211.5L992.6 209.8L992.8 207.8L992.9 207.5L993.1 205.2L993.2 208.6L993.4 206.9L993.5 211.9L993.7 210.3L993.8 212.3L994.0 208.3L994.2 205.2L994.3 213.2L994.5 206.4L994.6 206.2L994.8 205.1L994.9 212.3L995.1 209.0L995.2 209.7L995.4 209.9L995.5 209.4L995.7 210.1L995.8 216.5L996.0 210.7L996.1 205.3L996.3 203.3L996.4 209.8L996.6 211.5L996.7 205.6L996.9 206.1L997.1 208.3L997.2 211.7L997.4 210.0L997.5 205.9L997.7 204.4L997.8 207.5L998.0 202.4L998.1 196.5L998.3 203.6L998.4 206.0L998.6 210.9L998.7 203.4L998.9 203.2L999.0 206.8L999.2 207.6L999.3 206.7L999.5 208.4L999.6 199.5L999.8 203.0L1000.0 206.0L1000.1 206.0L1000.3 203.3L1000.4 204.3L1000.6 203.8L1000.7 205.0L1000.9 208.6L1001.0 202.3L1001.2 206.7L1001.3 202.8L1001.5 201.7L1001.6 213.2L1001.8 204.3L1001.9 208.1L1002.1 206.4L1002.2 205.1L1002.4 206.9L1002.5 209.1L1002.7 199.1L1002.9 204.4L1003.0 197.9L1003.2 209.4" fill="none" stroke="#ff0000" stroke-width="1.7" stroke-linejoin="round"/>
<path d="M606.9 249.6L606.9 223.1L608.0 222.5L609.2 222.0L610.3 221.5L611.5 221.0L612.6 220.4L613.7 219.9L614.9 219.4L616.0 218.9L617.2 218.3L618.3 217.8L619.5 217.3L620.6 216.7L621.8 216.2L622.9 215.7L624.1 215.2L625.2 214.6L626.4 214.1L627.5 213.6L628.7 213.1L629.8 212.5L631.0 212.0L632.1 211.5L633.3 211.0L634.4 210.4L635.6 209.9L636.7 209.4L637.9 208.8L639.0 208.3L640.2 207.8L641.3 207.3L642.5 206.7L643.6 206.2L644.8 205.7L645.9 205.2L647.1 204.6L648.2 204.1L649.4 203.6L650.5 203.1L651.7 202.5L651.7 93.6L654.6 96.1L657.6 98.4L660.5 100.7L663.4 102.8L666.4 104.9L669.3 106.8L672.3 108.7L675.2 110.5L678.2 112.2L681.1 113.8L684.0 115.4L687.0 116.8L689.9 118.3L692.9 119.6L695.8 120.9L698.8 122.1L701.7 123.3L704.6 124.4L707.6 125.5L710.5 126.5L713.5 127.5L716.4 128.4L719.4 129.3L722.3 130.1L725.2 130.9L728.2 131.7L731.1 132.4L734.1 133.1L737.0 133.8L740.0 134.4L742.9 135.0L745.8 135.6L748.8 136.2L751.7 136.7L754.7 137.2L757.6 137.7L760.6 138.2L763.5 138.6L766.4 139.0L766.4 218.8L768.7 217.6L771.0 216.3L773.3 215.1L775.6 213.9L777.9 212.7L780.2 211.6L782.5 210.4L784.7 209.3L787.0 208.2L789.3 207.1L791.6 206.0L793.9 204.9L796.2 203.9L798.5 202.8L800.8 201.8L803.0 200.8L805.3 199.8L807.6 198.8L809.9 197.9L812.2 196.9L814.5 196.0L816.8 195.1L819.1 194.2L821.3 193.3L823.6 192.4L825.9 191.5L828.2 190.7L830.5 189.8L832.8 189.0L835.1 188.2L837.4 187.4L839.6 186.6L841.9 185.8L844.2 185.0L846.5 184.3L848.8 183.5L851.1 182.8L853.4 182.1L855.7 181.3L855.7 42.2L858.5 47.2L861.4 51.9L864.3 56.4L867.2 60.6L870.0 64.7L872.9 68.5L875.8 72.2L878.7 75.6L881.5 78.9L884.4 82.1L887.3 85.1L890.2 87.9L893.0 90.6L895.9 93.1L898.8 95.6L901.7 97.9L904.5 100.1L907.4 102.2L910.3 104.1L913.2 106.0L916.0 107.8L918.9 109.5L921.8 111.1L924.7 112.7L927.5 114.1L930.4 115.5L933.3 116.8L936.2 118.1L939.0 119.3L941.9 120.4L944.8 121.5L947.7 122.5L950.5 123.5L953.4 124.4L956.3 125.3L959.2 126.1L962.0 126.9L964.9 127.6L967.8 128.3L967.8 216.0L968.7 215.6L969.6 215.2L970.5 214.7L971.4 214.3L972.3 213.9L973.2 213.4L974.1 213.0L975.0 212.5L976.0 212.1L976.9 211.7L977.8 211.2L978.7 210.8L979.6 210.4L980.5 209.9L981.4 209.5L982.3 209.1L983.2 208.6L984.1 208.2L985.0 207.8L985.9 207.3L986.8 206.9L987.7 206.4L988.7 206.0L989.6 205.6L990.5 205.1L991.4 204.7L992.3 204.3L993.2 203.8L994.1 203.4L995.0 203.0L995.9 202.5L996.8 202.1L997.7 201.7L998.6 201.2L999.5 200.8L1000.4 200.3L1001.3 199.9L1002.3 199.5L1003.2 199.0" fill="none" stroke="#00ff00" stroke-width="1.8" stroke-linejoin="miter"/>
<text transform="translate(0 294.9) scale(1 1.04)" x="674.7 684.6 689.1" y="0" font-size="29.2">0.2</text>
<text transform="translate(0 294.9) scale(1 1.04)" x="755.8 765.7 770.2" y="0" font-size="29.2">0.4</text>
<text transform="translate(0 294.9) scale(1 1.04)" x="836.9 846.8 851.3" y="0" font-size="29.2">0.6</text>
<text transform="translate(0 294.9) scale(1 1.04)" x="918.0 927.9 932.4" y="0" font-size="29.2">0.8</text>
<text transform="translate(0 294.9) scale(1 1.04)" x="601.4" y="0" font-size="29.2">0</text>
<text transform="translate(0 294.9) scale(1 1.04)" x="1005.4" y="0" font-size="29.2">1</text>
<text transform="translate(0 281.3) scale(1 0.985)" x="590.4" y="0" font-size="29.2">0</text>
<text transform="translate(0 235.3) scale(1 0.985)" x="569.4 583.4 589.1" y="0" font-size="29.2">0.2</text>
<text transform="translate(0 188.8) scale(1 0.985)" x="569.4 583.4 589.1" y="0" font-size="29.2">0.4</text>
<text transform="translate(0 142.2) scale(1 0.985)" x="569.4 583.4 589.1" y="0" font-size="29.2">0.6</text>
<text transform="translate(0 95.7) scale(1 0.985)" x="569.4 583.4 589.1" y="0" font-size="29.2">0.8</text>
<text transform="translate(0 49.1) scale(1 0.985)" x="591.1" y="0" font-size="29.2">1</text>
<text transform="translate(0 314.8) scale(1 1.055)" x="764.5" y="0" font-size="27.5" textLength="105.5" lengthAdjust="spacingAndGlyphs">time [ms]</text>
<text transform="translate(563.5,304.1) rotate(-90) scale(1 1.055)" font-size="27.8" textLength="293" lengthAdjust="spacing">normalized intensity [a.u.]</text>
<rect x="670.4" y="25.4" width="161.8" height="64" fill="#fff" stroke="#8c8c8c" stroke-width="1"/>
<line x1="677" y1="35.6" x2="697" y2="35.6" stroke="#b0b0b0" stroke-width="1.8"/>
<text transform="translate(0 41.9) scale(1 1.055)" x="699.4" y="0" font-size="20.7">measurement</text>
<line x1="677" y1="56.5" x2="697" y2="56.5" stroke="#ff0000" stroke-width="1.8"/>
<text transform="translate(0 62.7) scale(1 1.055)" x="699.4" y="0" font-size="20.7">filtered meas.</text>
<line x1="677" y1="79.1" x2="697" y2="79.1" stroke="#00ff00" stroke-width="1.8"/>
<text transform="translate(0 82.8) scale(1 1.055)" x="699.4" y="0" font-size="20.7">goal shape</text>
</svg>
</body></html>
